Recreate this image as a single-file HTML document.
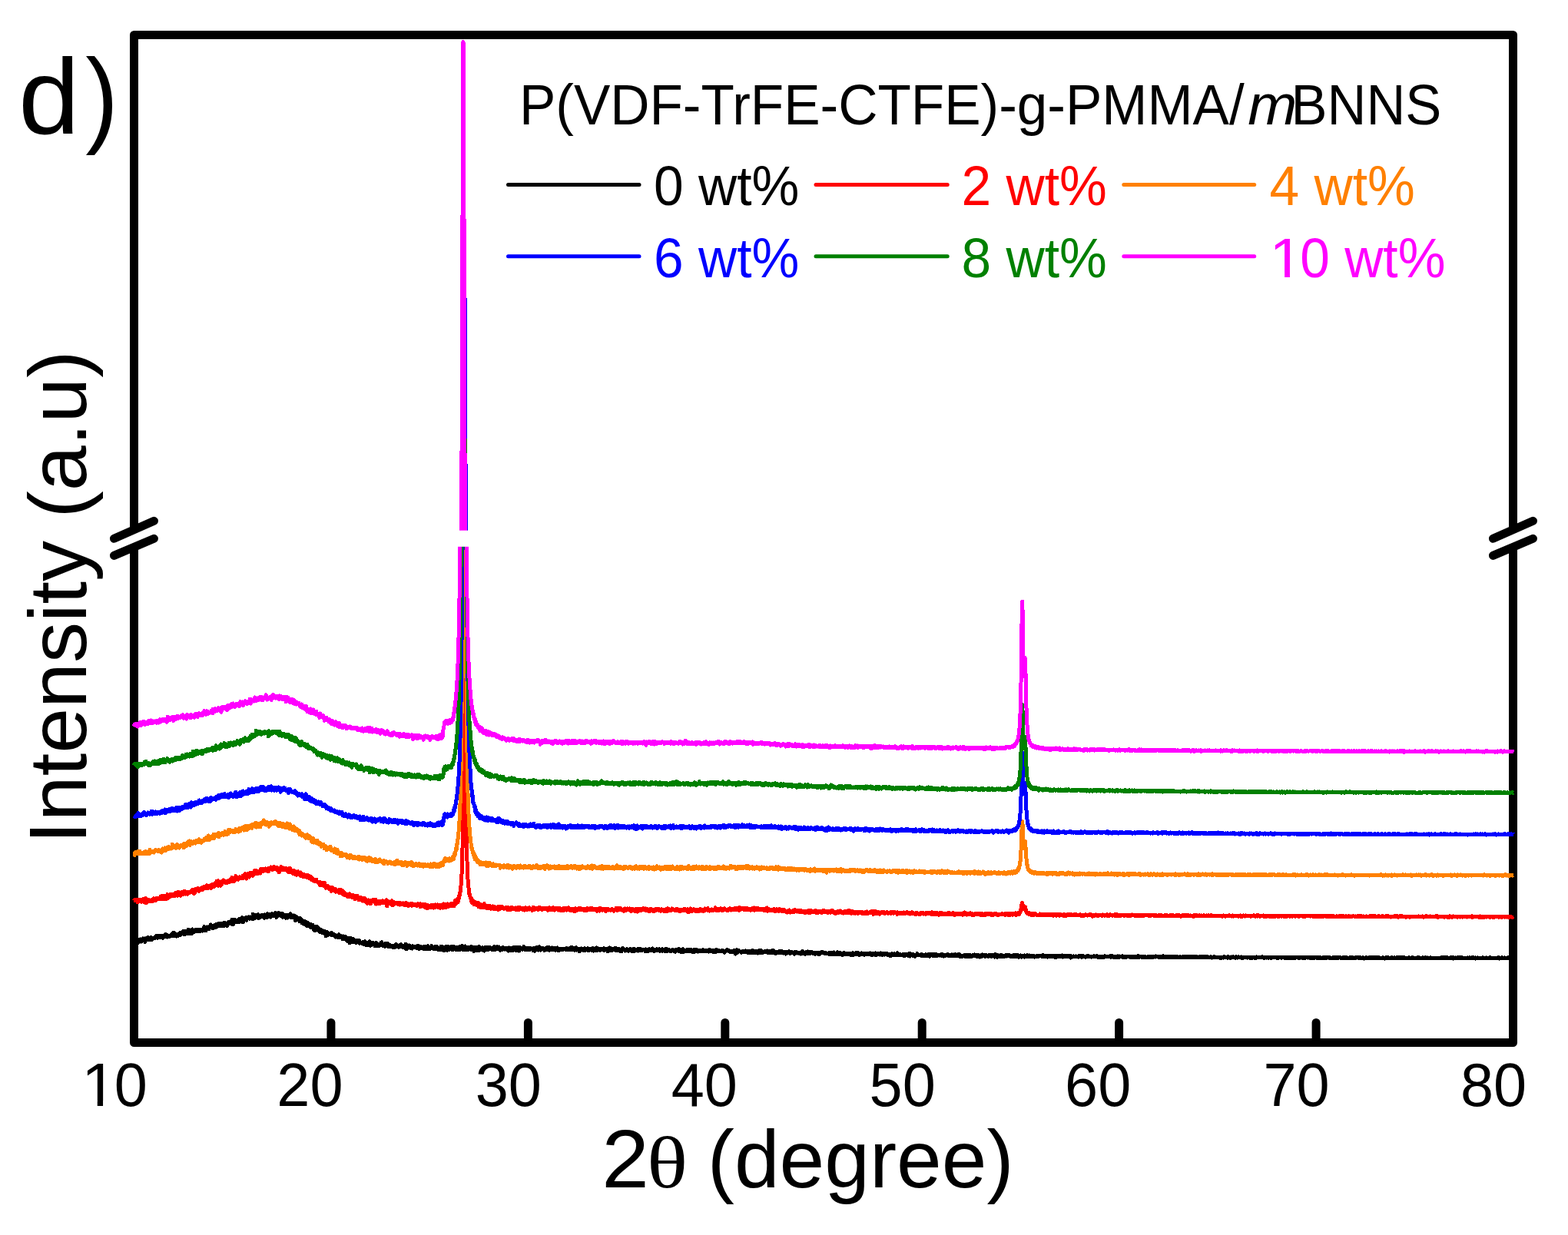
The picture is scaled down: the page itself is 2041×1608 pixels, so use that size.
<!DOCTYPE html>
<html><head><meta charset="utf-8"><title>XRD</title>
<style>html,body{margin:0;padding:0;background:#fff;width:2041px;height:1608px;overflow:hidden}svg{display:block}</style>
</head><body>
<svg width="2041" height="1608" viewBox="0 0 2041 1608">
<rect width="2041" height="1608" fill="#fff"/>
<g fill="none" stroke="#000" stroke-width="11" stroke-linejoin="round">
<path d="M174.5,690 L174.5,45.5 L1969.5,45.5 L1969.5,690"/>
<path d="M174.5,712 L174.5,1357.5 L1969.5,1357.5 L1969.5,712"/>
</g>
<g stroke="#000" stroke-width="11" stroke-linecap="round"><line x1="430.9" y1="1357.5" x2="430.9" y2="1331.5"/><line x1="687.4" y1="1357.5" x2="687.4" y2="1331.5"/><line x1="943.8" y1="1357.5" x2="943.8" y2="1331.5"/><line x1="1200.2" y1="1357.5" x2="1200.2" y2="1331.5"/><line x1="1456.6" y1="1357.5" x2="1456.6" y2="1331.5"/><line x1="1713.1" y1="1357.5" x2="1713.1" y2="1331.5"/></g>
<path fill="none" stroke="#000000" stroke-width="5" stroke-linejoin="round" shape-rendering="crispEdges" d="M174.3 1224.7l.5 3.1.5-2.6.5.6.5.1.5-.9.5-.9.5 2.3.5-.5.5-2.9.5 5.1.5-1.8.5-2.2.5 1.9.5-1.7.5.3.5.9.5-2.5.5 2.1.5.9.5-.2.5-2.1.5 1.3.5-3.1.5 1.6.5.7.5-2.3.5 1.4.5 2.1.5 1 .5-2.3.5 0 .5-2.3.5-.4.5-.4.5 2.3.5.2.5-1.8.5-.8.5 1.7.5 0 .5-.6.5 1.6.5-1.8.5 0 .5-1.4.5 1.5.5 1.4.5-1.7.5-.1.5.4.5-.3.5.2.5 0 .5 0 .5-1.9.5 1.3.5-2.4.5 2.2.5-2 .5 1.4.5.7.5-1.3.5.6.5-2.3.5 1 .5 1.8.5-2.4.5 2.2.5-2.6.5.5.5-.3.5 1.3.5.6.5-2.1.5 1 .5 2.3.5-2.6.5-.7.5 1.5.5-.9.5-.7.5-1.5.5 3.3.5-1.9.5.7.5-1.5.5 3 .5-.8.5.3.5-1.5.5.6.5.5.5.1.5-1 .5-.6.5-.4.5-.6.5-.4.5 1.7.5-.9.5-2.4.5 2.4.5 1.5.5-1.8.5-2.2.5 2.2.5 1.1.5-.8.5-1 .5 3 .5-.1.5-2.7.5 1.1.5-.6.5.4.5.8.5-.9.5-1 .5-1.1.5-.3.5 1 .5 1.5.5-1.3.5-.4.5.2.5-.4.5.6.5-2.3.5-1.2.5 2 .5-1.1.5 3.7.5-2.5.5-.2.5-1.9.5 2.4.5-1.3.5 2.3.5-.5.5-2.3.5 1.5.5-4.3.5 2.7.5 2.5.5-.7.5-.9.5-.4.5-2 .5 0 .5 2 .5 2.1.5-5.5.5 3.7.5-.1.5.3.5-2.6.5.4.5.7.5-1.6.5-.4.5.4.5 1 .5.5.5-.7.5 0 .5-1.1.5-.2.5 2.5.5-1.8.5-.2.5 1.3.5.3.5 0 .5-1.4.5-.7.5.3.5-.2.5 1.6.5-1.7.5.3.5-1 .5 1.8.5-4.9.5 3.3.5.4.5-2.9.5 4.6.5-3.4.5-.1.5-1.5.5 2.7.5-1.1.5-1.3.5 1.1.5.5.5.6.5-1.5.5-1.8.5.4.5-2.6.5 2.1.5 2 .5-.5.5-1 .5-.4.5 2.6.5-2 .5.8.5-.9.5-1.7.5 3.1.5-4.1.5-.1.5 1 .5-.6.5.1.5-.1.5 2.1.5-1.4.5.3.5-3 .5 1 .5 2.7.5-3.5.5 3.4.5-3.4.5 1.8.5-1.7.5 1.4.5-1.7.5.8.5 2.7.5-3.1.5 3.4.5-3.8.5-1.1.5 1.7.5-.8.5 3 .5-1.4.5.3.5-.9.5 2.6.5-2.6.5-.5.5-2.1.5-.2.5 1.5.5 1.1.5 0 .5-3.1.5 2.1.5-.6.5-2.1.5 2.3.5-4.2.5 3.6.5 3.2.5-5.3.5 1.4.5-2.9.5 1.6.5 2.1.5-2.7.5 1.3.5-.6.5-.1.5.7.5.4.5 1 .5-.7.5-2.2.5 2.8.5-.3.5-4.3.5 3.2.5.1.5.1.5-.7.5-2.8.5 1.4.5-2.8.5 2.7.5 3.2.5-2.1.5.1.5-2.1.5-.9.5-.1.5 1.6.5-1.5.5.2.5 2.5.5-4.2.5.3.5 1.1.5.5.5-.1.5-2 .5 2.2.5-.6.5.7.5-2.3.5 1.9.5-.2.5-1.4.5.6.5-.7.5 2.8.5-6.8.5 2.4.5-.5.5 1.9.5-.6.5.3.5 1.6.5-3.6.5 1.1.5.8.5-1.5.5 2.2.5-.1.5-1.7.5-1.7.5 5 .5-1.7.5-.2.5-.6.5-.2.5 1.2.5-1.3.5-1 .5 1.9.5-1 .5-1.4.5-.2.5 3 .5-.9.5 2 .5-3.9.5-.4.5 1.7.5 1.4.5-1.2.5-.4.5 2.2.5-4.1.5-.8.5.7.5.6.5 1 .5.9.5-1 .5 1.7.5-3.6.5 4.1.5-4.2.5 3 .5-3.3.5 1.9.5-.4.5.7.5.3.5-1.5.5.2.5.5.5-2.4.5.9.5-1.4.5 2.5.5 3.4.5-2.2.5-2.5.5.3.5 2.6.5-2.2.5-1.7.5.9.5 0 .5.1.5 2.6.5-.9.5-2.3.5 1.5.5-.9.5 0 .5-.4.5 5 .5-3.1.5 1.4.5.5.5-1.8.5 1.4.5.1.5-.4.5 3 .5-2.8.5-.7.5 1.4.5 1.8.5-1.1.5-2.1.5-.5.5-.1.5.5.5 1.7.5.7.5-4.5.5 3.4.5-1.5.5 2.8.5.5.5-2.4.5.6.5-.5.5 2.1.5-2.8.5 1 .5.8.5 3.1.5 1.9.5-3.3.5-1.6.5 2.2.5-1.2.5 2.2.5-2 .5 1.3.5.8.5 1.1.5-.7.5 2.3.5-1.4.5-2.6.5 4.3.5-1.5.5-.3.5 3.5.5-3.4.5 1.8.5-.9.5 3.3.5-2.2.5 1.1.5-2.1.5 4.4.5-3.5.5 3.2.5.5.5.4.5 1.1.5-4.1.5 2.6.5-.1.5.6.5 1.3.5-1.2.5-1.1.5 1.4.5 2.6.5-3.7.5 2.1.5-1.2.5 3.3.5-3.8.5 2.2.5.6.5.6.5 3.5.5-.9.5-3.4.5 4.8.5-4.5.5-.8.5.8.5 2.7.5.7.5-3.6.5 4 .5-.8.5 1.6.5-1.3.5 2.1.5-.3.5-2.3.5 4 .5-1.6.5 1 .5.9.5-3 .5 1.5.5-.8.5 0 .5 1.9.5.3.5 1.6.5.2.5-1.8.5-1 .5 5.9.5-1.3.5-3 .5-1 .5.9.5 1.2.5 1.3.5 0 .5-.6.5-.8.5.7.5-.5.5.7.5 0 .5 1 .5-3.2.5 2.3.5.2.5-1 .5 1.5.5-1.1.5.7.5.7.5.2.5-.3.5 2.5.5-1.1.5.3.5 0 .5-1.1.5-.2.5 2.6.5-1.5.5-1.9.5-.4.5 3.5.5-1.2.5 1 .5-.5.5.3.5.5.5-1.4.5 1.9.5 1.5.5-.3.5-3.2.5.7.5.1.5 1.6.5 1.6.5-.6.5-2.7.5 2.6.5 1.1.5-1.5.5 3.3.5-3.4.5 2.6.5 1.7.5-4.8.5 1.5.5 1.3.5 3.7.5-6.7.5 3.3.5-.2.5-.9.5-.4.5.6.5.4.5-1.2.5 3.9.5-3.4.5 1 .5-.2.5.5.5.8.5-1 .5.8.5 2.7.5-.7.5-1.7.5 1.7.5-2.1.5 1.5.5-2.1.5.5.5.5.5 2.9.5-1.2.5.5.5-.4.5.4.5.2.5.6.5-.7.5-1.3.5.3.5 2.7.5.3.5-1 .5-2.8.5 4.3.5-1.5.5-.4.5.2.5-.5.5 2.9.5 0 .5-3.5.5 1.2.5.7.5 1.3.5-4.7.5 4.4.5 1 .5-2.6.5.5.5 1.7.5-1.1.5-2.1.5.2.5.3.5-.5.5 1.9.5-.6.5.7.5.9.5 1.4.5-1.9.5-2.6.5 4.2.5-1.9.5 1.7.5-2 .5 1 .5-.5.5.1.5 1.7.5-2.4.5 1.1.5.1.5-.7.5-2.3.5 3.3.5-4 .5 1.7.5 1.4.5 1.1.5.6.5 0 .5-.2.5-1.2.5 2 .5-1.8.5 1.7.5-4.1.5 1.6.5.5.5.8.5-2.9.5 4 .5.2.5-.2.5-1.6.5 2.5.5-2.5.5 1.9.5-1.2.5.1.5-.2.5.2.5 1.5.5.4.5 0 .5-.6.5-.3.5-.2.5 1.6.5-2.6.5-.2.5.8.5-2 .5 1.7.5.3.5-1.1.5.5.5 1.6.5-1.1.5.4.5 1.2.5-2 .5-.6.5 1.4.5.6.5-2.7.5 3 .5-1.1.5-.1.5-.5.5.8.5 1.4.5-.5.5.4.5-1.4.5 2.4.5-.4.5-1.5.5-3 .5 3.2.5 3.2.5-3.3.5-1.1.5 3.3.5-2.7.5 1.3.5.3.5-2.5.5 1.9.5 1.2.5-1.7.5 1.2.5-.8.5 1.3.5.9.5-3.3.5.9.5.8.5-1.1.5-.2.5.6.5.1.5-.4.5 1.1.5.6.5 0 .5-.1.5.7.5-2.9.5 1.4.5.4.5.4.5-2.4.5 4 .5-3.1.5 1.3.5.6.5.4.5-2 .5.2.5 1.1.5.2.5.4.5-1 .5-.7.5-.7.5 3.5.5-3.5.5 2.3.5-.4.5.5.5.3.5.4.5-1.5.5.5.5-2.6.5 2.3.5-1.1.5.9.5 1.6.5-1.3.5 1.1.5-1.4.5.7.5-.9.5-2.3.5 2 .5.5.5.5.5-.1.5-.2.5 1.2.5-.3.5-1.1.5 1.4.5-3.1.5 1.9.5.1.5 1.6.5-2 .5-1 .5 1.8.2 1.7.2-2.1.1.1.1-.1.2.3.2 1.4.2.7.2-1.6.1-.6.1 2.1.2-1.9.2 0 .2-.5.2 0 .1.7.1-.6.2.8.2-.4.2.5.2-1 .1.2.1.5.2-.2.2 0 .2 1.2.2-2.5.1-.9.1 2.9.2-1 .2 1.7.2-1.6.2-1.1.1 3.6.1-1.9.2-1 .2-.3.2 1.5.2-1.4.1 1.2.1.8.2-2.8.2 1.2.2.9.2 1.3.1-.8.1-1.5.2 2 .2-1.9.2.2.2.6.1-1.6.1 4.5.2-2 .2-1.1.2-.8.2-.7.1 1.7.1.3.2-1.2.2.3.2.8.2-.7.1-1.9.1 2.7.2-.4.2.5.2-1.6.2-1.5.1.9.1 1.7.2 2 .2.3.2-2.3.2-1.9.1 1.2.1.9.2 0 .2-.4.2 1.4.2-2.5.1-1.3.1 1.4.2-.3.2 3.6.2-2.6.2-1.3.1 2.2.1.4.2-1 .2.1.2.9.2-.5.1-1.3.1 1.4.2.3.2-.6.2.6.2-.3.1-.9.1.1.2.8.2-1.3.2 1.9.2.1.1-3.5.1 2.1.2-.8.2.2.2.8.2-.3.1.8.1-.3.2.1.2-1.3.2.5.2 1.9.1-4.2.1 4.5.2-2.4.2 1.8.2-4 .2 2.3.1 1.4.1-.8.2 1 .2-2.1.2.4.2-.1.1 1.2.1 0 .2-.6.2-.2.2 0 .2.4.1-1.1.1.9.2-.1.2-.4.2 0 .2 2.2.1-2.3.1 1.1.2 1.1.2-.7.2-.8.2 1.1.1-2.6.1.2.2.9.2.2.2.1.2 2.1.1-.2.1-1.8.2.3.2-1.2.2 1.3.2-1.8.1 2.9.1-2 .2 1.1.2-2 .2 2.9.2-.8.1 1.4.1-2 .2-1.8.2.9.2-.5.2 3 .1-2.3.1-.2.2 1.5.2-.4.2.3.2-1.1.1-1.6.1.7.2-.9.2 3.7.2-.4.2-1.3.1 1 .1.1.2-.1.2-.1.2.4.2-.8.1-2.5.1-.6.2 4.3.2-.7.2-3.3.2 2.9.1-1.2.1.4.2-2.2.2 3.6.2-.9.2 1 .1.2.1.3.2.3.2-1.4.2-.1.2-.9.1 1.3.1-.9.2-1 .2 2.6.2-.5.2-3.7.1.9.1 1.8.2-1.2.2 2.7.2-1.1.2.4.1.4.1.4.2-1.7.2 1 .2-.4.2.6.1-.3.1.9.2-.9.2-1.1.2.7.2-1.4.1 1.6.1 1.2.2-2.2.2-1.1.2 1.7.2-.5.1.5.1-.6.2.7.2-1.1.2 2.7.2-1.9.1.8.1.3.2-1 .2.6.2-.7.2-.2.1.2.1.8.2-1.9.2.4.2.1.2.3.1 1.8.1-1.3.2-.3.2.5.2 1 .2-1.9.1 1.9.1-3.6.2 1.5.2 2.5.2.1.2-1.4.1-.7.1 1.4.2-1.3.2 2 .2-.4.2-.4.1-1.7.1 1.9.2-1.3.2.1.2-.2.2.3.1.6.1.4.2 0 .2 2.7.2-3.9.2 1.6.1-2 .1.5.2-1 .2 2.5.2-1 .2-.1.1-.3.1 1.1.2-1.5.2 1 .2 2.2.2-2.8.1-.5.1-.4.2 1.9.2-.8.2-.8.2-.1.1.9.1-1.1.2 3.3.2-2.4.2 0 .2.1.1-1.8.1.3.2 1.2.2.4.2-1.3.2 3.1.1-1.3.1.8.2-.1.2-1.5.2 2.9.2-2.5.1-2.1.1-.5.2 2.5.2.9.2-.8.2 1.7.1-2.1.1.9.2.2.2-1.9.2 1.4.2.1.1.7.1.2.2-.3.2-1.8.2 1.6.2.3.1-1.1.1.8.2 0 .2.4.2-1.1.2.4.1-.3.1-.1.2-.7.2.3.2-.9.2 1 .1.9.1-.1.2.2.2-.9.2 1.6.2-2 .1 1.3.1-.4.2-1.2.2.1.2 1.5.2-.8.1.3.1 2.9.2-2.6.2-.5.2.7.2-1.4.1.4.1.7.2-1.3.2.8.2-.2.2.3.1-1.9.1 3.7.2-2 .2.7.2-1.6.2-.3.1 1.4.1-.4.2 1 .2-1.6.2-.1.2 1.4.1.4.1.2.2-1 .2.3.2-1.1.2 2.2.1-.2.1 0 .2-2.8.2 2.5.2-1.6.2 1.2.1 0 .1.8.2-1.5.2-.1.2-.7.2-.2.1 1.8.1-1.5.2 1.6.2-1.1.2-.1.2 1.5.1-.1.1-1.9.2.9.2.1.2.7.2-1.4.1.3.1.3.2.8.2.3.5-1.5.5 2.3.5-1.3.5-1.3.5-.8.5 1.1.5-1.9.5 2.6.5.4.5.8.5-.8.5-2.3.5 1.5.5 1 .5-3 .5 1.4.5 1.5.5-.6.5-2.1.5 1.6.5.5.5 2.1.5-2.6.5-.4.5 1.1.5.1.5.3.5.9.5-1.6.5-1.3.5 1.4.5 0 .5 1 .5-.1.5-1.6.5 1.5.5.2.5-1.2.5 1.2.5-.8.5 0 .5-.3.5.9.5 2.1.5-2.6.5-1.4.5.9.5-.4.5 1 .5-.5.5 2.7.5-1.8.5 1.1.5-2.6.5.5.5 2.3.5-3.7.5 1.8.5-1.7.5 3.1.5-3 .5 1.2.5.1.5-1.5.5 4.1.5-2.6.5 1.8.5-2.3.5-.8.5 1.7.5 0 .5 2.7.5-4 .5-.5.5.9.5 1 .5.3.5-1.3.5.4.5.8.5.6.5-1.7.5.7.5-2.8.5 1.8.5 1.3.5-.4.5-.2.5 1.8.5-1.9.5-.8.5 1.3.5 0 .5-1.3.5 2.1.5.7.5-2.2.5-.3.5.8.5 1.3.5-1.8.5-.2.5.2.5.8.5 0 .5-.4.5 1.4.5 1 .5-2.8.5 1.6.5-.7.5 2.7.5-3.9.5.6.5.4.5-1.5.5 1.2.5.9.5-2.1.5 1.6.5 1.6.5-2.3.5-.3.5-1.6.5 2.4.5-1.5.5 2.1.5 1.1.5-1.1.5-1.3.5 1.4.5-1.1.5-.6.5.6.5.7.5-.5.5.8.5 1.6.5-1.5.5.2.5-1.4.5 1.9.5-.9.5.6.5-1.7.5 1 .5-2.5.5 1.9.5-.5.5-.1.5 2.7.5-3.2.5 1.3.5 0 .5.7.5.5.5-2.6.5 1.1.5-.2.5 1.4.5.2.5-1.3.5-.1.5-.4.5 1.3.5 1.3.5-1.3.5-1 .5-.1.5.1.5-.9.5 3.2.5-1.6.5-.3.5 2.4.5-1.9.5 1.2.5-1.1.5.8.5-1 .5-.4.5.7.5.3.5.4.5-.9.5-.4.5-.1.5.7.5-.8.5.2.5.8.5 0 .5 0 .5-1.2.5-.7.5 1.7.5-.2.5-.4.5.5.5.6.5-1 .5.6.5-1.3.5.7.5-.5.5-.6.5 1.8.5-3.1.5 2.6.5.8.5-.3.5-1.9.5 1.7.5-1.9.5.9.5 2.2.5-1.2.5 1 .5-2.2.5-.9.5 1.2.5 2 .5-.3.5.1.5-1.2.5.1.5-.1.5 3 .5-2.7.5 1.6.5-1.8.5 1.4.5-2.3.5.6.5.8.5-.9.5.2.5.2.5-.3.5 2 .5-.4.5-2.4.5 2.9.5-1.6.5 0 .5-.1.5 1 .5-.2.5-1.1.5.5.5-1.3.5 3 .5-2.5.5-.1.5.2.5.8.5.6.5-1 .5.4.5-.4.5 1.6.5-1 .5-1.9.5 3.1.5-1.1.5 1.5.5-2.4.5.1.5.3.5-1.1.5 1 .5 1.5.5-.5.5-2.9.5 3.5.5-.9.5.4.5-.7.5.1.5-.1.5 0 .5-1 .5 2 .5-.8.5.2.5-.1.5-.6.5.3.5-1.2.5 1.5.5 0 .5-.5.5-1.4.5 2.9.5-1.4.5.2.5-.3.5-.3.5.2.5-.6.5.5.5 2.5.5-.9.5.8.5-2.4.5-1.2.5.5.5-1.2.5 3.5.5.1.5-1 .5.2.5 0 .5-.4.5.8.5-1.6.5.5.5.3.5-1.5.5.7.5 1.3.5 0 .5-2.7.5 3.2.5-.5.5.4.5-.8.5.6.5-1.7.5 1 .5-.8.5.5.5 1.6.5.4.5-1.4.5-.5.5 1.2.5-.3.5 1.3.5-1.2.5-2.7.5 2.2.5-.3.5-.5.5.9.5-.1.5-.3.5 1.7.5-1 .5 0 .5-.2.5 1 .5-2.2.5 2.2.5-1.4.5 1.6.5 0 .5-.9.5-.8.5.6.5.1.5-1.7.5 1.1.5-.3.5 1.9.5.3.5-2.3.5.2.5-.7.5 1.5.5.5.5.9.5-2.8.5 2 .5-1 .5-.5.5.4.5-.4.5 1.1.5-.4.5 1.1.5-1.6.5-1.2.5.8.5 1.2.5-1.6.5.6.5 1.2.5-1.7.5 2 .5-.4.5-.9.5.5.5-.4.5.1.5.1.5.3.5-.1.5-.6.5-.2.5 2.8.5-2.9.5.9.5 1.2.5-.2.5-1.5.5 2.5.5-.2.5-1.9.5-.9.5 1.8.5-.8.5-.1.5-.4.5.2.5.7.5.6.5-2.7.5-.2.5 3 .5-1.6.5 1.4.5-.5.5 1 .5-.3.5-1.1.5.1.5.5.5.4.5-1.3.5-.8.5 1.5.5-.1.5-.1.5-.8.5 1.5.5-2.1.5 1.1.5 1.6.5-2.1.5 1.3.5.1.5 0 .5-1.9.5 2.4.5-.8.5.4.5-.2.5-.2.5 1 .5.2.5-2.9.5.9.5.6.5-1.8.5 3.3.5-2 .5 1.2.5-.3.5-.4.5-.7.5.6.5.4.5.6.5-.8.5-.2.5.1.5 1.4.5-.9.5-.8.5-.6.5.8.5-.4.5.4.5 1.6.5-.6.5-.4.5.2.5 1.2.5-2.6.5 1.4.5-.5.5.3.5-.1.5-.3.5.8.5-2.5.5 2.3.5.3.5-1.4.5-.1.5 2.6.5-2.5.5.5.5-.3.5.1.5 0 .5-1.3.5 4 .5-2.8.5 1 .5-.4.5 1.3.5-.6.5.4.5.1.5-.3.5-.7.5.8.5-2.3.5 2.2.5-.1.5-.4.5-1.4.5 2.4.5-1.8.5 1.2.5-2.2.5 1.5.5-.5.5-.1.5.1.5 2.2.5-1.6.5.4.5 1.6.5-3.2.5 2.6.5-1.6.5-.3.5.2.5-1.2.5.3.5.3.5.5.5 1.2.5.3.5-1.3.5.7.5.1.5-.6.5.4.5-.7.5 1 .5-.7.5.3.5.2.5-.1.5-.8.5-.5.5 1.1.5-.4.5 0 .5.4.5-.5.5 1 .5 0 .5-1.2.5 1.2.5-1.2.5 1.5.5-.1.5-.5.5.8.5.1.5-.5.5-2 .5 1.7.5.1.5.5.5-1.5.5 1.5.5-.3.5 0 .5-1.4.5.3.5 1.8.5-.3.5-.8.5 1.1.5-.8.5-.5.5-1 .5 2.2.5-1 .5.4.5-1.8.5 1.1.5.7.5-.4.5-.4.5-.4.5 1.2.5-.5.5 0 .5.1.5-.3.5.3.5-.3.5.6.5-1.2.5.2.5 1 .5-.1.5.3.5 1.6.5-1.1.5.3.5-.6.5-.4.5-.6.5-.9.5.4.5-.8.5 1.1.5-.4.5.5.5.8.5-.3.5 1.1.5.1.5.1.5-.2.5-.5.5-.6.5.8.5-.6.5.1.5.5.5-1.3.5-.4.5 1.7.5 1.2.5-.5.5 2.3.5-4.5.5.7.5-1.4.5 1.2.5 2.4.5-.2.5-2.3.5.6.5-.4.5-.4.5.9.5 0 .5.3.5.2.5.4.5.6.5-1.3.5-.1.5.2.5.4.5-.5.5-.7.5.4.5 1.1.5-1.5.5 1.6.5-1.9.5 1.7.5 0 .5-.7.5.2.5-.1.5 1.6.5-1.8.5-.2.5.9.5.6.5-.6.5-.4.5 1 .5-1.5.5 0 .5-.4.5 2.1.5-2.9.5.8.5 1.3.5.2.5 1.1.5-1.1.5-.8.5 1.6.5-.2.5.1.5-.1.5-.5.5-1.6.5.3.5 2.6.5-1.6.5-1.6.5 1.6.5.8.5-.5.5-.3.5-2 .5 2.1.5-.2.5 1.5.5-1.4.5 0 .5-.3.5.3.5.3.5-.6.5-.3.5-.3.5 1.1.5-.4.5.1.5-1 .5.6.5-.9.5 2.4.5.2.5-.7.5-.4.5.5.5-1.6.5.1.5 2.1.5-1.8.5.8.5-.5.5-1.4.5 1.4.5 1.3.5.4.5-3.2.5.8.5.9.5 1.3.5.2.5.3.5.1.5-1.7.5-.5.5 1.6.5-1 .5.3.5-.3.5 0 .5 1.1.5-1.6.5-.6.5.8.5.7.5-.3.5.1.5-1.5.5.9.5 1.7.5-1.1.5-.4.5 1.5.5-1.4.5 1.2.5-.5.5.2.5.5.5 1 .5-.8.5-1.7.5-.2.5.6.5.2.5.7.5-.5.5.1.5-1.6.5 1.4.5.5.5 1 .5-.8.5-.5.5-1.1.5 1 .5 0 .5-.1.5.3.5.3.5-.1.5 1.5.5-2.6.5-.5.5 1.6.5-1.3.5.9.5.1.5-.6.5 1.3.5-.1.5-.4.5.4.5.2.5-.9.5.7.5-.4.5-.1.5-.3.5 1.8.5-1.2.5-1.4.5 1.6.5-2.5.5 2.3.5.5.5.5.5-1 .5-.7.5 2.2.5-.8.5.2.5-1.2.5.7.5-1.9.5 1.8.5-2.1.5.9.5-.4.5 2.2.5-.2.5-1.2.5 1.5.5-.9.5-1.7.5 1.3.5-1.1.5 1.5.5.2.5-.8.5 1.2.5.2.5-1.5.5 1.2.5-.6.5-.1.5 1.6.5-1.9.5.3.5.2.5.5.5.2.5-1.4.5 1.9.5.4.5.2.5-1.5.5-.6.5-.4.5 1.1.5-.3.5 0 .5-.4.5-1.3.5 1.6.5.1.5-.2.5-.8.5.9.5.1.5-.8.5 1.5.5-.5.5.1.5.2.5-.5.5.2.5.5.5.2.5.1.5-.9.5.8.5.3.5-2 .5.8.5.3.5 0 .5 1.5.5-.5.5-1 .5 0 .5-1.1.5.4.5 1.9.5-2.5.5 1.9.5-1 .5.3.5.2.5 1.5.5-1.2.5.2.5.4.5-2.6.5 3.3.5-2.8.5.7.5 1.2.5-1.6.5-.4.5 2.4.5-1.2.5 1 .5-.3.5-.6.5 1.6.5-1.6.5 1.9.5-2.4.5-.1.5.3.5.8.5-1.1.5.3.5 1.8.5-1 .5.8.5-.7.5-.7.5-.2.5.8.5-.1.5-.4.5-.1.5 1.7.5-.4.5-.5.5-.6.5 0 .5 1.9.5-2 .5 2.3.5-2.4.5-.6.5 2.8.5-1.7.5 1.3.5-.8.5-.6.5 1 .5-1 .5.6.5-.5.5-1.2.5 1.7.5-.8.5.4.5.4.5-1.4.5 1.5.5.1.5 1 .5-.8.5-.4.5-.8.5.5.5-1 .5 1.4.5-.5.5-.1.5.3.5.4.5-.2.5-1.1.5 2 .5-1 .5.2.5-.3.5-.7.5 1 .5-.5.5-.4.5.8.5.5.5-.1.5-.3.5-.7.5.3.5.1.5-1 .5 1.8.5-.6.5-1 .5 2.1.5.4.5-2.5.5.9.5-.5.5 1.2.5-1.6.5 1.4.5-.1.5.6.5-2.3.5.9.5.4.5.9.5-.6.5.5.5-.2.5-1.1.5.6.5-.2.5.1.5-.4.5 1.2.5-.3.5-1.7.5 2 .5-.9.5-.7.5 2 .5-.9.5.3.5-.4.5.1.5-1.3.5 1.9.5-1.1.5.6.5-.1.5-.6.5-.2.5.8.5 1.1.5-1.5.5.1.5.5.5-.5.5 1.4.5-.6.5 1.6.5-1.8.5 1.6.5-2.1.5.6.5-1 .5.5.5.1.5.7.5.6.5-1.2.5-.9.5 1.1.5-.1.5-.2.5 1 .5.2.5-1.4.5 0 .5-1.4.5 1.5.5 1.1.5-1.3.5 1.4.5-.2.5 0 .5 0 .5-.5.5.8.5.1.5-.6.5-.2.5 1 .5.1.5-1.6.5 1.1.5-.5.5 1.7.5-2 .5-.2.5-.2.5 1.4.5-1.5.5 1.3.5-.9.5 1.4.5.2.5-.3.5-2.3.5.4.5-.9.5 3.9.5-2.4.5.2.5.3.5.4.5-.6.5.3.5-.1.5-.9.5 2.3.5-.1.5-1.2.5-.1.5 1.4.5.5.5-1.8.5.4.5-.7.5.6.5-2.1.5.2.5 2 .5-.5.5.4.5-.2.5.4.5-.2.5-.3.5.4.5-.8.5 1.5.5-1.7.5.4.5 1 .5-.9.5.9.5.4.5-.5.5-.8.5 1.7.5-1.1.5-1 .5 2.2.5-1.3.5.3.5.2.5-1 .5 1 .5-1.5.5.2.5.4.5 1.9.5-1.2.5.4.5-1.1.5.7.5-1.9.5 1.4.5.5.5-.7.5-1 .5.2.5 1.6.5.5.5-1.2.5 1.4.5-2 .5 1.4.5-.3.5.6.5-1.8.5 1.7.5-.6.5-.7.5.3.5.2.5.4.5-.8.5 0 .5.6.5 0 .5.3.5.3.5-1.9.5 1.2.5.3.5-.2.5-.7.5 1.2.5.7.5-1.3.5-.4.5 1.1.5-.5.5 0 .5.1.5-.5.5.4.5-.5.5-.9.5 2.1.5-.5.5-.3.5 1 .5-1 .5.9.5-.2.5-.8.5-.6.5 1.2.5-.2.5.6.5-1.8.5 1 .5.2.5.1.5-.1.5.1.5-1.8.5 1.4.5-.3.5-.5.5 1.1.5-.3.5-.6.5-.1.5 1.2.5-2 .5 1.7.5-.7.5.9.5 1.2.5-.6.5-.8.5 1.1.5.3.5-.6.5.6.5-1.1.5.3.5-.5.5-.2.5.3.5-.6.5.5.5 1.6.5-1 .5-.6.5 1.3.5-.2.5-1.7.5.2.5 1.7.5-1.1.5 0 .5-.4.5-.4.5 1.5.5-1.3.5.9.5.9.5-.9.5-.5.5.6.5 0 .5-.7.5.5.5-1 .5-.4.5.8.5-.8.5.8.5.3.5.2.5 1.2.5-1.9.5.3.5 0 .5-.3.5 2 .5-1.9.5.4.5 0 .5 1.8.5-1.8.5-.3.5 1.3.5-1.3.5-.9.5 2.1.5-.1.5-1.5.5.1.5.8.5-.6.5-.4.5.2.5 2 .5-.5.5-1.4.5.6.5.2.5-.3.5.2.5 1.2.5-1.6.5-.1.5.5.5-.4.5.2.5 0 .5-.4.5 1.4.5-1.2.5 1.3.5-1.4.5 0 .5.7.5-.3.5.7.5-.1.5 1.1.5-3.4.5 1.2.5.7.5-.1.5.1.5 1.7.5-3.1.5 1.9.5-.6.5.1.5.7.5-.7.5.6.5.3.5-.1.5-1.9.5.8.5-.5.5.4.5.4.5 1.4.5-1.7.5.2.5.1.5 1.1.5-1.3.5.6.5.2.5-.1.5-1.7.5.5.5 1.2.5-1.5.5 1 .5-.8.5 1.2.5-.3.5-.9.5.8.5-.5.5.3.5 1.1.5-.6.5.1.5.7.5-.9.2.8.25-.6.05-.1.2-.4.25-.2.05-.2.2.1.25.9.05-.1.2-.7.25 1.2.05-1.1.2.1.25-.6.05.4.2 1 .25-.2.05-.7.2 1.1.25-.7.05 0 .2.6.25-.3.05-.5.2-.4.25 1.4.05-2.2.2 1 .25-.7.05.7.2.9.25-.7.05-.1.2.3.25 1.2.05-.4.2-.6.25-.6.05.2.2.4.25-.3.05.1.2-.6.25-.2.05.2.2.8.25-.7.05 2.1.2-1.2.25 0 .05.3.2-1.3.25 0 .05.5.2.5.25 0 .05.7.2-.2.25-.2.05.1.2-.5.25.3.05-.7.2 0 .25.8.05-1.6.2 1.9.25.3.05-1.4.2.7.25-.3.05-.7.2.8.25.1.05.3.2-.8.25.3.05-.5.2 1 .25-.7.05.6.2-.9.25.5.05-.6.2.1.25 1.1.05-.8.2 0 .25.5.05-.9.2 1.6.25-1.6.05.3.2 1.5.25-2.3.05 2 .2-.8.25.1.05-.9.2.7.25-.8.05 1.3.2-.7.25-.3.05.1.2.2.25.7.05-.4.2-.6.25-.1.05-.1.2 1.1.25-.2.05-.9.2-.3.25.9.05-.3.2.6.25-.4.05.3.2.3.25.1.05-.7.2.5.25-.7.05-.4.2.8.25.6.05.1.2-.8.25-1 .05 1.2.2-.3.25.5.05.2.2-.8.25-.2.05.2.2-.2.25-.2.05.7.2-.5.25.3.05-.1.2-.1.25.7.05-.6.2.2.25.5.05-.6.2-.7.25.5.05 0 .2.7.25.6.05-.9.2-.2.25 1 .05-1.3.2.6.25.1.05-.3.2-.1.25.2.05.8.2-.5.25-.7.05.5.5.4.5.5.5-.6.5-.3.5.6.5-.2.5-.5.5-.4.5.4.5.5.5-1.1.5-.3.5 1.2.5-1.2.5.2.5.6.5 0 .5.1.5.1.5.2.5-.4.5-.4.5-1.1.5 2.3.5-.3.5 0 .5-.4.5-.5.5.8.5-.3.5-.7.5 1.3.5-1.3.5.5.5 1.2.5-1.4.5.5.5.5.5-.5.5-.8.5.5.5.2.5-.8.5 1.6.5-.6.5.3.5-.3.5.1.5-.4.5-.6.5 1.1.5-.3.5.8.5-1.4.5.7.5 1.1.5-1.9.5.1.5.7.5.8.5-1.5.5.6.5-.1.5-.2.5.2.5.8.5-.6.5-.8.5.4.5.4.5-.8.5.4.5.1.5-.9.5 2.1.5-1.8.5.9.5-.1.5-.3.5 1 .5-.6.5-.5.5 1.1.5-.3.5-.9.5-.2.5 1.2.5-.5.5-.7.5 1.1.5-1.1.5.4.5 0 .5-.6.5 1.4.5 1.4.5-1.5.5-.1.5-.3.5.1.5.2.5.2.5-.6.5.3.5-.2.5.4.5.2.5.1.5-.8.5 0 .5.6.5-.4.5 0 .5.3.5 0 .5.5.5-1.3.5 1.2.5-.8.5.6.5-1 .5.6.5-.3.5 1.2.5-1.3.5 1 .5-1 .5-.1.5.7.5.4.5-.6.5.4.5-.2.5-.1.5.7.5-.7.5.4.5-1 .5.5.5.6.5-.7.5-.9.5 1.5.5-.1.5-.4.5.2.5-.2.5.3.5.4.5-.4.5-.2.5-.2.5.2.5-.2.5.7.5-1 .5.3.5.4.5 0 .5 0 .5-.3.5.3.5-.8.5-.1.5.2.5.8.5.5.5-.9.5-.1.5.2.5 1 .5-.8.5 0 .5-.3.5.5.5.4.5-.6.5-.4.5 1 .5-.7.5.9.5-1.3.5.4.5.2.5-1 .5.9.5.3.5-.4.5.3.5-.1.5-.5.5.7.5-.7.5.2.5-.2.5.7.5-.5.5 0 .5-.8.5.9.5.6.5-1.5.5 1.2.5-.2.5-.8.5.6.5.7.5-.5.5.2.5.3.5-.6.5.5.5-.9.5.1.5 1.1.5 0 .5-.2.5-1.1.5.6.5-.3.5 1.2.5-1.5.5.1.5.3.5.4.5-.4.5.1.5.3.5-.1.5-.9.5.3.5 1.3.5-.7.5.8.5-.1.5-.2.5-.5.5.7.5-.9.5 1.2.5-.7.5 0 .5-.4.5-.1.5.1.5-.1.5-.1.5-.1.5.6.5.4.5.4.5-.6.5-.4.5.4.5.5.5-.7.5.4.5-.3.5-.1.5-.3.5.5.5-.6.5-.1.5.6.5.3.5-.1.5 0 .5-.5.5.1.5.5.5.5.5-2.1.5 1.7.5-.4.5-.2.5-.3.5.1.5-.3.5.7.5-.6.5.4.5-.6.5 1.2.5-.2.5-.8.5.7.5-.4.5-.2.5.4.5.4.5.2.5-.5.5.4.5-.2.5 0 .5.1.5-1 .5.4.5.9.5-1.3.5.3.5 1.1.5-1.2.5.5.5 0 .5-.2.5.5.5 0 .5-.7.5 1.1.5-1.1.5.2.5.1.5.1.5-.5.5.5.5-1 .5.7.5-.1.5 0 .5.3.5.1.5-.4.5.4.5-.7.5.5.5.5.5-.6.5.1.5.1.5.4.5-.2.5-.2.5-.3.5.5.5-1.3.5 1.3.5-.4.5.5.5-.3.5.6.5-.8.5-.5.5.8.5-.2.5.2.5.5.5-.9.5.7.5.1.5 0 .5-1.2.5.9.5-.4.5.2.5-.2.5.2.5.5.5.3.5-.4.5-.8.5 1 .5-.9.5.3.5.6.5-.7.5.5.5-.3.5-.4.5.5.5-.2.5.9.5 0 .5-.1.5-1 .5 1.1.5-.6.5.1.5-.1.5-.3.5.2.5.3.5.3.5-.4.5-.2.5-.2.5.1.5.7.5-.3.5-.2.5-.7.5 0 .5.9.5 0 .5.2.5-.4.5-.3.5-.4.5.3.5-.5.5 1 .5 0 .5.4.5-1.2.5.1.5.8.5-.1.5-.9.5.5.5.3.5-.2.5.3.5-.1.5-.2.5.3.5-.1.5.4.5-.9.5.4.5-.1.5.1.5.3.5.1.5-1.1.5 1.3.5-.3.5 0 .5-.1.5.3.5-.2.5-.8.5.4.5.1.5 0 .5 0 .5.4.5-.7.5.2.5-.1.5.4.5.1.5-.5.5.5.5-.3.5.7.5-1.3.5.8.5.4.5-.5.5-.3.5.1.5.5.5-.4.5.6.5-.4.5-.2.5.1.5.3.5.2.5-.7.5-.1.5 0 .5.6.5.5.5-.8.5.4.5-.4.5.5.5-.9.5.8.5-.7.5.2.5.4.5-.2.5 0 .5.3.5-.1.5.4.5-.2.5-.6.5.3.5-.2.5.1.5.7.5-.9.5.8.5.1.5.4.5-1 .5.1.5 0 .5-.2.5.8.5 0 .5-1.5.5.7.5.6.5-.8.5.1.5.3.5-.1.5 0 .5 0 .5.7.5-1.5.5.7.5-.2.5.5.5-.3.5.3.5-.1.5.8.5-1.3.5.3.5.5.5-.4.5.1.5-.6.5.8.5-.2.5.2.5-.5.5.1.5-.1.5.9.5-1.2.5.8.5-.1.5.4.5-.4.5-.4.5.5.5-.8.5 1 .5-.4.5-.2.5.1.5.3.5-.7.5 1.1.5-.8.5.8.5-.5.5.6.5-1.1.5.8.5-.4.5-.2.5.6.5-.4.5-.2.5.2.5-.2.5.2.5.1.5.4.5-.4.5-.3.5.5.5-.3.5-.2.5-.1.5 1 .5-.6.5.6.5-.9.5-.1.5 1 .5-.7.5 0 .5 0 .5-.2.5.7.5-.8.5.7.5-.6.5 1.2.5-.6.5.1.5-.9.5.7.5-.4.5-.1.5.1.5.5.5-.2.5-.2.5-.1.5 0 .5.1.5.1.5-.3.5.1.5-.5.5.8.5.2.5-.4.5.6.5-.7.5.3.5.4.5-.3.5-.4.5.4.5-.2.5.5.5-.1.5-.4.5.3.5.4.5-.2.5-.1.5-.3.5-.2.5 0 .5.6.5-.7.5.5.5.3.5-1 .5.6.5-.4.5.3.5.2.5-.5.5-.1.5.3.5.2.5-.2.5-.2.5.6.5-.6.5-.1.5.5.5.7.5-.9.5.1.5-.3.5.2.5-.2.5.5.5-.3.5-.1.5.6.5-.8.5.8.5-.4.5-.2.5.3.5-.1.5.2.5-.2.5.7.5-.3.5.1.5-.8.5.3.5.5.5-.2.5-.2.5 0 .5.3.5-.9.5.3.5-.1.5.8.5-.8.5.3.5.6.5-.6.5.2.5-.1.5.2.5.5.5-1 .5.3.5.6.5.2.5-.8.5.5.5-.2.5-.1.5-.6.5 0 .5.5.5-.1.5 0 .5-.3.5.8.5-.5.5.9.5-.9.5.2.5.1.5-.3.5-.2.5.1.5.2.5-.2.5.8.5-.8.5.4.5 0 .5-.2.5-.3.5.4.5.2.5-.3.5 0 .5-.7.5.4.5.2.5.2.5.1.5-.3.5.2.5-.4.5.5.5 0 .5-.2.5.3.5-.4.5 0 .5 0 .5.7.5-1.1.5.6.5-.2.5.2.5-.5.5.7.5-.1.5-.2.5-.1.5.2.5.2.5-.7.5.9.5-.6.5.4.5-.5.5.8.5-.5.5.5.5-.7.5 0 .5.5.5-.1.5-.1.5.2.5-.2.5-.2.5-.5.5-.1.5.9.5-.1.5-.4.5.4.5-.2.5.1.5.3.5-.8.5.6.5 0 .5-.2.5.1.5-.3.5.3.5.2.5 0 .5-.4.5.4.5-.1.5.1.5-.2.5.2.5-.1.5.6.5-.8.5.5.5-.4.5-.4.5.6.5.2.5-.2.5.1.5-.5.5.3.5-.5.5 1 .5-.1.5-.8.5.2.5-.2.5.1.5.1.5-.2.5.2.5.3.5-.2.5.3.5-.3.5.1.5-.4.5.6.5-.6.5.2.5-.2.5.5.5-.5.5.5.5.4.5-.4.5-.8.5 1 .5-.3.5.1.5 0 .5.2.5 0 .5-.4.5-.3.5.3.5.3.5-.8.5.6.5-.6.5.9.5.2.5-.3.5-.3.5.3.5.2.5.1.5-.1.5-.1.5-.6.5.3.5.1.5-.1.5-.6.5.5.5-.1.5.3.5 0 .5-.5.5.2.5.3.5-.4.5.3.5-.2.5 0 .5.5.5-.3.5-.2.5.7.5-.6.5.1.5 0 .5.9.5-.7.5.1.5-.4.5.4.5.1.5-.7.5.5.5.3.5.1.5-.5.5.6.5-.9.5.6.5-.2.5-.5.5.6.5-.6.5.1.5.2.5-.3.5.7.5-.5.5-.2.5.4.5 0 .5-.4.5.2.5.4.5 0 .5-.7.5.8.5 0 .5 0 .5-.5.5-.1.5.2.5-.1.5.1.5-.1.5.1.5-.1.5.2.5 0 .5-.1.5-.1.5.7.5-.2.5-.2.5-.4.5.5.5-.3.5.3.5-.1.5.7.5-.8.5-.3.5.6.5 0 .5.1.5-1.2.5.5.5.1.5-.3.5.5.5.2.5.1.5 0 .5-.3.5.5.5-.4.5-.9.5.7.5-.1.5.3.5-.2.5 0 .5.5.5-.6.5-.2.5.5.5.1.5-.2.5 0 .5-.2.5-.2.5.2.5-.1.5.7.5-.5.5.5.5-.4.5-.3.5.4.5 0 .5.3.5-1 .5.5.5.2.5-.3.5.2.5-.1.5.5.5 0 .5-1 .5.2.5.2.5.2.5 0 .5-.1.5.3.5.1.5-.2.5-.2.5.1.5-.2.5.5.5 0 .5-.5.5.7.5-.5.5.3.5-.3.5 0 .5.3.5-.6.5.3.5-.3.5.5.5-.2.5 0 .5-.1.5.3.5-.1.5-.1.5-.1.5.7.5-.1.5-.8.5.7.5-.2.5 0 .5 0 .5-.5.5 1.1.5-.1.5-.6.5 0 .5 0 .5-.2.5.3.5-.1.5-.4.5.2.5 0 .5 0 .5.1.5.3.5-.4.5-.3.5.9.5-.6.5.6.5-.4.5.1.5-.4.5.3.5-.1.5.1.5.1.5-.2.5.3.5-.6.5.1.5.4.5 0 .5.2.5.2.5-.4.5.1.5-.1.5-.1.5 0 .5 0 .5-.2.5.2.5.2.5 0 .5.1.5-.4.5 0 .5.2.5-.3.5-.1.5.5.5-.3.5.4.5-.3.5-.1.5-.2.5.7.5-.4.5-.3.5-.1.5 0 .5.3.5.5.5-.7.5.4.5 0 .5-1.1.5.6.5.6.5-.8.5.9.5-.3.5-.5.5 1.1.5-.6.5.5.5-.4.5-.3.5.5.5.2.5-.1.5-.8.5.6.5-.5.5.1.5.6.5-.8.5 1.2.5-1.3.5.1.5.6.5-.3.5.1.5-.3.5.5.5-.1.5-.1.5-.2.5-.2.5.4.5-.6.5.4.5.4.5 0 .5-.3.5-.7.5 1 .5.1.5-.3.5.4.5-.1.5-.8.5.5.5-.1.5.6.5-.1.5-.3.5.1.5.1.5-.5.5.2.5 0 .5-.1.5 0 .5.2.5-.5.5.1.5.6.5.2.5.1.5-1.1.5.6.5-.3.5.1.5.1.5.2.5 0 .5-.9.5.6.5.5.5-.3.5-.6.5.2.5.1.5.5.5.3.5-.9.5.5.5-.2.5.2.5-.2.5-.3.5.1.5 0 .5.7.5-.7.5.4.5-.4.5 0 .5.3.5-.2.5.7.5-.2.5-.7.5.5.5.3.5-.8.5.2.5.6.5-.7.5.4.5-.2.5.1.5-.4.5.3.5-.1.5.7.5-.4.5-.1.5-.1.5.3.5-.7.5.1.5.1.5 0 .5-.3.5.7.5-.3.5.5.5-.4.5-.1.5.3.5 0 .5-.2.5.2.5.2.5-.5.5.5.5-.4.5.3.5-.3.5-.1.5.2.5-.4.5-.1.5.4.5 0 .5-.3.5 1 .5-.5.5-.4.5.4.5 0 .5-.3.5.1.5-.5.5.6.5.5.5-.2.5 0 .5-.5.5-.2.5.6.5-.2.5-.1.5 0 .5.3.5-.1.5-.3.5.1.5-.4.5.1.5.5.5-.3.5-.1.5.3.5.3.5-.6.5.2.5 0 .5.8.5-.4.5-.3.5-.5.5.7.5-.1"/>
<path fill="none" stroke="#ff0000" stroke-width="5" stroke-linejoin="round" shape-rendering="crispEdges" d="M174.3 1173l.5-.7.5.4.5-1.5.5 1.5.5-.1.5-.5.5.7.5-1.5.5 3.2.5-1.5.5-1.3.5 2.4.5-.3.5-1.3.5-1 .5 1.5.5.6.5.2.5.4.5-.1.5-2.9.5 1.9.5-2.4.5 3.4.5-.7.5.7.5-1.2.5 0 .5-.7.5-2.8.5 3.2.5 3.4.5-1.6.5-1.9.5.6.5.1.5-1.3.5.7.5.3.5-1.1.5 1.2.5.9.5-.6.5-.7.5-.7.5 1.1.5-1.7.5-.2.5 2.3.5-2.1.5-1.4.5 2.7.5-.3.5.5.5-1.7.5 1.5.5-1.7.5-1.3.5 1 .5.4.5-1.8.5 1 .5.4.5-.9.5.5.5-.3.5-1.1.5 1.3.5.2.5-3.4.5 1.5.5 1.8.5-.6.5-3.1.5 2.6.5 1.3.5-.8.5-.2.5-1.3.5.1.5-1.7.5 1.4.5 2.8.5-3.2.5-1.3.5 1.8.5-3.5.5 5.5.5-2.3.5-1.3.5-.3.5-.8.5 1.2.5-.2.5-2.2.5 3.2.5-1.9.5-1.1.5 2.5.5-.3.5-1.9.5-.2.5 2.2.5-2.1.5.7.5 1.4.5-3.5.5-.5.5.8.5.2.5.7.5 1.2.5-2 .5 2.8.5-2.1.5-3 .5 2.5.5.9.5.5.5-2.6.5.8.5 3 .5-2.8.5-1.6.5-.8.5 1.3.5 1 .5-2 .5 3.2.5-2.9.5-1.6.5 3.3.5-.9.5-.4.5 1.9.5-2.6.5 1.7.5-1.8.5 2.9.5-2.3.5-.1.5.7.5-1 .5.7.5-1.1.5 1.1.5-.9.5-.9.5 1.4.5-.2.5-2.2.5.9.5-2 .5 2.4.5.9.5 2 .5-3 .5.9.5.5.5-1.2.5-3.7.5 1.8.5 1 .5-.2.5-.4.5-1.5.5-1.5.5 3 .5.9.5-2.4.5 1.3.5-1.7.5.4.5-.7.5 1.8.5-2.6.5 1.3.5.9.5-1.4.5-1.9.5 2.2.5-1 .5-1.7.5 1.4.5-.3.5 1.1.5-1.7.5.6.5.6.5-3.7.5 3.9.5-1.5.5-1.6.5 1.4.5 1.1.5-2.6.5 0 .5 2.6.5.1.5.4.5-2.9.5-1.6.5-.1.5.7.5-1.1.5 1.9.5 1 .5-3.5.5 3.5.5-3.6.5.1.5-1.1.5 2.8.5-1.3.5 0 .5-4.3.5 3.1.5 1.1.5-4.5.5 6.6.5-2.5.5 1 .5-2.2.5 1.6.5.4.5 1.7.5-5.3.5 4.3.5-4.7.5 1.7.5-.9.5.1.5-2.6.5 2.2.5-1.4.5 1.3.5.5.5-.4.5-.4.5 2.1.5-1.7.5.3.5.9.5-2.1.5.1.5.7.5-1.5.5 2.1.5-2.9.5.5.5 0 .5-.4.5.3.5-.8.5-2.9.5 5.1.5-2.5.5 1.6.5-2.8.5 2.4.5-2.9.5 3.9.5-2.5.5-.6.5-3.6.5.7.5 2.5.5-.4.5-.1.5 0 .5 2.1.5-2.2.5-.1.5-.7.5-.6.5 2 .5-1.3.5-.1.5.9.5-.5.5.9.5-.2.5-3.1.5.6.5 2.4.5-2.1.5 1.3.5-2.4.5-2.4.5.2.5 2 .5.2.5 4 .5-2.6.5-.2.5.1.5-4 .5 2.3.5-.4.5 2.8.5-4.2.5-1.3.5 2 .5-.6.5.2.5 0 .5-.3.5-1.4.5 0 .5 3.9.5-4.6.5 1.5.5-2.5.5-1.3.5 3.7.5-1.2.5 1.5.5-.6.5-1.4.5-1.7.5 3.8.5-2.9.5 2.9.5-2.3.5.2.5-.6.5-.3.5-1.1.5 3.7.5-5 .5-1 .5 2.6.5-1.5.5 2.3.5-1.8.5 1.9.5-1.8.5-1.4.5.6.5 1.4.5-2.1.5-.4.5.9.5.6.5 1.3.5-1.3.5.6.5-1.7.5 3 .5.4.5-4.4.5 1.3.5-.6.5.6.5-1 .5-.7.5-.9.5 1.1.5.7.5 1.5.5-.7.5-1.5.5-.4.5-1.3.5 3.2.5-.9.5.8.5.2.5-.3.5-.9.5-.3.5-1.1.5.6.5 1.7.5 2.8.5-4 .5 1.1.5 4.5.5-4.6.5-.6.5.6.5-.3.5-2.4.5 4.2.5-3.8.5 1.9.5.3.5 1.4.5-.9.5-.3.5-.4.5 1.7.5-.7.5-.5.5-.8.5.9.5 1.6.5-2.4.5 2.6.5.1.5 1.7.5-2.6.5-.3.5 1.4.5-.3.5-3.2.5 5.8.5-1.3.5 0 .5-1.3.5 1.9.5-.9.5 2.9.5-1.1.5 1.2.5-3.8.5.7.5.8.5-.1.5 3.4.5-1.6.5-2 .5 1.4.5 3.2.5-2.9.5 1.5.5-3.3.5 1.9.5.8.5 0 .5.6.5.7.5 1.3.5-4 .5 2.8.5 1.1.5-.5.5 1.6.5-1.7.5-.2.5-.4.5 2.7.5-3 .5 1.4.5.8.5 1.2.5-1.2.5-.7.5 2.4.5-2.3.5.8.5-1.6.5 3.3.5.2.5-2.5.5 2.4.5 1.3.5-1.5.5-1.2.5 2.5.5 1.2.5-3.3.5 4.1.5-1 .5 1.6.5-2.5.5 3 .5-.6.5.9.5-.8.5 1.6.5-1.4.5-.2.5-.6.5-.5.5 2.6.5-.4.5.6.5 0 .5 1.1.5-.2.5-.6.5 2.1.5 2.1.5-4 .5.9.5 1.6.5-1.5.5 2.6.5-2.1.5-.5.5.6.5 3 .5-4.1.5 3.2.5-2.9.5 4.3.5-.3.5.6.5 2.3.5-2.8.5 1.9.5-.5.5.8.5-2.2.5 2.8.5-1.7.5 2.7.5-.5.5-1 .5 1 .5.1.5-.2.5 3.6.5-4.6.5-.5.5.3.5 1.7.5.5.5 1.2.5.6.5-.8.5.1.5-1.3.5 2.9.5.8.5-1.9.5 1.4.5-1.7.5 1.1.5.4.5 1.3.5-3 .5 2.3.5 1.4.5-.6.5.7.5-4.1.5 2.4.5.8.5-.2.5-1.9.5 4.8.5-.9.5-2.8.5 2.2.5.9.5 1.5.5-.2.5-2.1.5.7.5 1.4.5 1.2.5-1.7.5-.1.5 1.8.5-.4.5 1.9.5-1.1.5.9.5-3.8.5.9.5 0 .5 1.2.5 1.6.5-.7.5 1.2.5-1.6.5 2.5.5 0 .5-3.3.5 1 .5.7.5 2.1.5.1.5 1.5.5-4.3.5 2.4.5-.1.5-.3.5.4.5-2.5.5 3.3.5-.8.5-1 .5 3.6.5-2.6.5 1.3.5-1.1.5-1 .5 1.6.5 1.1.5-1.6.5 2.1.5 1.7.5-.6.5-1.9.5-.5.5 2.4.5-3 .5.6.5 3.8.5-1.7.5.2.5-.9.5 4.2.5.5.5-4.2.5 1.4.5-1.4.5 1.1.5 1.2.5 0 .5-1.9.5.9.5 3.3.5-2.4.5.7.5-1.1.5-.8.5-1.2.5.2.5-.8.5.8.5.3.5 2.2.5-3.1.5 2.8.5-3 .5 5.9.5-4 .5 1 .5 2.1.5-2.5.5.5.5.1.5.6.5-1.3.5 2.9.5-.7.5-1.2.5 1.4.5-1.7.5-.5.5.6.5.8.5-2.5.5 1.6.5 1 .5-1.9.5 1.9.5-1.8.5 1.7.5-.3.5.6.5-1.3.5-1.6.5-.7.5 8 .5-6.5.5.8.5-1 .5 3.9.5-.8.5.2.5-2.4.5 2.7.5-2.2.5 2.6.5-1.6.5-2.8.5 2.8.5-.9.5 4.2.5-4.7.5 1.3.5.1.5-.7.5.2.5.9.5.5.5-.9.5.2.5.4.5-1.1.5.9.5.4.5 1.3.5-.4.5-.2.5.5.5-2 .5 2.4.5-1.8.5.3.5-.3.5 1.4.5-1.6.5 1.6.5-1.1.5-.2.5 1.2.5-1.5.5 2.5.5-2.2.5.3.5 2.1.5-3.2.5 2.9.5-.9.5 0 .5.2.5-1.3.5 3.1.5-1.2.5.1.5.3.5.2.5-.7.5-1.5.5-.3.5 0 .5 1.1.5 1.7.5-2.6.5 1.1.5 1.2.5-1 .5.1.5-.9.5 1.5.5-.8.5-.1.5.4.5.9.5.8.5-2.5.5 2 .5-1.8.5-.8.5 1.4.5.9.5-.1.5.5.5-2.7.5 4 .5-.6.5-.1.5-2.6.5 2.4.5-1.1.5.1.5.6.5-1.8.5 3.1.5 0 .5-.2.5.7.5-3.5.5 1.6.5 0 .5-1 .5 2.4.5 2 .5-4 .5 1.8.5-.5.5.1.5 0 .5.7.5-1.5.5.3.5 2.3.5-1.8.5 0 .5-1.9.5 2.5.5.2.5-.4.5 1.5.5-4 .5 3.2.5-2.8.5.7.5-1.1.5 3.2.5-1.1.5-.3.5.5.5-2.4.5 1.6.2.9.2-.8.1.5.1-1.6.2 1.9.2-.5.2.5.2 1.5.1-1.6.1-.8.2 1.1.2-1.7.2 3.1.2-1.9.1 0 .1.6.2-2 .2 1.4.2-.3.2 2.6.1-.7.1.4.2-2 .2.1.2 1 .2-1.9.1-.3.1 2.7.2-1.2.2 0 .2-2.4.2 1.4.1 0 .1-.3.2 1.1.2-1.4.2-.3.2 3.5.1-1.7.1-1.6.2 3.4.2-1.7.2-.2.2-3.4.1 4.6.1-1.4.2 1.1.2.6.2-3.3.2 3.4.1-1.1.1-.8.2-2.7.2 4.7.2-1.8.2.3.1-2 .1 2 .2-.1.2 1 .2-2.7.2-1.4.1 1.7.1-.4.2 1.4.2-.5.2.3.2 1.2.1.4.1-1.8.2-1.8.2 1.7.2-.2.2.1.1-.1.1.1.2-2.4.2 2.9.2 0 .2-.3.1-.5.1 1.1.2-2.8.2 1.6.2.8.2-1.2.1.4.1 1.1.2-1.3.2-.8.2.4.2.9.1-1.6.1 1.2.2-.5.2.4.2.7.2 0 .1-.8.1.2.2.5.2-1.7.2.9.2-1.4.1 2.5.1-1.2.2-1.6.2.8.2 1.3.2-.6.1-2.1.1 3.7.2-1.7.2.1.2-.8.2-.7.1-.7.1 1.7.2-.3.2-.3.2 1 .2-.5.1-1.5.1.6.2 1.5.2-2.7.2 3.6.2-3 .1 3.3.1-2.3.2-2.3.2 2.1.2-.5.2-.7.1.4.1 0 .2-3.7.2 4.1.2-1.3.2.2.1.7.1-.9.2-1.5.2 2 .2-1.4.2.4.1-1.2.1.5.2-1.1.2 2.5.2-3.1.2 1.9.1-3.2.1 2.1.2-.9.2 1 .2-1.1.2 1.7.1.5.1-3.9.2.9.2-2.2.2-.6.2.4.1.8.1-.6.2-1.5.2.7.2-3.3.2-.5.1.4.1-2.3.2 2.4.2-2.7.2-1.4.2-.5.1-2.6.1.5.2-3.3.2-.2.2-1.8.2-.8.1-3 .1.1.2-4.5.2-5.1.2-1.5.2-5.3.1-3.3.1-1.2.2-8.5.2-6.9.2-7.9.2-10.9.1-8 .1-6.1.2-17 .2-20.6.2-27.9.2-37.1.1-19.6.1-22.7.2-64 .2-81.9.2-79.9.2-9.9.1-5.6.1-21.7.2-81.2.2-34.1.2 34.1.2 80.3.1 22.5.1 5.6.2 9.9.2 80.1.2 81.9.2 63.3.1 24.2.1 20.9.2 36.2.2 27.4.2 20.3.2 15.4.1 8.6.1 6.8.2 10.2.2 8.5.2 8 .2 6.4.1.5.1 6.2.2 3 .2 6 .2 1.4.2 2.1.1 3.1.1.5.2 3.2.2.6.2 1.8.2 1.4.1.8.1 1.9.2-.5.2 2.7.2 2.1.2-1.2.1 1.2.1-.1.2 1.2.2 1.3.2 1.3.2.8.1-1.3.1 1.7.2-.8.2-.1.2.7.2-.6.1 2.3.1-1.8.2 2.5.2 2.9.2-3.4.2-.9.1 2.7.1-1.3.2 1.3.2.3.2.5.2 2.4.1-2 .1.1.2-.2.2-.4.2.3.2-.3.1 2.1.1-1 .2 1 .2-.2.2 2.2.2-2.3.1.8.1-1.2.2 1.9.2-1.3.2.4.2-1.4.1 2.1.1 1.2.2-.2.2-2.5.2 2.2.2-1.6.1-.9.1.4.2 2.7.2-1.5.2-.9.2 1.7.1 0 .1-.6.2.9.2-.8.2 1.7.2-.4.1-.8.1.4.2.7.2-1 .2.7.2-.6.1-.2.1-1.7.2.8.2.3.2 1.2.2 2.7.1-3.7.1.5.2-.8.2 1 .2.2.2 1.1.1-2.2.1 2 .2-.2.2-.5.2-1 .2.3.1.9.1.9.2-.7.2-.6.2 1.1.2-1.3.1 1.9.1 2.3.2-3.6.2 1.8.2-2.1.2 1.2.1.5.1.7.2-1.2.2 1.5.2-2.7.2 1.1.1.3.1.1.2-.2.2 2.2.2-2.3.2 1.5.1-.6.1 1.8.2-2.4.2 1.1.2-.1.2-3.9.1 3.8.1.7.2.6.2-2.7.2 1 .2 1.5.1-2.4.1.3.2 1.5.2.2.2.7.2-.1.1-1 .1-1.3.2.5.2.7.2.5.2-.3.1.8.1-1.6.2.4.2-.9.2 3.5.2-2.2.1 1.2.1.3.2-.9.2-.5.2-.3.2.3.1-1.5.1 1.3.2 1.4.2-.5.2.6.2 0 .1 0 .1-.7.2.2.2.8.2-1.3.2-1.1.1 2.3.1-.8.2 1.1.2-1.7.2-1.1.2 1.6.1-.5.1-.3.2 2.7.2-1.3.2-1.5.2-.4.1 1.5.1.7.2-.3.2 1 .5-.8.5.2.5-2.5.5 3.4.5-1.9.5 1.6.5-2.6.5.7.5 2.2.5-2.4.5 1.5.5-.6.5 2.2.5-1.3.5.9.5-1.3.5-1.7.5 3.9.5-2.7.5.7.5-.1.5-1.5.5 2.3.5-1.1.5-1.4.5.3.5-.8.5 1.6.5.6.5-.8.5 1 .5-.3.5.9.5-.5.5-.2.5-.6.5-.4.5.3.5 1.3.5-.9.5 2 .5-.6.5-2.2.5 1.8.5.9.5-2 .5 2 .5-2 .5 2.4.5-1.1.5-.8.5-1.4.5 1.6.5-.7.5 1.2.5-1.3.5 1.4.5-1 .5 1.1.5.3.5-.7.5.4.5.6.5-2.1.5 1.6.5-.4.5 1.4.5-1.8.5 1.2.5-2.7.5 3 .5-.8.5-.1.5.6.5-2.2.5 1 .5.4.5-.4.5-.2.5 1.5.5-1 .5-.2.5.3.5 1.2.5.6.5-.8.5-.6.5-1.8.5.8.5-.4.5 0 .5 2.2.5-1.8.5 2 .5-1.3.5-.2.5-.1.5-1.2.5 1 .5 1.3.5-.2.5-.5.5.5.5-.5.5.2.5 2 .5-2.2.5-1.9.5-.3.5 1.3.5 1 .5.8.5-1 .5.1.5.5.5-1.6.5 1 .5.4.5-.8.5-.4.5 1.4.5.5.5-1 .5-2.3.5 1.5.5.4.5.8.5-.9.5.1.5 1.3.5.3.5-1.1.5-1.2.5-.1.5 1.8.5-1.4.5.8.5-.2.5.4.5.2.5-1.4.5.4.5.8.5-.1.5-1.4.5 3.2.5-3.2.5 2.4.5-2.6.5 2.5.5-2.6.5 2.6.5-.7.5.6.5-1.5.5 1 .5 0 .5-.1.5-.7.5 1.9.5-3.1.5.3.5 0 .5 2.9.5-2.3.5.2.5 0 .5.4.5 0 .5-.2.5-1 .5 1.9.5-.4.5 1.5.5-1.1.5-.4.5-1.3.5 1.4.5.6.5 1 .5-1.2.5.4.5-.2.5 1 .5-.5.5-1 .5-1.5.5 3 .5-1.5.5-.8.5-.6.5-.3.5 1.9.5-.4.5.5.5.9.5-1.8.5.9.5-.8.5-.3.5-1.3.5 1.4.5 1.8.5-1.5.5.8.5-.2.5 1.8.5-.5.5-2 .5.2.5 1.5.5-.8.5-.2.5 1.1.5-.6.5-.4.5 2.8.5-2.5.5-1.7.5 1.6.5 0 .5 1.4.5-1.4.5-.9.5 1 .5-1.5.5.8.5.7.5-1.2.5-1.1.5 1 .5.2.5 1.3.5-1 .5.4.5-.8.5.9.5-.6.5 1.1.5-.3.5 1.2.5-.9.5-.8.5-.5.5 1 .5.5.5.8.5-2 .5-.8.5-.4.5.8.5.7.5 0 .5-.1.5.3.5.3.5-1.9.5 1.7.5-.2.5 0 .5-.3.5-1.3.5 2.2.5-.9.5.3.5.5.5-.3.5.4.5 0 .5-1.3.5-.2.5 1.9.5-1.5.5 2.8.5-3.1.5 1.2.5-.3.5.4.5-1.2.5 1.2.5 1.6.5-2.4.5-1.6.5 2.7.5-.2.5.3.5-1.4.5 1.1.5.5.5-1.3.5.5.5.5.5.2.5-.9.5.4.5 1.7.5 0 .5-2.9.5 3.1.5-2.4.5 1.3.5-2.1.5.9.5-.4.5 1.4.5-.6.5.2.5 0 .5-.2.5.7.5-.7.5-.2.5-.5.5-.3.5.4.5.8.5.6.5-1.1.5 2 .5-.7.5-1.1.5.3.5-.3.5-1.7.5 2.4.5-.5.5-1.8.5 2.4.5-1.3.5.3.5-1.4.5 1.6.5.4.5-.8.5.4.5-1.8.5 2.3.5-.5.5 0 .5.6.5.4.5-1.1.5 1 .5.8.5-2.7.5 1.1.5-1.6.5 1.8.5 1 .5-1.4.5-.9.5.5.5.9.5-1.8.5.1.5 1.8.5-1.7.5 1.3.5-1.1.5-.4.5 2.2.5.3.5-1.8.5 2.9.5-2 .5.4.5-.4.5-1.1.5 1.9.5-.8.5.4.5-.4.5-.5.5 2.6.5-1.8.5-.6.5.8.5-1.7.5 1.5.5 2.1.5-3.1.5 1.1.5-1.6.5 1.2.5 1 .5-2 .5.1.5 1.9.5-.8.5.4.5-.1.5-1.7.5-.4.5-.2.5 2.2.5-1.8.5-.3.5 1.1.5.4.5.4.5-1.9.5 2.9.5-2.1.5 1 .5-.2.5-.8.5 1.2.5 0 .5.7.5.8.5.2.5-1.1.5-.3.5-.9.5-1.1.5 1.8.5-.9.5.3.5-.2.5.8.5-.8.5 2.6.5-1.4.5-1.2.5.8.5.9.5-2.4.5 1.3.5-.6.5.5.5-.5.5.6.5.3.5.1.5-1.9.5 2 .5-.6.5-.6.5.5.5 1.6.5-1.7.5-.6.5 1.4.5-.8.5.8.5-.4.5 1.1.5-1.9.5.3.5 1.3.5.6.5-1.4.5.9.5-.6.5-.5.5-1.5.5 3.5.5-.9.5-3.2.5 2.9.5-1.3.5-.4.5.4.5 1.2.5-.7.5-.2.5.1.5-.2.5.8.5-2.3.5.6.5 1.1.5-.9.5 1.2.5-.5.5.7.5-.5.5.7.5-.6.5.7.5-1 .5-1.2.5 1.6.5 0 .5-.5.5 1.4.5-.4.5.9.5-1.7.5 0 .5.8.5.9.5-2 .5 1.1.5-.5.5-.2.5 1.1.5-.1.5-.1.5-1.2.5.5.5-1.5.5 2 .5-1.6.5.9.5 1 .5-1 .5.4.5-.7.5 2.9.5-3.4.5.5.5.4.5 2.5.5-2.8.5.5.5.7.5-2.6.5 2.7.5-.5.5 1.1.5 0 .5-.9.5.5.5-1.6.5-.4.5.8.5.4.5-.5.5.7.5.2.5 1 .5-1.7.5-.3.5.9.5-.3.5.4.5 1 .5-2.3.5 1.4.5.5.5 0 .5-2.5.5 1 .5 1.5.5-1.2.5.4.5-.5.5 1.2.5-.9.5-.5.5.4.5 1.1.5-.9.5-1.8.5-.4.5 2.4.5-2.1.5 1.6.5-.8.5.8.5-.8.5-1.5.5 3.3.5-1.3.5-.1.5 1.5.5-.8.5.4.5-1.2.5.3.5.3.5-1 .5 1.3.5-.4.5-.7.5-.1.5 1.2.5-1 .5.5.5-.1.5-.4.5-2.7.5 3.1.5.4.5-1.3.5 0 .5 1.4.5-1.9.5 2.1.5-.6.5.7.5-1.2.5.1.5.1.5-1.6.5.6.5 1.7.5-1.5.5-.3.5 1.1.5.9.5-1.3.5-.2.5.2.5.4.5-1.7.5 1.6.5.1.5.5.5 0 .5-.3.5 1.1.5-1.7.5-.1.5 1.5.5-1.4.5-.6.5 0 .5.5.5-1.2.5 2 .5-.6.5.9.5-2 .5.5.5-.2.5 1 .5-.2.5.3.5 0 .5-1.6.5 1.2.5-.2.5-.1.5.5.5-2.1.5 1 .5.4.5-.5.5-.3.5 1.8.5-.1.5.7.5-2.3.5-1.2.5 2.6.5-.9.5-.6.5 1.3.5-.5.5-1.4.5 1.5.5-1.5.5 1.9.5-1.5.5-.3.5 2 .5.1.5-1 .5-.7.5 1.5.5-.4.5 0 .5-.5.5-.9.5.8.5 1.7.5-1.8.5.5.5 0 .5.9.5-.6.5-.6.5 2 .5-1.4.5.1.5-.8.5-.7.5 1.7.5-.7.5.6.5-2.2.5 3.4.5-1.4.5.6.5-1.5.5 1 .5 0 .5.9.5-.3.5-2.4.5 2 .5-.1.5-.4.5.5.5.3.5.4.5-1.8.5.3.5.8.5.5.5-1.3.5.8.5-1 .5 1.1.5-.2.5.6.5.8.5-1.8.5 1 .5-1.6.5 1.6.5 1.2.5-2.7.5.9.5-2.2.5 3 .5 1.5.5-2.6.5 1.1.5.9.5-1.8.5.9.5-.8.5.3.5.4.5.8.5-.6.5-.2.5 0 .5 1 .5-.4.5-.1.5-1.8.5 1.4.5-.7.5 2.4.5-.9.5.7.5-1.9.5-.6.5.7.5 1.2.5-1.1.5 1.2.5.6.5-1.4.5 1.1.5-2.6.5.8.5.6.5.2.5-.9.5 1 .5 1.2.5-.2.5-.3.5-1.1.5 2 .5-.6.5-1.4.5 1.7.5-1.1.5.8.5-.1.5.2.5.8.5.8.5-1.7.5-.2.5-.1.5.4.5.2.5-1.6.5 1.2.5 1.9.5-1.3.5.3.5-.9.5 1.8.5-1.3.5-.7.5-.3.5 1 .5 1.1.5-2 .5-.3.5-1 .5 2.5.5-1.5.5.3.5-.2.5.1.5 1.4.5-1.3.5.8.5-.7.5.3.5.9.5 0 .5-1.5.5 1 .5-.8.5 1.4.5-1.1.5-.2.5 1.4.5-1.1.5.6.5.5.5-1 .5.2.5.7.5 1.4.5-1.4.5.2.5-.6.5 0 .5 1.2.5-1.8.5.1.5 1.8.5-1.9.5-.4.5 1.5.5.4.5.7.5.4.5-3.7.5 1.7.5-.1.5.6.5-1 .5.7.5.2.5 0 .5-.9.5.9.5-.9.5.1.5.5.5.8.5-2.3.5 1.6.5 1.3.5-1.1.5-.5.5.6.5 1.2.5-1.5.5-.4.5 1.2.5-.8.5-.4.5 1.3.5-1.4.5.5.5 1.3.5-.9.5.9.5-2.5.5.2.5.6.5.6.5-1.5.5 1.8.5-.7.5.1.5.4.5-.2.5-.8.5.8.5-.8.5 2.1.5-1.4.5.1.5-.3.5.6.5.2.5-.3.5-.8.5 1.8.5-.9.5-1.5.5-.3.5.9.5 0 .5-.4.5.6.5 1 .5.8.5-.8.5.1.5.6.5.9.5-.9.5-.4.5-.6.5-.7.5 1.2.5.6.5-.7.5-.7.5.9.5-.5.5-.4.5-1.1.5 2 .5-.9.5 1.5.5-1.5.5.6.5-.5.5 1.9.5-.3.5-1.1.5 1.1.5-2.1.5 1.5.5-1 .5.4.5-.3.5.9.5-1.9.5 1.1.5 1.5.5-3 .5 1.7.5-.9.5-1.1.5 2.5.5-.7.5 1.4.5-2.5.5 1.8.5 1 .5-2.8.5 2.1.5 0 .5-.4.5 1 .5-.6.5-1.1.5 0 .5.5.5 1.4.5-1.4.5.9.5-.9.5.7.5-.1.5.6.5.4.5-1.8.5-.5.5.8.5.1.5.2.5.6.5-1.1.5.4.5 0 .5.9.5-1.3.5 1.4.5.6.5-1.8.5 1.4.5-.7.5-.5.5 1.7.5-.6.5-1.3.5.7.5-.9.5-.6.5 2 .5-.9.5 1.4.5-1.2.5.1.5-.3.5.2.5-.7.5.4.5-1.2.5 0 .5.3.5.6.5.5.5-.1.5 1.1.5 1 .5-3.9.5 3.1.5-.4.5-1.2.5.6.5-1.6.5 1.3.5 1.4.5-2.1.5.4.5.6.5.5.5-.5.5-.5.5 1 .5-1 .5 2.3.5-.9.5-.8.5-.7.5.1.5-.1.5.3.5.6.5-1.3.5 1.2.5-.2.5-.7.5 1.7.5-.6.5-.1.5-.7.5-.1.5.6.5-1.1.5 1.4.5-1.2.5.9.5.5.5-.7.5-.3.5 0 .5.7.5-1 .5.8.5.8.5-2.2.5.9.5.8.5-1.1.5.1.5-.1.5 1.6.5-2.3.5 1.5.5 0 .5.1.5-.6.5.7.5-.4.5-.3.5 2.6.5-1.2.5-1.5.5.2.5.9.5.8.5-1.2.5.6.5-.3.5.7.5-1.3.5-.1.5.8.5 0 .5-.2.5.9.5-.4.5-.4.5-1 .5 1.4.5.2.5-1.1.5.4.5-.8.5 1 .5-.3.5-1.1.5 1.3.5-.2.5 0 .5 1 .5-.4.5.3.5-.9.5 1.3.5-1.6.5 1.1.5-1.6.5 1.3.5-.9.5-.4.5 1.6.5-.3.5.2.5-.3.5.2.5-.3.5 0 .5.2.5 1.6.5-2.4.5-.4.5.5.5.1.5.9.5.5.5 0 .5-1 .5.7.5.9.5-.9.5.5.5-1.7.5 1.4.5-.1.5-1.4.5.9.5.4.5-1.1.5 1.4.5 0 .5-.5.5-.3.5 0 .5.4.5.6.5-1.8.5 1.1.5 0 .5-.8.5-.3.5.8.5-1 .5 1.4.5-.4.5-.6.5.8.5-.6.5.1.5 1.4.5-1.4.5-1.3.5 2.1.5-1 .5.1.5 1.8.5-1.2.5.7.5-1.6.5.2.5.2.5 1.1.5-1 .5-.9.5 2 .5-.9.5.4.5.5.5 1 .5-1.6.5 1.2.5-2.1.5 1.1.5.1.5-1.8.5.9.5.2.5.9.5-.7.5 0 .5-.1.5.8.5-.4.5 0 .5-.1.5.7.5-1 .5.5.5 0 .5.3.5.4.5-.4.5-1.2.5 1.7.5.1.5.1.5-.3.5-1.7.5 1 .5.7.5 0 .5-.6.5.1.5-.8.5 1 .5-1.7.5 1.3.5.9.5-1.5.5 1.7.5.5.5-1 .5-.7.5 0 .5-.5.5 1.4.5-1.3.5.9.5-.9.5 1.2.5-1.3.5.8.5-.4.5 1.2.5-1 .5.2.5.9.5-1.5.5-.1.5.8.5-.6.5 1.8.5-1 .5 0 .5-.4.5-1.9.5 3 .5-.9.5-1.3.5.7.5.7.5.8.5-.6.5.1.5-.1.5-.8.5.2.5.4.5-.9.5 1 .5.4.5-2 .5 1.4.5 0 .5.2.5 1.1.5-2 .5 2.2.5-.9.5 1.2.5-1.8.5.4.5-.3.5.5.5-1 .5.1.5.4.5.6.5-1.3.5.6.5-.2.5.6.5.4.5-1.5.5.3.5.4.5-.4.5 1.6.5.2.5-.6.5-.2.5-1 .5.1.5.9.5.7.5-1.2.5.4.5.9.5 0 .5-1.7.5.8.5.3.5-1.5.5.7.5.5.5-.5.5.7.5-.6.5-.8.5.2.5-.5.5.5.5 1.2.5-.2.5.2.5.5.5-1.6.5.5.5.4.5.9.5-.8.5-.3.5.3.5-.8.5-.6.5 1.5.5-.6.5.6.5-1 .5.1.5 1.1.5-.4.5.5.5-1 .5.5.5.4.5.1.5-.6.5.2.5-.2.5 0 .5 0 .5.3.5-1.1.5.8.5-.6.5.7.5-.2.5.3.5-.3.5.1.5-.8.5 1.7.5-1.7.5-.3.5 1.4.5.1.5-.4.5-.2.5-.5.5 1.9.5-2.2.5 2.4.5-2.3.5.3.5.5.5-.2.5.6.5-.8.5.3.5-.8.2 1.7.25-.9.05-.3.2.5.25.5.05-.3.2-.7.25.5.05.2.2 0 .25-.4.05.5.2-1 .25.7.05-.6.2.5.25-.4.05.8.2-.7.25 1 .05-1.3.2 1.2.25-1.2.05-1 .2.9.25 1.1.05-.4.2.2.25-.6.05.4.2-.8.25 1.6.05-.1.2-.7.25-.6.05-.1.2.7.25-.2.05-.7.2.9.25 0 .05-.2.2-.1.25-.2.05-.1.2-.3.25-.3.05 1.1.2-1.8.25.9.05.4.2.7.25-1.7.05 1 .2-.3.25-.4.05.4.2-2.3.25 1.2.05-.7.2 0 .25-.9.05-.6.2-1.1.25.5.05-.6.2-1.5.25-.5.05-.8.2-1.1.25-1 .05 0 .2-2.9.25-.4.05.2.2-1.7.25.5.05.5.2 1 .25.1.05 0 .2 1.7.25 1.4.05.6.2.9.25-.4.05 1.7.2-1 .25 1.5.05.1.2-.1.25-.3.05 0 .2-1 .25-.6.05 1.6.2-.6.25-.4.05-.3.2-1.3.25 2.6.05-1.1.2.9.25 1.4.05-.6.2 1.9.25-1.4.05 2.3.2.2.25-.2.05 1.1.2.5.25.2.05.2.2-.4.25 1 .05 0 .2.4.25-.2.05-1.4.2 1.5.25-1 .05.4.2.4.25.3.05-.2.2.4.25.2.05-.2.2 0 .25.2.05.2.2-.9.25-.3.05 1.5.2-.5.25-1.4.05 2 .2.1.25-1.7.05.4.2.4.25-.4.05.4.2.3.25.6.05-2 .2 1.5.25.7.05-2.1.2 1.6.25-.2.05-.3.2.8.25.4.05-.1.2.5.25-1.6.05-.8.2.9.25.5.05.6.2-.4.25-.6.05 1.1.2-.5.25-.1.05-.3.5.4.5.1.5-.3.5-1.4.5.9.5.8.5.7.5-.3.5 0 .5.4.5-.6.5.4.5-.2.5-.4.5-.7.5-.4.5 1.2.5-.9.5.6.5.5.5-.8.5.9.5-.4.5-.6.5.9.5.1.5-.7.5.5.5-.9.5.7.5.1.5-.7.5.7.5.7.5-1.2.5-.2.5-.2.5.4.5-.2.5-.3.5 1 .5.1.5-.7.5.6.5.5.5-.3.5-.1.5.3.5-.8.5.9.5.5.5-1.4.5-.6.5.6.5-.1.5.6.5.6.5-.4.5.7.5-.7.5-.2.5-1.1.5 1.3.5-.6.5.1.5.1.5 1.1.5-.4.5-.5.5-.8.5.6.5.1.5.6.5-.2.5 0 .5-.8.5 1 .5 1 .5-2.2.5.2.5.6.5.5.5-.4.5-.1.5.7.5-1.3.5-.5.5.2.5 1.3.5.1.5-.8.5-.5.5.3.5.6.5.4.5-.9.5-.1.5 0 .5.1.5.7.5-.2.5 0 .5-.1.5.1.5-.8.5.1.5.8.5 0 .5.3.5-.6.5-.4.5.4.5 0 .5.4.5-.4.5.4.5 0 .5 0 .5 0 .5-.8.5 1.1.5.3.5-.4.5.4.5-.6.5-.5.5.6.5-.3.5 0 .5.8.5-1.2.5 1 .5-.8.5-.6.5 1.2.5-.3.5.1.5 0 .5.4.5-.3.5-.3.5.1.5.2.5-.5.5.5.5-1.2.5 1 .5 0 .5.4.5-.9.5.4.5.4.5 1.2.5-1.4.5.3.5-.6.5 1.3.5-1.1.5 0 .5.1.5-.7.5.2.5.3.5-.2.5.9.5-.8.5 1.4.5-1 .5-.5.5.5.5.2.5-.3.5.2.5-.3.5-.3.5.3.5.9.5-1 .5.2.5-.7.5.4.5.4.5-.3.5.7.5 0 .5-.7.5.1.5.4.5-.1.5-.3.5-.8.5 1.6.5-.7.5.1.5-.4.5 1 .5-.7.5.1.5-1 .5.7.5.2.5.2.5.2.5-.5.5.6.5-.5.5 0 .5 0 .5-.7.5-.3.5 1.9.5-1.7.5.6.5.5.5-.6.5.9.5-1.4.5.9.5.2.5.8.5-.4.5-1 .5.8.5-.3.5-.7.5.3.5.8.5-.7.5-.3.5.2.5-.3.5-.1.5.8.5.1.5.3.5-1.2.5.2.5.7.5-.1.5-.2.5-.4.5.4.5-.5.5 1.3.5-.4.5-.7.5 1 .5-1 .5.7.5-.2.5-.3.5.8.5-1.3.5.6.5 0 .5-.7.5.2.5.7.5 0 .5-.5.5.7.5-.1.5.2.5-.5.5.1.5.3.5-.5.5-.1.5-.2.5.8.5.3.5-1.3.5.7.5.4.5.3.5-.5.5-.4.5.6.5.7.5-.8.5.1.5.5.5-1.4.5 1 .5.3.5-.2.5-.3.5-.3.5 0 .5-.3.5.3.5-.3.5.5.5-.1.5-.1.5 0 .5.2.5-.5.5.8.5-.2.5.2.5-.4.5 0 .5.2.5 0 .5-.2.5 0 .5-.1.5.1.5-.2.5 0 .5 0 .5.9.5-.8.5.2.5-.3.5.4.5.5.5-.8.5.3.5 0 .5.3.5-.3.5 0 .5-.1.5-.7.5 1.2.5.3.5-1 .5.7.5-.4.5.6.5-.8.5.4.5.4.5-.3.5-.2.5-.1.5-.2.5.3.5-.4.5 1 .5-.4.5-.3.5-.5.5 1 .5.1.5-.3.5.1.5 0 .5-.3.5-.1.5.2.5.4.5-.7.5-.4.5.7.5 0 .5-.1.5.1.5-.5.5.1.5.2.5.1.5.2.5.1.5-.2.5-.1.5-.3.5.2.5-.4.5.3.5.4.5.1.5-.6.5.8.5-1.3.5 1.1.5-.2.5-.1.5.2.5-.3.5 1 .5-1 .5 0 .5.3.5-.9.5.7.5-.4.5 1 .5-.7.5.1.5-.6.5 1.3.5-1.3.5.1.5.3.5-.5.5.3.5.3.5.6.5 0 .5-.8.5.2.5.4.5.2.5-.7.5.2.5.1.5 0 .5-.1.5.7.5-.7.5.5.5-.2.5 1.1.5-.7.5-1.3.5 1 .5-1 .5 1.2.5-.6.5-.6.5.4.5.2.5.7.5-.5.5.1.5-.4.5.1.5-.4.5.4.5 0 .5.1.5-.3.5.3.5-.1.5.2.5-.3.5 0 .5-.1.5.1.5.1.5-.2.5.8.5-.1.5-.2.5.1.5-.7.5.2.5.1.5.2.5.2.5.1.5-.9.5.5.5.5.5-.5.5.2.5-.7.5.6.5-.1.5-.6.5 1 .5.2.5-.2.5-.4.5 0 .5-.1.5.4.5 0 .5.3.5-.5.5.3.5-.4.5-.1.5.2.5-.3.5 0 .5.6.5 0 .5-.6.5 0 .5.3.5-.2.5.5.5-.4.5-.3.5.1.5.5.5.5.5-.5.5-.6.5.1.5.4.5-.1.5.1.5.6.5-1 .5 0 .5.3.5.1.5 0 .5.2.5-.2.5.3.5-.3.5.1.5-.7.5.3.5.1.5.4.5-.4.5-.1.5 0 .5.9.5-1.1.5.6.5-.1.5.5.5-.3.5-.3.5.4.5.1.5-.5.5-.4.5.1.5.4.5-.3.5.4.5.3.5-.3.5.7.5-.8.5-.4.5.5.5.3.5-.8.5.6.5.4.5-.5.5.6.5-1.1.5.6.5-.7.5 0 .5.1.5.8.5-.2.5.3.5-.7.5-.3.5.9.5-.6.5-.2.5.7.5.1.5-.6.5.3.5.2.5-.5.5 0 .5.4.5.4.5-.8.5.6.5-.1.5-.1.5-.1.5-.3.5.5.5-.2.5-.8.5.9.5-.3.5.2.5.7.5-.6.5-.7.5.5.5-.2.5.7.5-1.4.5 1.2.5-.1.5-.2.5.3.5.4.5-1.1.5.4.5.2.5 0 .5-.1.5.2.5-.1.5-.2.5-.4.5.8.5.3.5-.1.5-.3.5.3.5-.9.5.8.5-.2.5-.1.5.4.5-.4.5-.1.5-.2.5-.3.5.5.5.7.5 0 .5-.8.5.3.5.4.5-.8.5.2.5-.3.5 1 .5-.7.5 0 .5.1.5-.2.5 1.1.5-.5.5.3.5-1.3.5.9.5-.3.5-.3.5.4.5.5.5-.1.5-.6.5 1.3.5-.7.5-.7.5 0 .5.1.5.2.5-.1.5-.1.5.5.5-.5.5.3.5-.3.5.2.5.4.5-.3.5.2.5-.3.5.4.5-.4.5.4.5-.7.5.7.5-.2.5-.4.5.1.5-.5.5.6.5.1.5-.2.5.5.5-1 .5.6.5-.3.5.2.5.4.5-.2.5.4.5-.5.5-.1.5.1.5-.4.5.2.5.3.5.3.5-.6.5 0 .5-.2.5 0 .5.4.5.1.5.1.5-.2.5.4.5-.9.5.6.5.2.5-.3.5.2.5-.2.5 0 .5.1.5-.2.5.2.5.2.5-.5.5.5.5.2.5.1.5-.6.5.4.5-.8.5.1.5.4.5-.3.5 0 .5 0 .5.2.5-.1.5-.1.5.3.5-.1.5.1.5.1.5.1.5-.2.5-.1.5 0 .5-.2.5.5.5-.2.5.3.5-.2.5-.2.5.4.5-.3.5 0 .5.2.5-.1.5-.3.5.5.5-.1.5-.1.5-.1.5.1.5-.5.5.8.5-1.1.5.5.5 0 .5.4.5-.1.5.1.5-.5.5.7.5-.1.5-.8.5.6.5-.6.5.4.5.3.5-.1.5-.4.5.2.5.5.5-.3.5.2.5-.7.5.6.5 0 .5-.4.5.7.5-.4.5.3.5-.4.5.2.5.1.5-.2.5.1.5 0 .5-.1.5-.3.5.4.5-.1.5.1.5-.3.5.7.5-.2.5.1.5.2.5-.3.5-.3.5-.3.5.7.5-.3.5.2.5.1.5-.4.5-.2.5.4.5-.3.5-.1.5.4.5-.2.5.2.5-.4.5.3.5-.1.5.1.5-.2.5.4.5-.6.5.5.5.2.5-.3.5 0 .5-.2.5.3.5 0 .5 0 .5 0 .5.1.5-.1.5-.6.5.2.5.3.5.6.5-.3.5-.3.5 0 .5-.1.5.3.5-.2.5.1.5-.3.5.1.5-.1.5 0 .5.1.5.5.5-.2.5.2.5-.5.5.2.5-.2.5.1.5 0 .5-.4.5.5.5-.4.5.5.5-.3.5-.3.5.1.5.1.5.7.5-.8.5.3.5.1.5-.1.5.1.5.2.5-.4.5.7.5-.1.5-.3.5.3.5-.4.5-.1.5-.2.5.1.5.4.5-.1.5.4.5 0 .5-.2.5-.2.5.4.5-.5.5-.7.5.7.5.2.5 0 .5 0 .5.1.5-1 .5 1.4.5-.5.5-.1.5-.6.5.8.5-.5.5-.3.5.7.5 0 .5-.2.5-.2.5.4.5-.1.5.1.5 0 .5-.6.5.6.5-.5.5.5.5-.2.5-.1.5.6.5-.4.5 0 .5.2.5.4.5-1.4.5.9.5-.1.5.3.5-.3.5 0 .5.2.5-.2.5-.3.5.3.5.5.5-.3.5-.8.5.6.5-.3.5.6.5-.6.5.3.5.2.5.1.5-.5.5.3.5.6.5-.9.5.2.5-.2.5.2.5.2.5-.1.5.1.5-.5.5.4.5-.1.5-.8.5 1.2.5-.3.5-.2.5.5.5-.2.5-.8.5.8.5.6.5-.6.5.1.5-.7.5 0 .5.1.5.7.5 0 .5-1 .5 1 .5-.9.5.2.5.4.5-.2.5.2.5.1.5.2.5-.4.5-.1.5 0 .5.9.5-.3.5 0 .5-.2.5-.1.5.3.5-.4.5-.4.5 0 .5 1.2.5-1.1.5.1.5.2.5.4.5-.7.5.3.5.2.5-.5.5.4.5.3.5-.3.5 0 .5.1.5-.2.5-.1.5 0 .5.4.5-.7.5.1.5.6.5.1.5-.3.5-.3.5-.2.5.6.5-.1.5.1.5 0 .5-.4.5 0 .5.2.5 0 .5-.4.5.1.5.3.5.5.5.3.5-.7.5-.1.5.2.5-.1.5-.3.5-.7.5 1 .5-.2.5.2.5-.3.5.2.5.1.5-.4.5.2.5.4.5 0 .5-.7.5.7.5.2.5-.3.5.1.5-.1.5 0 .5-.2.5.5.5-.4.5-.4.5.6.5.1.5-.1.5-.5.5.5.5-1 .5 1.3.5-.3.5-.7.5-.1.5 1.4.5-.7.5-.3.5.4.5-.2.5 0 .5.2.5-.1.5-.4.5.5.5-.1.5-.3.5.6.5-.2.5-.4.5.8.5-.4.5.3.5-.6.5 0 .5.2.5-.2.5.1.5-.3.5 1 .5-.4.5.2.5.1.5-.5.5.6.5-1.3.5.6.5-.1.5.2.5-.3.5.6.5.3.5-.5.5.1.5-.8.5.4.5.3.5-.3.5.3.5-.2.5.2.5-.5.5.6.5.3.5-.3.5.5.5-.7.5.3.5-.6.5.6.5-.1.5-.2.5.4.5-.7.5.3.5.2.5-.4.5 0 .5.6.5-.4.5-.2.5.1.5 0 .5 0 .5.3.5-.4.5-.2.5.5.5 0 .5.3.5-.7.5.2.5.5.5-.2.5-.3.5-.1.5.5.5-.2.5-.3.5.2.5 0 .5.4.5-1.1.5.6.5.6.5-.9.5.4.5.3.5-.6.5.2.5-.1.5.4.5-.3.5-.1.5.3.5.1.5.2.5-.4.5.1.5-.2.5.6.5 0 .5-.6.5-.4.5 1.2.5-1.1.5 0 .5.4.5.7.5-.2.5-.4.5.2.5-.2.5.4.5-.5.5.6.5-.3.5-.3.5-.4.5.9.5-.2.5-.4.5 0 .5.1.5.1.5 0 .5.1.5 0 .5-.2.5.8.5-.7.5-.1.5.3.5-.4.5.4.5-.1.5.3.5-.6.5-.3.5.9.5-.4.5.6.5-.3.5-.3.5.2.5-.5.5.1.5.3.5 0 .5-.5.5.7.5 0 .5.1.5-.7.5.6.5-.4.5.1.5.4.5-.3.5.2.5.1.5.1.5-.6.5 0 .5.3.5.1.5-.4.5.4.5-.4.5.2.5 0 .5.1.5.2.5-.3.5.1.5-.3.5.5.5 0 .5-.4.5.8.5-.6.5-.1.5 0 .5.2.5 0 .5-.3.5.4.5.1.5.2.5-.3.5-.2.5-.2"/>
<path fill="none" stroke="#ff8000" stroke-width="5" stroke-linejoin="round" shape-rendering="crispEdges" d="M174.3 1111.4l.5.8.5 1.2.5-3 .5-.9.5.1.5 1.6.5.3.5-1.6.5-.6.5-.9.5 3.1.5-2.7.5 2.4.5-.9.5-2.1.5.9.5 2.5.5-1.2.5-.3.5 1.7.5-1.5.5.1.5 0 .5-.1.5 1.2.5-2 .5 1.9.5.5.5-2.4.5 1.1.5-2 .5 1.5.5 1.3.5-.3.5-1.7.5 1.1.5-.1.5-.5.5 0 .5 2.1.5-5.6.5 2.4.5 1.7.5-1.2.5.5.5-.2.5-.7.5.3.5-1.1.5.9.5.8.5.2.5-.6.5-1.1.5-.2.5-1.7.5 1.7.5-1 .5.2.5.4.5.4.5 0 .5-.3.5-1.5.5.7.5 1.3.5-1.1.5.6.5-.6.5 1.7.5.1.5 1 .5-3.7.5 1.3.5-2.7.5 2.4.5-.4.5-1.2.5 2.2.5-1.7.5-2.3.5 3.7.5-1.9.5.8.5-1.9.5-.3.5-.7.5.1.5 2.1.5-.3.5-2.9.5 1.9.5-.1.5-1.1.5 1.2.5-1.5.5 2.1.5-1.7.5.5.5-4.8.5 3.7.5.5.5-1 .5.4.5-1.1.5 2.2.5-2.5.5.8.5 2.1.5-.5.5-1.6.5-1.7.5-.9.5 2.9.5-.4.5-.8.5-.1.5 3 .5-1.7.5-1.2.5-.4.5-.3.5.8.5-.9.5.4.5-.8.5 1.4.5-.7.5-1.9.5 5.1.5-3.5.5-1.1.5-1.1.5 1.6.5-1 .5 2.9.5-1.6.5-1.6.5-1.7.5 3.3.5-3.4.5 2.7.5-.5.5-4 .5 3.2.5 2.4.5-3.5.5-1.9.5.6.5 2 .5.4.5.6.5-.9.5-1.8.5.6.5.1.5 0 .5-1.6.5 2.4.5.5.5-1.8.5.2.5-2 .5 1.8.5-1.5.5-.3.5 2.2.5-1.1.5-.9.5-1.8.5 2.1.5 2.1.5-1.9.5-.3.5 1.2.5 1.1.5-2.2.5.4.5-1.2.5.2.5-.2.5.8.5-2.4.5 1 .5-.2.5-.7.5-.9.5 1.8.5-1.8.5-1.8.5 3 .5-3.1.5 2.9.5-4.8.5 3.4.5 2.4.5-3 .5 1.8.5-2.4.5-.6.5.5.5 1.6.5.3.5 0 .5-.9.5-1.4.5-3 .5 1.6.5 3.1.5-4.6.5 2.8.5-.3.5-3.1.5 2.7.5-1.2.5.7.5-.6.5-.3.5-1.2.5-1.7.5 5.3.5-4 .5.8.5-.4.5 0 .5-.8.5 1.8.5-1 .5-.8.5-.3.5 1.4.5-2.2.5 2 .5 1 .5-.5.5-.8.5-3.4.5 3.4.5-.8.5 1.5.5-2.9.5 0 .5 2.6.5-3.4.5 2.8.5-1.3.5-4.3.5 2.8.5-.1.5-1.4.5-1 .5 2.8.5-1.7.5.3.5-.5.5.9.5 1 .5.3.5-.5.5-1.4.5.1.5 1 .5.9.5-2.1.5-1.9.5 2.2.5.4.5-1.8.5 2.4.5-2.6.5.6.5.4.5 1.7.5-4.3.5 2.5.5.2.5-1.5.5 1.6.5-2.6.5-.9.5-.2.5.6.5-.7.5 2.3.5-.9.5-2.3.5 4.4.5-2.2.5-2.9.5-.5.5 2.8.5 1.7.5-2.6.5 1.7.5.9.5-1.6.5-1.7.5-1.7.5.8.5 2.8.5-2.1.5-1.7.5.6.5.2.5 1.8.5-2.8.5 3.5.5-2.6.5 0 .5-2.4.5 2.1.5-.4.5.5.5-2.3.5 1.2.5-2.8.5.7.5 4.9.5-4.4.5-.6.5 2.4.5-1.7.5 4.1.5-3.9.5.9.5-1.6.5 2.1.5-1.7.5 4 .5-5.2.5 1.7.5.4.5-2.9.5.9.5-.4.5-1.4.5 3 .5-4.9.5 2.4.5.2.5 2.2.5-.7.5 1.8.5.3.5-1.6.5-1.8.5 2.6.5-2.3.5.6.5.6.5 2.2.5 1.8.5-2.2.5-2.6.5 2.2.5.5.5-3.3.5 1.5.5-1.2.5 0 .5 1.1.5.1.5-1.4.5 1.2.5-1.9.5 1.6.5.5.5-.9.5-1.7.5 1.2.5 1.8.5 1 .5 0 .5.2.5 1.2.5-3.3.5 2.5.5-2.9.5 4 .5-1.1.5-2.9.5 2.7.5.7.5-2.7.5 1.9.5 1 .5 1.6.5-3.5.5 3.4.5-3.7.5.4.5 3.5.5-.7.5-2.2.5 3.7.5-1.4.5-.3.5-.5.5-3.3.5 4.1.5 1.6.5-1.3.5 1.4.5-1.1.5 2.4.5-6.3.5 5.3.5-1.9.5 1.9.5.8.5 1 .5-.3.5.8.5-3.1.5 2 .5-3.3.5 4 .5-2.7.5 4.3.5-1 .5-.5.5-.2.5 1.5.5-.9.5-1 .5 3 .5-1.6.5 2.3.5-1.8.5-.1.5 5.4.5-2.1.5 1.2.5-1.9.5.6.5.4.5 3.2.5-1.6.5-.6.5.1.5.5.5 1.7.5-1.2.5.4.5 2.1.5-.2.5 0 .5 2 .5-2.8.5-1.2.5-.4.5 2.5.5.8.5 1.3.5-3.2.5.4.5 1.9.5.2.5-1.3.5 2.1.5 1.5.5-1.1.5 4.1.5-2.1.5-1.9.5 1.1.5-1.5.5 5.5.5-3.2.5.2.5 1.8.5-1.2.5-.2.5 1.1.5 1.9.5.3.5-3.2.5-.1.5 3.2.5-.8.5.1.5 2.4.5-.6.5-1.1.5 1.9.5-1.7.5.6.5 3.7.5-2.8.5 1.4.5-.9.5.2.5-.8.5.2.5 3.7.5 1.6.5-1.9.5.1.5-1.3.5.9.5 2.5.5 1.8.5-2.4.5-.2.5 1.3.5-1.2.5-1 .5.1.5 1.1.5.1.5-2.6.5 1.1.5 3.9.5.4.5.1.5-1.3.5-.4.5 1.1.5.8.5-.9.5 2.4.5-2.3.5-2.1.5 4.5.5.5.5-1.3.5 1.9.5.4.5-5 .5 4.4.5-2.1.5 2.9.5-.4.5 1 .5-1.3.5-.3.5 1.4.5 3.2.5-2.5.5-1.9.5 1.6.5-.1.5 2.3.5-1.4.5-.4.5.9.5-1.1.5 1.8.5-1.9.5 1 .5 1.1.5-2 .5.2.5.9.5 3.3.5-.7.5-1 .5 1.5.5-.1.5-1.9.5-.5.5 3.3.5-2.5.5 1.9.5-2.9.5 2.1.5-1.5.5 2.7.5.3.5-.4.5.6.5-1.7.5 1.3.5.4.5-1.9.5 2.1.5-.4.5.3.5-.9.5.4.5.8.5-.5.5.7.5-2.5.5 3.2.5-2.3.5 2.5.5-3.3.5 1.2.5 1.2.5.3.5-1.1.5-.5.5 2.1.5.6.5-2.5.5-.4.5.9.5.7.5-2.1.5 1 .5 2.3.5-1.8.5 0 .5 3.1.5-.5.5.9.5-2.2.5-.1.5-.3.5-1.3.5-.8.5 2.8.5-.9.5 1.9.5.6.5-3.2.5.2.5 2.2.5 1.6.5.3.5-2.9.5 1.1.5 1.8.5-2.7.5-.3.5 3.1.5-2.6.5-.5.5 3.7.5-2.6.5.1.5 1.4.5 1.2.5-.8.5-.6.5.3.5.1.5-.1.5-2.6.5 2.7.5-2 .5.8.5 1.2.5-.3.5.7.5-.4.5.7.5 1.8.5-3.7.5 2.9.5 1 .5-2.8.5.2.5.3.5.8.5-1.4.5.5.5.5.5.2.5 1.7.5-2.3.5 1.7.5 0 .5-.6.5 0 .5-1.2.5.2.5 1.4.5-.1.5-.5.5 1.8.5-1.2.5-.1.5-.2.5 1.6.5-.6.5-.2.5-1.9.5 3.7.5-3.7.5 2.2.5-1.9.5-.4.5-2 .5 4.1.5.2.5-.7.5-.1.5-1.1.5 1.6.5-.2.5-1.4.5 1.2.5.3.5-1 .5 2.8.5-2.9.5 3.9.5-.9.5-1.9.5 2.6.5-.6.5.2.5-1.2.5-1.3.5-1.3.5 2.9.5-.5.5-.5.5 3.2.5-1.8.5-2.3.5 1.6.5.8.5-2 .5 1.8.5-.6.5-1.3.5 2.2.5.4.5-3.8.5 3.6.5-1.2.5.3.5-1.5.5.9.5 3.2.5-1.2.5-1 .5.4.5-1 .5.8.5-.8.5 1.3.5-1.5.5 1.5.5.7.5-1.2.5.6.5.1.5-.9.5-.9.5 2.8.5-1.1.5-.4.5 1.8.5-2.3.5.4.5-.2.5-.4.5 1.1.5-.6.5 2.4.5-2.4.5 2.2.5-2.4.5.7.5.4.5-1 .5 1.8.5-1.4.5-.1.5 1.5.5-1.6.5 1.5.5.5.5-.3.5.7.5-2 .5 1.9.5-2 .5-1.2.5 1.6.5 2.3.5-3.3.5 3.1.5-3.5.5 2.5.5-.5.5-1 .5-2 .5 3.2.5-.1.5-.2.5.5.5-2 .5 3.1.5-1.3.5-1.8.5 3.2.2-2.4.2.4.1.4.1-1.8.2-.1.2.8.2-1.1.2 1 .1 1.7.1-2.8.2 1.4.2-.8.2 1.5.2-2.2.1.1.1 1 .2 2.3.2-3.3.2-.8.2.7.1 1.9.1.2.2-1.1.2.3.2-1.9.2 2 .1-.7.1-.5.2 1.7.2.1.2-1.7.2.7.1-2.4.1.9.2 2.6.2-2.7.2.1.2 2.2.1-3.7.1 1.7.2 1.5.2-1.8.2-1.2.2-.9.1 1 .1-1.6.2.7.2-1 .2-.3.2.9.1-1.9.1-.6.2.8.2.1.2-.6.2-1.7.1 2.5.1-2.6.2-.3.2 3.1.2.6.2-1.9.1-.6.1 2.4.2-3 .2 1.4.2-.6.2 1.3.1-.3.1-1.2.2 2.1.2-.4.2-.8.2-.3.1.2.1-1.3.2 1.1.2 0 .2.9.2-.8.1-.2.1.7.2.8.2-.5.2-.7.2-.4.1 2 .1-1.5.2-1.3.2 1.6.2-2.2.2 1.4.1 1.2.1-.8.2-.2.2 1.1.2.5.2-2.3.1-.2.1.5.2-.5.2 1.8.2.2.2-.9.1-1 .1-.5.2 1.5.2-.8.2 1.1.2-2.1.1.6.1.1.2 1.3.2-.5.2-.6.2-.6.1.4.1-2.9.2 2.6.2-1.5.2 1.5.2-.9.1.1.1-2.2.2 3.5.2-2.9.2-.7.2-1.3.1.7.1-2.8.2 3.2.2-1.4.2-1.1.2 1 .1-1.2.1-.3.2-1.7.2.3.2-2.3.2-.6.1 1 .1-1.2.2-1.6.2.5.2-2.7.2 2.7.1-3.1.1-.5.2 1.6.2-4.3.2-2 .2 1.1.1-.9.1.7.2-2.6.2-3.2.2.3.2-2.2.1.7.1-1.9.2-3.4.2-1.9.2-1.6.2-3 .1-.6.1-1.4.2-4.5.2-1.8.2-2.9.2-6 .1-2.3.1.1.2-4.9.2-4.7.2-4.8.2-8.3.1-4.5.1-2.2.2-8.8.2-7.7.2-9.5.2-11.9.1-5.6.1-7.2.2-14.1.2-18 .2-15.9.2-24.4.1-11.9.1-13.4.2-28.9.2-34.5.2-41.8.2-43.1.1-23 .1-2.1.2-4.5.2-5 .2-5.9.2-28.7.1-26.7.1-29.5.2-50.6.2-45.9.2-31.2.2-11.2.1 3.5.1 7.1.2 32.2.2 44.5.2 53.6.2 53 .1 26.7.1 3.1.2 5.8.2 5.3.2 4.5.2 22.3.1 25 .1 24.4.2 38.7.2 33.5.2 29.1.2 25.4.1 12.8.1 10.9.2 17.5.2 15.8.2 14.7.2 11.6.1 8.2.1 4.9.2 11 .2 10.1.2 6.9.2 5.1.1 3.4.1 2 .2 4.9.2 9.3.2 3 .2 2.3.1 4.4.1-1.1.2 5.6.2 3.6.2 2.1.2 2.9.1 2.7.1-.2.2 4.1.2-.9.2 3.5.2 4.1.1-2 .1.9.2 2.7.2 1 .2 2.1.2 2.2.1.1.1.3.2.5.2 1.8.2 1.7.2-.9.1 1 .1-.3.2 2 .2 1 .2.1.2.1.1.7.1 1.9.2-.7.2 2.2.2-1 .2.4.1 2 .1-1.5.2 2.6.2-3 .2 2.8.2-.1.1.3.1.9.2-1.9.2 4.7.2-2.3.2 3.4.1-1.5.1-.5.2-1.6.2 3.8.2-.8.2.9.1-2.8.1-.1.2 1.8.2 1.2.2.5.2.7.1-2.1.1-.4.2 2.5.2-1.7.2 1.2.2 2.5.1-2.6.1 1 .2.1.2-.1.2.5.2.3.1-.4.1 1.7.2-.5.2-1.9.2 2.8.2-1.3.1-.2.1-.6.2 1.7.2-.7.2-.7.2.1.1 2.1.1-1.5.2.1.2 3.2.2-2.2.2.4.1-.5.1-.1.2-.9.2 1.8.2-.3.2-1.1.1.8.1 2 .2-1.5.2-.1.2-.7.2.1.1 1.2.1.4.2-.6.2.8.2-1.8.2.5.1.8.1.9.2-1.6.2 1.5.2-2.1.2 2.4.1.2.1-1.7.2.8.2.4.2-1.4.2.3.1 0 .1 1.1.2.4.2-1.9.2.3.2 1.4.1-1.3.1.5.2 1.1.2-.8.2 1.1.2-1 .1-.2.1-.6.2-1.5.2 1.9.2-1.4.2 2.7.1 0 .1-.3.2.7.2 1.1.2-4 .2 1.7.1 1 .1-1.1.2.2.2 1.2.2-.5.2-2 .1 3 .1-2.4.2 1.1.2.4.2-2.3.2 3.5.1-1 .1-.3.2.4.2-1 .2 1 .2 0 .1-3 .1 1.1.2 2.2.2-2 .2 1.6.2-.7.1.9.1-2.5.2 2 .2-.1.2.3.2-.1.1-.1.1.3.2.1.2-1 .5 2.1.5-1.4.5-.6.5 1.4.5-2.2.5 2.7.5-1.4.5.5.5 0 .5.6.5-1.1.5.2.5.9.5-.9.5.7.5 0 .5-.2.5-.3.5 0 .5.5.5-.8.5.2.5 4 .5-2.7.5 1 .5-.6.5.6.5-.6.5 1 .5-.8.5.2.5-1.5.5 2.3.5-1.2.5.2.5.5.5-.1.5-.2.5 1.3.5-2.1.5-1.2.5 1.7.5-1.9.5 2.1.5 1.5.5.2.5-2.6.5 1.5.5-1.6.5 1.6.5 1 .5-1.9.5 2.1.5-1.2.5 2.3.5-3.1.5-.3.5 2.2.5-.4.5-.3.5-1.4.5 1 .5-.7.5 2.1.5-.9.5-1.3.5-.1.5-.6.5.8.5.6.5.4.5.7.5-1.5.5 1.7.5-3.2.5 1.9.5.7.5-1.1.5.7.5.6.5-1.4.5.8.5.9.5-2.3.5 2.3.5-1.2.5-1.3.5 1.8.5.3.5-.9.5.6.5.1.5-.4.5.1.5.7.5-.1.5-.8.5-1.7.5.5.5.9.5 1.5.5-.6.5 1.2.5-1.3.5 0 .5-.7.5 1.5.5-2.5.5 1.6.5-.4.5-.4.5 1.4.5-.2.5-.3.5-.7.5-1.1.5.1.5-1.1.5 1.1.5 1.6.5 1.1.5-2.5.5 2.3.5.7.5-.8.5.6.5-1.7.5-.4.5.7.5.7.5-.5.5-.2.5.6.5-1.7.5 1.6.5-2.6.5 3.3.5 0 .5.9.5-3.2.5.4.5-.5.5-.4.5-.8.5 3 .5-1 .5.1.5-1.6.5 1.9.5 1.8.5-1.8.5.6.5-1.9.5 2.2.5-1.1.5.2.5.2.5-.6.5.9.5-.7.5-.4.5-.6.5-.1.5 2 .5.2.5-1.1.5-.1.5-.4.5.8.5 1.1.5-1 .5-.8.5 1.5.5-.3.5-2.4.5 1.3.5 1.6.5-.8.5-.4.5.4.5-1.5.5 0 .5 1 .5.3.5 1.4.5-1.6.5.4.5 1.2.5-2.1.5.3.5.3.5.2.5-.1.5.6.5-1.9.5-.1.5 1.2.5-1.5.5 3.1.5-2.3.5.2.5 1.2.5-.3.5.2.5-.6.5-1.2.5 1.1.5-.5.5-.9.5 1.3.5 1.2.5-1.8.5.2.5-.1.5 1.5.5-2.7.5 2.4.5-.3.5-.2.5-.8.5.6.5 2.1.5-1.6.5-.6.5 1.2.5-2 .5 2.3.5-1.2.5 2.5.5-.3.5-1.5.5-.2.5-.8.5 1 .5.1.5-2 .5-.1.5 1.9.5-1 .5.7.5-.1.5.1.5-.4.5.8.5.8.5.2.5-1.9.5.4.5 0 .5-1.5.5-.1.5 1.4.5.6.5.3.5-1.4.5 1.2.5-.7.5-.3.5 1.4.5-2.6.5-.6.5 4.1.5-1.9.5.8.5-.8.5-.6.5-.4.5-.7.5 1.9.5-1.1.5.9.5.3.5-.3.5.2.5 1.3.5-1.1.5-.1.5-.4.5 1.6.5-.2.5-1.8.5 1 .5-.5.5-.3.5-.4.5 2.5.5-1.2.5-2.5.5 3 .5.7.5-1.5.5-.2.5.2.5.7.5-1.4.5.9.5-1.7.5 2.5.5-2.2.5.7.5.8.5.5.5-1.6.5 0 .5 2.1.5-2 .5-.2.5.3.5 1.1.5.1.5.3.5-.6.5-.8.5.8.5.3.5-1.7.5.5.5.5.5 1.6.5-1.8.5.3.5 0 .5.3.5.3.5-1.6.5-1.7.5 3.4.5-2.7.5 2.3.5.1.5.3.5-1.7.5 1.3.5.3.5.1.5.5.5-2.1.5.4.5.3.5.2.5 1 .5-.2.5-.6.5 1.5.5-1.1.5-1.6.5 2.3.5-2.4.5 0 .5.8.5-.1.5.4.5.1.5-.7.5 0 .5 1.3.5-.3.5-.5.5-.6.5.8.5-.9.5-.3.5 2.2.5-.3.5-1 .5 1.8.5-1.5.5.7.5-.2.5-.3.5 0 .5 1.3.5-.6.5-2.5.5 2.3.5-2.6.5 1.1.5 1.3.5-1.4.5 2.2.5-1.5.5.9.5-.3.5.5.5.5.5-2.6.5 1.3.5.3.5.7.5-.4.5-.8.5-1 .5-.2.5.7.5 1 .5 0 .5 1.1.5-1 .5.4.5-1.9.5 1.5.5-.7.5-.1.5 1.7.5-1.2.5 0 .5.1.5-1.3.5-.2.5 3.2.5-1.7.5 0 .5.2.5-.6.5.1.5-.5.5 1.1.5-.4.5 1.1.5.4.5-2.4.5 1.6.5-1 .5 2.4.5-1.8.5.7.5-1.3.5 1.6.5-1.8.5-.5.5-1.1.5 2.2.5-.3.5.5.5-1 .5.8.5 0 .5-.9.5 2.7.5.3.5-1.7.5.2.5.1.5.1.5-1.4.5 1 .5 1.4.5-1.8.5-.1.5-.6.5.5.5-1.6.5 1.9.5 1.1.5-.7.5-.1.5-.1.5 0 .5-1 .5-.8.5 3.4.5-1.2.5-2.5.5 3.5.5-1.8.5 1.2.5-.9.5-.5.5 1.3.5-1 .5-2 .5 2.8.5-.6.5 0 .5-.2.5.7.5 1 .5-.5.5-.6.5-.2.5-.8.5 2.3.5-3.3.5.8.5.8.5.3.5.1.5-.6.5 2.1.5-.6.5-2.9.5.9.5-.4.5 2.5.5-1.6.5-1.1.5 1.2.5-.9.5 1.2.5.6.5-1.7.5 1.3.5.1.5-1 .5 1.1.5-1 .5 1.2.5-.7.5-.3.5 1.7.5-.4.5-1.2.5-2.6.5 3.1.5-.7.5.9.5-.4.5-.3.5 0 .5 1.6.5 0 .5-.1.5-2.3.5.7.5.5.5-1.9.5 2.7.5-1.9.5 1.8.5-1.4.5.9.5-1.9.5-.8.5 1.6.5-.6.5.1.5.7.5.7.5.5.5-1.6.5-.5.5 1.2.5-.9.5-.1.5.7.5 1.4.5-.8.5-2.1.5 3.6.5-3 .5 1.4.5-.9.5 1.6.5-.5.5.7.5-.9.5-.3.5 1.2.5-2.8.5.5.5-.1.5 1.1.5-.3.5-.3.5 1.4.5-.2.5-.9.5-.8.5 3.2.5-1.7.5-.8.5.7.5.2.5-.9.5 1.2.5-.6.5-.5.5 1.4.5-1.4.5 1.6.5-1.1.5-.3.5 1.2.5-1.3.5.8.5.7.5-1.6.5-.2.5 1.2.5.2.5-2.8.5 2.4.5.5.5-1.5.5 1.4.5-1.2.5-.3.5.3.5.9.5-1 .5-.2.5.5.5.7.5-2.5.5 2.7.5.3.5-2.2.5.9.5.4.5-.3.5 1.5.5-1.5.5-.6.5.1.5.6.5-.9.5.1.5 0 .5 2 .5-1 .5-1.6.5 1.5.5-2.8.5 2.3.5.6.5-.3.5.2.5-.3.5-.8.5.4.5 0 .5-1.1.5 1.3.5-.9.5 1.4.5 1.5.5-.1.5.4.5-2.7.5 0 .5.9.5-1.3.5 1.3.5-1 .5.7.5-.6.5 1.7.5-.3.5-.3.5-1.8.5 2.1.5-1.4.5-.8.5 1.4.5.7.5-2.3.5 2 .5-.8.5 0 .5.6.5-.7.5-.3.5 1.5.5-3.1.5 3.1.5-2 .5 2.2.5-2.1.5 2.2.5-2.7.5 3.1.5-1.4.5-.3.5-.1.5 1.2.5-1.1.5.7.5-.3.5-1.1.5 2.4.5-1.6.5.4.5 0 .5-.2.5 1.5.5-1.1.5-.6.5.3.5-.3.5-.7.5 2 .5-1.8.5 1.9.5-.9.5.6.5-.7.5-.2.5 2.3.5-2.4.5-.4.5 1.2.5.8.5-2.3.5.7.5 1.2.5.1.5-.3.5-.8.5.6.5-.8.5 1 .5-.3.5.2.5-.4.5.9.5-.6.5-.6.5 1.8.5-1 .5-.4.5.2.5 1.4.5-1.2.5.2.5-.9.5.4.5-.2.5-.2.5-.1.5.6.5-.8.5 1.7.5.1.5-1.4.5 1.2.5-1 .5.9.5.1.5-1.7.5-.7.5 2.5.5.1.5-.4.5-.5.5-.1.5-1.5.5 3.3.5-3 .5 2.1.5-.4.5.5.5-1.3.5.4.5 1.1.5-1.3.5 1 .5-1.1.5 1.2.5.3.5-.3.5.4.5-1.4.5.6.5.1.5 1.5.5-1.6.5.5.5 1 .5-.8.5.6.5-1.6.5 1.7.5-.8.5.5.5.1.5-2.1.5 2.5.5-1.2.5 1.3.5-1.2.5.4.5-1.4.5.3.5 1.9.5-1.6.5 1 .5-.3.5-.8.5.7.5.1.5.7.5-.9.5-.1.5 1.7.5 0 .5-1.1.5-.9.5 1.2.5-.7.5 1.6.5-1.2.5-.5.5.3.5-.5.5.8.5-1 .5 1.2.5.5.5-.2.5-1.2.5 1.1.5-.6.5-.8.5 1.1.5.8.5-.6.5-.4.5-.2.5.5.5.4.5-.2.5.8.5-.3.5.2.5-1.1.5.7.5-.4.5.4.5-.1.5 1.8.5-2.9.5 1.2.5-.7.5.8.5-.1.5 1 .5-1.3.5-.5.5.9.5-.1.5-1.9.5 3.3.5-2.3.5 2 .5-.2.5.1.5-.9.5-.8.5 0 .5 1.7.5-1.4.5.7.5-.6.5-.2.5 1.3.5-1.5.5.6.5-.1.5.4.5-.2.5-.8.5.5.5.1.5 1.9.5-1 .5-.7.5.3.5-.4.5 1.6.5-1.5.5-.6.5 4 .5-3.8.5.1.5-.3.5 1.1.5-.8.5-.1.5 1.4.5.4.5-.9.5-1.1.5 1.3.5-.9.5.7.5 0 .5-1.1.5 1.6.5-.7.5 0 .5-.8.5 1.6.5-1.3.5.6.5-.8.5-.2.5 0 .5-.3.5 1 .5 1.4.5-.2.5-1.6.5.1.5 1.9.5-.6.5-.6.5-.3.5 0 .5-1.6.5 1.4.5 2.2.5-.4.5-1.5.5.8.5-.1.5-.9.5-.3.5.3.5.6.5.9.5-.8.5-.2.5-.2.5 1.2.5.3.5-1.1.5-.4.5.5.5.2.5.5.5-.2.5-1.3.5.5.5-.2.5.8.5-1.4.5-.5.5 1.5.5-.5.5.1.5.2.5-.6.5.8.5-.9.5-.1.5 1.4.5-.7.5 1.1.5-.6.5-.7.5.1.5-.4.5.8.5.4.5-.4.5.2.5-.9.5 1.7.5-.5.5.3.5-1.6.5.7.5-.4.5 1.8.5-1.3.5 1.8.5-1.3.5-.8.5 1.4.5.4.5-1.5.5-.3.5.4.5-.8.5.1.5-.8.5 1.2.5-.6.5 1.2.5.1.5.5.5-.5.5-.4.5 1.1.5-1.4.5-1.1.5.6.5.7.5.7.5.4.5-1.5.5 1.5.5-.5.5.2.5-1.2.5.6.5-1.4.5 1.7.5-.4.5.8.5.4.5-1.5.5 1.3.5.2.5-1 .5 1.6.5-2 .5-.5.5 1.1.5 1.3.5-.9.5-1.6.5.9.5 1.3.5-1.5.5.5.5-.7.5 2.2.5-.1.5-2.2.5-.4.5 1.7.5 0 .5-.3.5.1.5-.3.5.9.5-.1.5.4.5-.3.5-1.1.5.1.5.2.5.2.5-.5.5-.1.5.4.5-.1.5.2.5 1.3.5-.2.5-1.3.5.4.5-.3.5-.4.5 1 .5-1.8.5 1.6.5-.4.5-.6.5 1.2.5.4.5-.6.5.2.5-1 .5 1 .5.8.5-1.9.5 2.4.5-2.9.5 2 .5-1.1.5.6.5-.2.5.1.5.7.5-.9.5.3.5.7.5-.9.5-1.4.5 1.1.5 0 .5-.2.5 1.1.5-.4.5-.6.5.2.5-.6.5.6.5 1.8.5-2.6.5 2.6.5-1.4.5-.1.5-.3.5-.4.5 1.3.5-.7.5-.2.5.4.5 1.2.5-1.4.5.2.5 1.1.5-1.7.5 1.3.5 1.2.5-1.8.5-1.1.5 1.9.5-.9.5 1.1.5-.5.5-.2.5-.8.5 1.5.5-.5.5 0 .5 0 .5 0 .5-.1.5-.2.5-1.1.5.7.5.2.5 1 .5 0 .5-1.4.5.3.5 0 .5.6.5 0 .5.3.5-.9.5.2.5 1.7.5-2.2.5 1.8.5-.4.5.1.5-.6.5 0 .5.5.5-.6.5 0 .5-.1.5.5.5-.4.5-.1.5.6.5-.2.5-1.1.5.9.5 1 .5-.6.5.7.5-2.2.5 1.5.5-1.6.5 1.7.5-.8.5.3.5.4.5-.8.5.1.5.2.5.8.5.4.5-1.5.5-.1.5.7.5-.8.5-.2.5 1.3.5-.7.5 1.5.5-1.7.5 1.6.5-.1.5-1.1.5.4.5-2 .5 2 .5-.1.5-.6.5 1.5.5-2.5.5 2.1.5-.4.5.1.5-1.2.5 1.5.5-.8.5.5.5.5.5-1.2.5-1.3.5 2.1.5-.1.5-.3.5-.2.5-.2.5.7.5.3.5-.6.5 1.1.5-1 .5.6.5-.5.5.1.5.7.5-.2.5.4.5-.1.5-.7.5.5.5-.1.5 0 .5.2.5-.5.5.1.5.2.5-.9.5 1.1.5.2.5-2 .5 1.8.5-1 .5 0 .5 1 .5-1.1.5.8.5-.6.5-.4.5 2 .5-1.7.5-.2.5.5.5 1.4.5-2.2.5 1.8.5-1.2.5.6.5-.2.5.8.5-1.2.5 1.7.5-1.4.5-.7.5 1.1.5.4.5-.1.5.2.5-.8.5 1.1.5-.4.5-1.1.5.3.5-.2.5.3.5.4.5-.5.5.2.5.6.5.1.5.4.5-2.9.5 1.6.5-.1.5.1.5-.2.5 0 .5 1.1.5.3.5-1.5.5 1.2.5-1.9.5 1.8.5.7.5-.5.5-1.1.5 0 .5.4.5 1 .5-.6.5-.1.5.2.5-1 .5-.7.5 1 .5.1.5.5.5-.2.5 2 .5-2.3.5-.1.5 1.3.5-.9.5 1.2.5 0 .5-.6.5-.1.5-1.4.5 1.8.5-.7.5.3.5.2.5-.5.5-.7.5.3.5-.3.5 1.2.5-.6.5 0 .5-.3.5.2.5-.6.5.8.5-.8.5.9.5-.4.5.5.5.4.5-.4.5-.2.5.4.5-.8.5.3.5.3.5-1.2.5.5.5 1.7.5-1.2.5 0 .5.3.5-.5.5-.2.5.1.5.8.5.4.5-1.3.5.2.5.4.5-1 .5.7.5.6.5 0 .5.8.5-1.7.5.2.5.5.5-.3.5.5.5-.7.5-1.1.5.5.5-.5.5 1.1.5.6.5-.5.5-.6.5-1 .5 1.1.5-.4.5-.1.2.4.25 1.3.05-1.6.2-.2.25-.5.05 1.4.2-1.2.25-.6.05.9.2.4.25-1 .05.7.2-1 .25 1.6.05-1.4.2.6.25-.6.05.2.2.5.25-.6.05.2.2.7.25.7.05-1 .2-.5.25 0 .05-.9.2 0 .25-.2.05.9.2-.4.25-.3.05 1.5.2-1.5.25.3.05-.3.2-.4.25 0 .05-1.2.2.8.25.2.05.3.2-1.4.25.6.05-.4.2-1 .25-1.2.05 1 .2-1 .25.4.05-.6.2-1.7.25-.2.05.3.2-.3.25-3.4.05 1.5.2-2.2.25-1.1.05-.7.2-.6.25-2.8.05.2.2-2.7.25-4.9.05-1.7.2-2.6.25-5.8.05-.8.2-5.9.25-7.3.05-.7.2-6.4.25-7 .05-.4.2-3.5.25.5.05.9.2 2.3.25 5.3.05 2.1.2 4.9.25 7.3.05 0 .2 3.6.25 3.3.05 0 .2 2.7.25 1.7.05-.5.2.8.25-.8.05-.5.2-2.3.25-2.4.05.4.2-2.5.25-1.1.05 0 .2 1.8.25.7.05 2.5.2 3 .25 4.9.05.2.2 4.4.25 3 .05-.3.2 2.3.25 3.5.05.7.2 1.6.25 2.2.05.4.2-.9.25 2.7.05.2.2 1.1.25.1.05 1.3.2 0 .25 1.3.05-1 .2.7.25-.2.05.3.2.7.25.2.05.6.2.3.25 0 .05.1.2-.4.25.6.05.1.2-.1.25 1.1.05-.1.2-.7.25.4.05.2.2.2.25 1 .05-1 .2-.1.25.6.05.2.2.4.25-1.1.05.4.2.3.25.1.05-1 .2 1.2.25.6.05-.4.2-.4.25-.4.05 0 .2.6.25-.4.05 0 .2-.4.25 1.2.05.2.2-.4.25.4.05-.3.5.9.5-.9.5.1.5-.6.5.7.5-.1.5 0 .5 1.1.5-.3.5.2.5-.4.5-.7.5.6.5.6.5-1 .5.4.5.1.5.6.5-.5.5.4.5-.1.5-.5.5.3.5-.8.5.5.5.6.5-.1.5 0 .5-.2.5.5.5-.1.5-.3.5-.9.5 2.6.5-.4.5-1.7.5 1.3.5-1 .5.8.5-1.1.5.5.5-.2.5.6.5.1.5-.4.5-1.3.5 1.3.5-.6.5 1.4.5-1.1.5-.9.5 1.1.5-.6.5 1 .5-1 .5.9.5-1 .5 1.5.5-.7.5.4.5-.5.5 1.2.5-1.2.5.5.5-.4.5.7.5-1.4.5-.1.5 1.2.5-.7.5-.1.5.7.5-.2.5-1.3.5 1.4.5-.4.5-.2.5.9.5-.1.5.5.5-1 .5-.2.5 1.8.5-.9.5-.1.5-.8.5.2.5.7.5-2 .5.9.5.8.5-1.1.5 1.4.5-.5.5-.8.5.9.5 0 .5 0 .5.3.5-1.1.5.5.5.6.5-.1.5-.1.5 1.4.5-1.7.5-.1.5.7.5-.4.5.5.5-.5.5 1 .5-1.3.5.3.5.6.5-.5.5.5.5-.1.5.1.5-1.1.5 1.1.5-.4.5.1.5-.5.5.6.5.2.5-.2.5.1.5-.2.5-.2.5.4.5-.3.5 0 .5.3.5.3.5.3.5-.3.5-.5.5-.4.5.6.5-.7.5 0 .5-.4.5 1.5.5 0 .5-1.1.5.6.5.1.5.6.5 0 .5-1.2.5.6.5-.9.5.7.5.1.5-.2.5-.4.5.4.5 1.2.5-1.3.5.3.5.5.5-.1.5-.6.5.9.5 0 .5-.6.5.1.5-.2.5.3.5-.1.5.4.5-1.4.5 1.3.5-.5.5.8.5-.2.5-.6.5.1.5-.2.5-.3.5.4.5.5.5-.5.5-.5.5.6.5-.5.5.5.5.3.5.2.5.1.5-1 .5-.8.5 1.2.5-.1.5.5.5-.1.5-.4.5.2.5.3.5-.7.5-.7.5 1.2.5-.1.5-.3.5.9.5-.7.5-.3.5.5.5.7.5-1.3.5.9.5-1 .5.9.5-.5.5 0 .5.5.5.9.5-2 .5.7.5-.3.5 1 .5-.6.5-.4.5.8.5-.1.5-.3.5.4.5-.2.5.3.5-1 .5.8.5.2.5-.8.5 2 .5-.9.5-.6.5-.4.5.2.5.1.5.2.5-.8.5.1.5 1.1.5-1.2.5 1.5.5-1 .5-.5.5.2.5 1.2.5-.7.5-.5.5 1 .5-.3.5-.6.5-.2.5-.2.5.8.5.2.5.4.5 0 .5-.2.5-1.1.5.4.5.5.5-.3.5.1.5-.2.5.2.5.4.5-.2.5-.8.5.4.5-.3.5-.2.5 1.1.5-.4.5 1.1.5-.8.5 0 .5-.5.5-.1.5.7.5-.6.5.9.5-.2.5 0 .5-.4.5-.4.5.9.5-.8.5.3.5.3.5-.5.5 0 .5-.4.5 1.1.5.3.5-1.2.5.9.5.4.5-.1.5-.3.5-.7.5-.4.5.4.5.5.5.4.5-.1.5-.6.5.3.5-.4.5-.6.5.5.5.8.5-.2.5-.2.5-.1.5 1 .5-.8.5-.3.5-.5.5.4.5.4.5-.4.5.4.5-.4.5 1.4.5-1.3.5.5.5-.7.5.5.5.2.5-.3.5-.8.5 1.4.5-.4.5-.6.5.1.5.5.5-.6.5.6.5-.8.5.6.5.3.5-.5.5.2.5.1.5.4.5-.1.5-.4.5.1.5-.3.5 0 .5 0 .5-.1.5.6.5-.5.5-.2.5 0 .5.3.5.2.5-.4.5-.2.5.5.5.3.5-.8.5.3.5-.6.5 1.7.5-1.4.5 0 .5.6.5-.3.5.5.5-.7.5.4.5.1.5.1.5.5.5-.7.5-.4.5.6.5-.5.5.7.5-.3.5-.1.5-.6.5 0 .5.4.5.2.5-.8.5.6.5.3.5-.3.5.6.5-.3.5.5.5-.8.5.4.5-1.2.5.7.5.7.5-.5.5-.1.5-.2.5 1.1.5-.2.5-.5.5.2.5-.2.5-.5.5.7.5-.4.5 0 .5.7.5-.4.5-.4.5.6.5-.2.5.1.5-.2.5.2.5 0 .5-.5.5 1.2.5-.7.5-1 .5 1.3.5-1 .5.7.5.5.5-.7.5.1.5.5.5-.3.5 0 .5-.2.5 0 .5-.7.5.6.5.1.5.3.5-.1.5-.7.5.2.5-.5.5.8.5.6.5-.5.5-.4.5.4.5-.1.5-.4.5.1.5.3.5.3.5-.5.5 0 .5-.3.5.5.5-.4.5 1.1.5-.6.5-1.2.5 1.7.5-.5.5-.1.5.1.5-.3.5-.1.5.1.5.2.5.2.5.6.5-.6.5.2.5 0 .5-.6.5-.1.5.1.5.8.5-1 .5.7.5-.5.5 1.2.5-1.4.5.1.5.2.5-.2.5.7.5.1.5 0 .5.4.5-1.1.5.4.5-.2.5-.1.5.4.5.6.5-1.1.5 1.1.5-.6.5-.3.5-.3.5.8.5-.3.5-.1.5-.1.5.1.5-.1.5.2.5-.7.5.8.5.2.5 0 .5-.8.5.5.5.1.5.3.5-.1.5.1.5-.4.5.3.5-.3.5-.1.5-.4.5.6.5-.2.5-.4.5 1 .5-.6.5.3.5-.1.5-.1.5.1.5.3.5-.6.5-.2.5.8.5-.2.5-.4.5.6.5-.8.5.5.5.1.5-.1.5.1.5-.3.5-.4.5.4.5.4.5-.2.5 0 .5-.1.5.5.5-.6.5.3.5 0 .5-.4.5.6.5-.2.5.1.5-.7.5.9.5-.5.5.1.5.1.5.2.5-.5.5.3.5-.1.5 0 .5 0 .5-.3.5.3.5.4.5-.7.5-.2.5 1 .5-.9.5.3.5-.1.5.3.5-.2.5.3.5-.3.5-.2.5 1.1.5-.7.5.1.5-.6.5.2.5.1.5.5.5-.6.5.4.5-.3.5-.1.5.5.5-.1.5-.5.5.6.5-.7.5.6.5-.2.5.8.5-.6.5.6.5-.5.5-.3.5.3.5-.7.5.1.5.3.5.6.5-.2.5-.8.5-.2.5.8.5-.6.5.1.5.2.5-.1.5 0 .5.2.5.4.5-.5.5.2.5.1.5.1.5-.2.5-.2.5.2.5-.5.5.5.5.4.5-.2.5-1.1.5 1.1.5 0 .5-.3.5.3.5 0 .5-.2.5-.1.5-.3.5.7.5-1 .5.8.5-.2.5.1.5-.1.5.1.5-.2.5-.1.5.8.5-.6.5.6.5-.2.5-.2.5 0 .5-.1.5.3.5-.3.5-.1.5.3.5-.2.5.2.5-.3.5.1.5.3.5 0 .5-.6.5.3.5-.3.5.6.5-.5.5-.3.5.2.5 0 .5 1.1.5-.9.5.4.5-.5.5.4.5.2.5-.1.5.2.5-.2.5-.3.5.2.5-.1.5-.2.5.8.5-.9.5-.1.5.2.5.5.5-.4.5.2.5-.3.5.5.5-.2.5-.1.5.4.5-.7.5.7.5-.2.5-.6.5.3.5.2.5-.4.5.1.5.6.5.4.5-.3.5-.3.5-.2.5-.3.5.5.5-.3.5.1.5.1.5.2.5-.1.5-.8.5.4.5.5.5.1.5-.2.5.1.5-.6.5.3.5.1.5.2.5-.2.5-.2.5.4.5-.2.5.1.5-.6.5.5.5.1.5.3.5-.4.5-.5.5.1.5.7.5-.1.5-.3.5-.2.5.6.5-.5.5.1.5-.4.5-.3.5.8.5.5.5-.6.5-.3.5.7.5-.6.5-.4.5.5.5.2.5-.3.5.2.5 0 .5.1.5.4.5-.4.5.1.5.2.5-.4.5.3.5-.4.5.2.5-.1.5.4.5-.1.5-.4.5-.1.5-.1.5.1.5.1.5.1.5-.2.5.8.5-.2.5.3.5-.5.5.1.5-.3.5.4.5-.2.5-.1.5.1.5.4.5 0 .5-.5.5-.6.5-.2.5.8.5 0 .5 0 .5.1.5.1.5-.4.5 0 .5.7.5.2.5-.6.5 0 .5.2.5-.2.5-.1.5 0 .5.5.5-.7.5.4.5-.5.5.5.5-.1.5-.1.5.1.5-.6.5.3.5.1.5.2.5-.1.5-.2.5.3.5 0 .5.7.5-.7.5 0 .5 0 .5-.1.5-.1.5.4.5-.3.5-.1.5.1.5.5.5-.8.5.2.5.2.5.1.5.3.5.1.5-.7.5.4.5.3.5-.2.5-.6.5.1.5.2.5.2.5-.5.5.5.5-.4.5.4.5 0 .5-.1.5.2.5-.3.5 0 .5.4.5-.6.5 0 .5-.2.5.9.5-.7.5.5.5-.3.5.1.5-.2.5 0 .5.4.5-.3.5-.3.5.2.5-.3.5.5.5.1.5-.2.5.4.5 0 .5-.5.5.4.5-.4.5.1.5-.1.5.1.5-.4.5.3.5-.3.5.8.5-.6.5.2.5-.5.5.3.5.3.5-.7.5.7.5-.2.5.7.5-.4.5.1.5-.2.5.2.5-.6.5.8.5-.3.5-.6.5.5.5-.1.5.5.5-.6.5.1.5.2.5-.2.5.5.5-.3.5-.4.5.3.5-.1.5.5.5-.8.5-.2.5 1.2.5-.7.5.4.5-.3.5-.2.5.3.5-.1.5-.2.5-.4.5.6.5.4.5-.1.5-.7.5.8.5-.8.5.2.5.2.5 0 .5-.3.5.2.5.1.5 0 .5.2.5 0 .5-.2.5-.2.5.4.5-.2.5-.3.5-.4.5.7.5.2.5.1.5-.6.5.3.5-.5.5.5.5 0 .5-.3.5.4.5.2.5 0 .5-.6.5.3.5.3.5-.4.5 0 .5 0 .5.3.5-.3.5-.5.5.8.5.6.5-.7.5.3.5-.3.5-.2.5-.2.5.4.5-.1.5.3.5-.3.5.2.5-.8.5.7.5.1.5-.1.5.3.5-.4.5.2.5-.8.5.8.5 0 .5-.5.5-.3.5.3.5.3.5.5.5-.9.5.5.5.1.5-.1.5-.3.5.4.5-.6.5-.2.5.6.5-.3.5-.4.5 1.1.5-.2.5 0 .5-.5.5.1.5-.3.5.5.5-.1.5.1.5.4.5-.6.5.1.5-.4.5.9.5-.1.5-1 .5 0 .5 1.2.5.1.5-.4.5.2.5-.8.5.4.5.3.5-.4.5-.2.5.3.5-.3.5.9.5-.7.5-.1.5-.4.5 1 .5-.5.5.3.5-.2.5.1.5-.1.5-.2.5.3.5-.3.5.3.5 0 .5.1.5-.5.5 1 .5-.6.5-.4.5-.2.5.5.5 0 .5.2.5-.7.5.5.5.1.5.2.5-.8.5.3.5 0 .5.2.5-.1.5.1.5-.3.5.4.5-.6.5.5.5.6.5-.9.5.8.5-.1.5-.6.5.3.5.1.5-.5.5-.3.5.5.5-.3.5.6.5-.7.5 1.1.5.1.5-.9.5-.4.5.7.5-.3.5.2.5-.5.5 0 .5.6.5-.5.5-.2.5.7.5.1.5-.3.5-.2.5.8.5-.6.5.3.5-.6.5 0 .5.4.5.5.5-.8.5.1.5.1.5.5.5-.4.5.1.5.2.5-.1.5.3.5-.9.5.5.5 0 .5-.5.5.4.5.1.5-.2.5-.1.5.6.5-.3.5-.1.5.1.5-.2.5.2.5.1.5-.5.5.3.5 0 .5.1.5-.2.5.1.5-.1.5-.2.5.1.5-.3.5.7.5-.1.5-.4.5 0 .5 0 .5-.1.5.1.5.5.5-.3.5.4.5-.1.5-.1.5-.5.5.9.5-.6.5-.6.5.6.5 0 .5.3.5-.5.5.3.5-.1.5.5.5-.5.5.3.5.1.5-.5.5.3.5-.1.5.5.5-.3.5-.4.5.8.5-.8.5.2.5 0 .5.2.5-.4.5.1.5 0 .5.2.5-.3.5.1.5-.3.5.9.5-.3.5.2.5-.6.5-.3.5 0 .5.1.5.6.5-.3.5-.1.5-.2.5.9.5-.9.5.3.5 0 .5.1.5 0 .5.1.5.7.5-.4.5-.3.5-.4.5.8.5 0 .5-.7.5.4.5-.9.5.4.5.7.5-.9.5.7.5.2.5-.8.5.4.5.5.5.3.5-.7.5.4.5-.7.5 0 .5.4.5.1.5-.2.5.3.5-.1.5.2.5-.2.5-.2.5 0"/>
<path fill="none" stroke="#0000ff" stroke-width="5" stroke-linejoin="round" shape-rendering="crispEdges" d="M174.3 1062l.5.2.5 1.2.5-.2.5.4.5-.6.5-.1.5-2.2.5.5.5-.2.5-.4.5-2.2.5 3.8.5-2.2.5.3.5-.1.5 2.8.5-1.4.5 1.2.5-1.9.5.9.5 0 .5-1.3.5.3.5-2.4.5.7.5 1.4.5-3.1.5 3.1.5-.1.5-1.2.5 1.8.5-.4.5.7.5-1.2.5.4.5-.4.5-2.2.5 1.6.5-.2.5.2.5-.2.5 1 .5-1.2.5-1 .5 1.6.5-3.4.5.7.5 3.3.5-3.5.5 2.2.5-1.8.5 2.1.5-.5.5.8.5-.6.5.7.5-2.8.5 3.1.5-2.6.5 1.6.5-1.4.5 1.6.5-1 .5-.3.5.4.5-.9.5 0 .5 1.8.5-1.2.5-.7.5-.7.5 2 .5-2.7.5.9.5-1.5.5.6.5.5.5.6.5-.6.5 1.2.5-3.7.5 5.1.5-2.1.5-.2.5-1.8.5 2.3.5-2.4.5.9.5.2.5.4.5-.1.5-1.9.5-.7.5 3.4.5-.8.5-.4.5-.2.5 0 .5-3.3.5 2.5.5 1.1.5-1.2.5.7.5-.5.5-1.2.5-.6.5.8.5 1.4.5-3.5.5 3.2.5-3.9.5 5.1.5-3 .5.3.5-.9.5 1.8.5-2.4.5 2.7.5.9.5-3 .5-1.2.5 2 .5-2.2.5.4.5.6.5 1 .5-3 .5 2.2.5-.4.5-1 .5 1 .5-1 .5-.8.5-2.3.5-.8.5 3.2.5.7.5-2.4.5.8.5 2.3.5-1.1.5-3.7.5 3.1.5-1.4.5.9.5-.7.5-1.6.5 3.9.5-6.4.5 1.9.5 2.8.5-1.9.5.4.5-1.9.5 2.3.5-2.3.5-.8.5-.2.5 3.1.5-1.8.5.9.5-.6.5-.9.5-1.6.5 1.9.5.4.5-2.7.5.6.5-.5.5-1.8.5 3.2.5.2.5-1.1.5.3.5-.2.5 1.3.5-.7.5 0 .5-2.5.5 1.6.5-.9.5-1.6.5 2 .5-3.1.5.6.5 2.9.5-.7.5-3.7.5 3 .5-.5.5-.7.5-1.4.5 1.1.5 1.3.5 1.4.5-1.5.5-2.6.5 2.1.5 1.9.5-3.5.5-1.6.5 3.2.5-2.6.5.8.5.3.5-.9.5.2.5.8.5 0 .5-.8.5.6.5-.8.5-1.5.5 3.4.5-2.2.5.1.5.7.5-1.8.5-2 .5-.6.5 1.8.5 2 .5-1.1.5.2.5-1.7.5-1.5.5 1.6.5-2.4.5 1.3.5 1.9.5-1.9.5-1.2.5 2.7.5-.2.5-.5.5-3 .5 3.6.5-1.5.5 1 .5.8.5-1 .5 1.1.5-.9.5-1.7.5-.3.5 3.6.5.4.5-3.7.5.8.5.2.5.4.5-3.4.5 3.4.5-1 .5 0 .5-.9.5 2.6.5-2.6.5 3.1.5-.4.5-3.2.5 2.2.5 0 .5-2 .5-2.8.5 2.7.5.9.5 2.8.5-1.5.5-.6.5-1 .5.9.5-2.7.5-.1.5-.8.5.2.5 1.4.5 3.1.5-5.2.5 2.5.5-.5.5-2.9.5 2.4.5-3 .5 4.7.5-.4.5-2.6.5.5.5-.3.5-.3.5 2 .5-3 .5 1.1.5-1.4.5 3.4.5-1.7.5 1.3.5-3 .5-2.8.5 4.6.5-.5.5.6.5-1.5.5.9.5.2.5-2.3.5-2.6.5 4.1.5-.9.5-1.1.5-1.4.5 4.3.5-2.5.5-.1.5-1.7.5.1.5 1.3.5-2.4.5 3.6.5-2.6.5 2.5.5-1.8.5-1.5.5 4.1.5-3.2.5-.7.5 2.1.5-.9.5-.6.5-3.1.5.4.5 3.9.5-2.2.5 1.5.5-2.1.5 1.7.5-3.2.5 2.4.5 2.5.5-1.9.5-1 .5.4.5.1.5 2.9.5-2.7.5.4.5-1.4.5 1.5.5-.1.5-1.8.5-1.5.5 2.1.5 2.1.5-2.7.5.4.5 2.3.5-2 .5-2.8.5 5.5.5-2.4.5-1 .5.4.5 1.2.5-1.6.5 3.5.5-2 .5.3.5-.5.5-1.3.5 1.1.5 2.5.5-3.4.5.5.5.8.5-1.6.5 2.5.5-3.1.5 2.5.5-2 .5 1.1.5.1.5 4.6.5-4.8.5 2.5.5-.8.5-1.7.5 2.6.5-1.3.5-2.2.5-.1.5 3 .5.1.5-2.5.5 2.6.5-.5.5 1.4.5-1.7.5 1.3.5-.2.5 1.2.5.9.5 1.6.5-5.2.5 2.8.5-1.6.5-.3.5-.8.5 1.9.5 1 .5-.3.5.9.5.1.5.5.5-.4.5.5.5 0 .5-.8.5-1.1.5-.1.5 3 .5-1.9.5 2.7.5-1.6.5-.2.5.9.5.8.5 2.5.5-2.9.5.1.5 1.5.5 1.1.5-1.4.5-.4.5 1.8.5-.1.5.4.5-2.4.5 3.2.5-.6.5 1.6.5-1.6.5 1.1.5-.7.5 3.6.5-4.9.5.9.5.5.5-3 .5 3.7.5 3.4.5-1.1.5.7.5-1.5.5-.5.5.9.5-1.4.5-.4.5 4.3.5-1.4.5 2.3.5-3.7.5 2.3.5-2 .5 4.5.5-1.8.5-1.4.5.3.5 3.5.5-3.1.5 1.4.5.6.5-1.2.5 3.8.5.7.5-3.1.5 1.2.5 1 .5.1.5.4.5-2.3.5 1.9.5-1.8.5 2 .5 1.1.5.7.5-3.8.5 3.5.5-2.1.5 2.9.5.2.5-.1.5 1.4.5-.7.5-1.2.5.8.5 1.3.5-2.5.5 2.2.5 1.1.5-1.7.5 3.4.5.1.5-.6.5-.6.5 0 .5 1.5.5.1.5.9.5-2 .5 2.1.5.9.5-2.6.5 1.8.5.1.5-.1.5 1.8.5-1.3.5 1.4.5-.2.5.7.5-1.1.5-.4.5 2 .5-.6.5 1.2.5-1.5.5.1.5 1.8.5-.5.5-.2.5 1.2.5-.9.5.7.5.6.5-2 .5 2.9.5-1.1.5-.2.5.5.5-.6.5-1.4.5 2.7.5-.5.5 2.8.5 0 .5-2.4.5 1.2.5 1.2.5-.8.5-.5.5-.1.5-.8.5 2.6.5-.2.5-.4.5-.1.5 2.3.5-1.5.5 1.3.5-3.2.5.6.5.2.5 2.1.5-1.3.5 2.2.5-1.4.5 1.2.5-1.5.5 1.6.5-1.4.5.4.5-1 .5-.9.5.9.5 1.9.5.1.5-2.3.5.6.5-.2.5 2.6.5-1.7.5-.1.5 1.9.5-1.2.5 1.5.5.3.5-1.5.5-1.3.5 1.8.5 3.1.5-3.9.5 3 .5-2.3.5-.4.5 3.1.5-2.2.5-2.1.5 1.1.5.6.5.4.5 2.4.5-.3.5-1.1.5.6.5-1.1.5-1.4.5 2.1.5-.2.5 1.5.5-.7.5 1.1.5-1.9.5.1.5 0 .5-.5.5 2.4.5-1 .5-1.6.5.7.5 3.1.5.6.5-1.1.5-1.5.5 1.8.5-1.9.5-1.3.5 1.5.5-1.3.5 1.1.5 3 .5-2 .5-.4.5.8.5-1.5.5.9.5-1.5.5-.4.5 1.1.5-.8.5-1.2.5 2.1.5-.6.5.2.5 2.8.5-.9.5.4.5-1.4.5-.9.5.2.5 3.2.5-5.4.5 2.7.5.9.5-2 .5 3.1.5-2.2.5 1 .5 1.9.5-.8.5-1.2.5.1.5 1.9.5.6.5-1.6.5-2.8.5 1.7.5 1.8.5-2 .5.5.5-.7.5.6.5 1.7.5-.3.5-2 .5 2.8.5-3.1.5 2.8.5-.1.5-2.5.5-.6.5 3.4.5-.4.5-.4.5-1.1.5 1.3.5-2.1.5 2.7.5 1.8.5-2.9.5 1.5.5-2.2.5 1.4.5-.5.5.8.5-.8.5-1.6.5 3.2.5-2.5.5 2.7.5-2.6.5 2.3.5-.4.5-1 .5 1.8.5-.8.5 1.6.5-1 .5.7.5-3.6.5 3.9.5-1.8.5.1.5-1.2.5.8.5.5.5.5.5 0 .5-.4.5.7.5.8.5-1.4.5-.1.5 2 .5-.7.5-1.5.5 1.9.5-.2.5 2 .5-1.3.5-.1.5-.9.5-.9.5 1 .5-.1.5 0 .5 1.7.5-2.3.5 3 .5-2.9.5-.4.5 2.7.5-1.3.5-.4.5 1.3.5-1 .5.8.5-.5.5.6.5-1 .5 1.7.5-1.2.5.6.5-2.4.5 2.9.5-1.1.5.5.5-.2.5-.2.5-.4.5 2.1.5-1.5.5.3.5-.1.5-.4.5 2 .5-1.9.5 1.1.5-1.2.5-.7.5 0 .5 2.1.5-2.6.5.3.5 1.1.5 1.3.5-1.4.5 1.9.5-1.3.5-.1.5 1.9.5-1.2.5-1 .5-.1.5 1.4.5.5.5-1.8.5.1.5 1.3.5-2 .5 1.2.5-.3.2-.5.2-.8.1-1.5.1 2.3.2-1.2.2 1.5.2-.8.2 0 .1 2 .1-.8.2-1.8.2 1.9.2-1.4.2-1 .1 1.5.1-.1.2.9.2 0 .2.1.2-2 .1.7.1-1.8.2 2.1.2-.6.2-2.1.2 2.8.1-.2.1-2.1.2-.8.2 1.9.2.6.2-.4.1 1.5.1.9.2-2.4.2-.3.2-.4.2 2.6.1-2.2.1.7.2.1.2-.9.2-1.9.2.3.1-2 .1-.9.2-2.4.2-.2.2-.4.2.6.1-2 .1.6.2-.8.2-2.8.2 2.8.2 1.4.1-3.3.1 2.6.2-2.5.2.7.2.3.2 1.1.1-1 .1.1.2.9.2 0 .2-1.2.2.7.1.9.1-.9.2-1.6.2 1.1.2-1.6.2 3.9.1-2.1.1-2 .2 1.3.2.9.2.3.2-.9.1-.3.1-.6.2 1.9.2.4.2-1 .2-.1.1-.1.1-.7.2.2.2 1 .2-.4.2.2.1-1.2.1 1.6.2-1.9.2 2.4.2-1.6.2.5.1-1 .1.6.2-.7.2 1 .2-2.1.2 3.1.1-1 .1.5.2-.9.2.7.2-1.3.2-.2.1.5.1-1.3.2 2 .2-1.6.2-.2.2-1.1.1 1.2.1.3.2-1.9.2 1 .2-1.3.2-.6.1-2.3.1.6.2 1.6.2-.7.2.6.2-3.6.1 1.2.1-2.8.2 0 .2-.9.2-.5.2.4.1.8.1-1.7.2-2.4.2 1.8.2-2 .2-3 .1 2.6.1-2 .2-.3.2-2.6.2-1.2.2-.3.1-2.8.1 1.1.2-.6.2-2 .2-2.2.2-2.1.1-.9.1 1.1.2-3.3.2-2.1.2-3.4.2-1 .1-.8.1-4.5.2 1.4.2-3.8.2-4.1.2-5.1.1 2.8.1-3.7.2-5.2.2-5.2.2-1.9.2-7.9.1-.7.1-3.1.2-6.8.2-5.8.2-6.9.2-5.9.1-4.6.1-3.5.2-11.6.2-7.7.2-12.3.2-11.6.1-8.5.1-6.3.2-17.2.2-15.3.2-20.8.2-23 .1-11.7.1-12.7.2-30.5.2-30.3.2-17.6.2-2.9.1-1.6.1-1.6.2-3.9.2-4.5.2-4.6.2-41.2.1-23.1.1-23.8.2-48.7.2-49.8.2-48.4.2-42.7.1-16.2.1-13.5.2-18.6.2 1.3.2 18.4.2 28.5.1 19.9.1 21.7.2 49.4.2 50 .2 49.5.2 47.4.1 21.1.1 18.6.2 5 .2 4.1.2 4 .2 3.3.1 1.5.1 1.5.2 17.5.2 30.6.2 28.9.2 26.6.1 10.1.1 12.1.2 18.7.2 18.1.2 14.3.2 14.8.1 4.9.1 7.1.2 12.6.2 8.9.2 8.9.2 10.2.1 3.8.1 1.7.2 8.4.2 6.6.2 4.3.2 5.5.1 3.1.1 4.1.2 2.9.2 4.2.2 1.1.2 6.7.1 2.3.1-.5.2 5 .2 2.5.2 3.1.2 1.6.1 1.3.1 3.7.2 1.5.2-.8.2 1.1.2 4 .1.9.1.5.2 1.3.2 3.2.2-3.3.2 3.5.1 2.4.1.5.2 1.2.2-.2.2 3.7.2.2.1.4.1.1.2-1.1.2 1.8.2.1.2 2.1.1-1.2.1 1.9.2 0 .2 1.4.2-1.7.2 1.8.1 1.6.1.9.2-1.5.2 2.6.2 2.5.2-2.3.1-.4.1-.9.2.7.2 1.6.2.7.2 1.3.1 1.5.1-2.6.2 1.6.2 1.7.2-.6.2 0 .1.1.1-1.4.2.2.2 2.6.2.9.2 0 .1.1.1.7.2.1.2-1.7.2.9.2-2.4.1 3.6.1-.8.2.1.2 1.1.2-2.2.2 1.7.1-1 .1 2.6.2-2.8.2.9.2 1.2.2 1.4.1-1.7.1-1.3.2.8.2 1.2.2.4.2-1.8.1 2.6.1-2.1.2 0 .2.9.2-1 .2.1.1 1.1.1-2.2.2 2.1.2-.7.2 1.6.2-1.2.1 1.9.1-.5.2.2.2-.2.2-1.1.2 1.3.1.3.1-.5.2.3.2.1.2-.6.2-.2.1.6.1.1.2.5.2.7.2-1.6.2-.1.1 2.5.1-2 .2 0 .2-.8.2 1.3.2-2.6.1 1.5.1.5.2-.4.2.9.2 1 .2-.8.1-.7.1-2.1.2 1.7.2 2.1.2.3.2-1 .1.3.1 0 .2-2.4.2 1.1.2-.1.2 1.2.1.5.1-1 .2 1.8.2-2 .2-.4.2 0 .1-1.5.1 2.8.2-1.2.2 1.2.2-.2.2.1.1-2.2.1 1.3.2.1.2.7.2-1.4.2 0 .1 2.3.1-2.7.2 1.8.2-1.4.2 2 .2-1.3.1.1.1-.5.2-1 .2 3.8.5-1.8.5 1.7.5-.7.5-1.6.5.6.5 1.2.5-.4.5-.7.5 1.2.5.6.5.5.5.6.5-1.5.5-.4.5.1.5-2.1.5 4.1.5.4.5-5.4.5 4.1.5-.6.5.4.5-1.5.5 1.8.5-1.9.5 2.9.5.4.5.4.5-2.9.5.6.5.7.5 2.1.5-1.5.5 1.9.5-1.3.5.6.5-2.1.5-.1.5.9.5-.3.5-.2.5 2.1.5 1.1.5-2.3.5.8.5 1.5.5-1.2.5.8.5 0 .5.6.5 0 .5-.8.5-1.2.5 2.2.5-2.1.5 1.3.5.4.5 2.5.5-2.1.5-.2.5-.7.5.3.5-1.3.5-.7.5 2.2.5.4.5-.6.5.3.5 0 .5 2.2.5-2.4.5 2.6.5-2.5.5.5.5.3.5.7.5.9.5-.4.5.2.5-.7.5-.3.5 0 .5-1 .5 3.4.5-2.2.5-.6.5-.4.5.9.5-.7.5 2.2.5.2.5-1.8.5 2 .5-.4.5-.5.5 0 .5-.5.5 1.3.5-2.6.5 2.5.5-.8.5-2.2.5 2 .5.5.5.5.5-.5.5-1 .5 1.3.5-.1.5-3.4.5 2.2.5.7.5-.2.5.8.5 1.9.5-2 .5-.5.5.4.5-.8.5.3.5-.1.5 1.3.5-1.1.5.7.5.2.5-1.3.5 1.6.5 1 .5-1.8.5.5.5.8.5.2.5-1 .5-.4.5.7.5-1.6.5.3.5.3.5.9.5-1.5.5 1.4.5-1.9.5.7.5.1.5 1.4.5 1.2.5-3.3.5 1.8.5-.3.5.5.5-1 .5 1.4.5-2.8.5 3 .5.4.5-2.2.5 1 .5-1.3.5.8.5.1.5-2.4.5 3.5.5-.2.5 1.2.5-1.9.5.2.5 1.1.5-3 .5 2.4.5-.9.5 2.2.5-2 .5 1.2.5-1.5.5-2.7.5 4.6.5-.4.5 0 .5-1.3.5 1.5.5-2.1.5.2.5 1.7.5-.2.5 1.1.5-2.5.5 1.1.5.1.5.6.5-2.1.5 1.1.5-.5.5 1 .5 2.3.5-2.1.5.8.5-.9.5-1 .5.7.5-.3.5-.1.5.9.5-.2.5-1.4.5-1.2.5 1.5.5.9.5 1 .5-1.2.5.4.5.5.5.1.5-1.8.5.5.5.8.5-1.1.5-.4.5.6.5.3.5 1.1.5-1.5.5-.4.5.5.5 1.2.5-2.5.5 2 .5.7.5-1.4.5-.2.5-.5.5.2.5.8.5 1.3.5-.6.5-1 .5-1 .5.3.5 2.2.5-2.4.5 2.3.5-.8.5.8.5-.6.5-.9.5.5.5-.4.5-.8.5 1 .5.1.5-.9.5.8.5.9.5-.7.5-1 .5 2.5.5-2.1.5 1.7.5-.7.5.7.5-.8.5-1.3.5 2.2.5-1.8.5-.7.5 0 .5 1.8.5-.9.5 0 .5-.9.5 3.2.5-1.1.5.3.5-.8.5.9.5-1.5.5 1.7.5-1.3.5-.4.5 1.2.5-.3.5-.1.5-1.8.5.6.5-.3.5.4.5.9.5-1.1.5 1 .5-1 .5.7.5.8.5.6.5.7.5-1.6.5.1.5 1.1.5-2.9.5.5.5 1.9.5.1.5.8.5-.1.5-.1.5-.7.5-.8.5 1.1.5-2.8.5 1.5.5-1.2.5 1.2.5-2.5.5 3.1.5-.5.5 1.1.5-2.6.5 1.2.5 1.2.5-2.5.5 1.4.5-1.8.5 3.8.5-2.7.5.9.5.3.5-2 .5 1.1.5-1 .5 2.1.5.8.5-3.5.5 2.1.5-1.3.5 1.7.5.2.5.3.5-.2.5-2.2.5.3.5 1.2.5.7.5-1.4.5.4.5.8.5-.3.5.9.5-2.1.5 1.6.5-.4.5 0 .5-.3.5-.3.5 1.8.5-1.9.5 1 .5-.3.5-.7.5.9.5 0 .5 1.2.5-2.2.5 1.3.5-.1.5.4.5-1.5.5.9.5-1.4.5 1.4.5.8.5.3.5-3.4.5 1.7.5.7.5-2 .5 4 .5-2 .5-1.9.5 4.5.5-2.5.5-2.2.5.9.5.2.5.6.5 1.6.5-2.1.5.1.5.5.5.5.5-.2.5-1.5.5 2 .5-1.6.5.1.5 3 .5-3.9.5 1.6.5-1 .5 1.7.5-.3.5-1.2.5.4.5-.1.5 1 .5-2.1.5 1.9.5 0 .5-.3.5-.4.5 1.1.5-.1.5-.3.5-.2.5.6.5 0 .5-1.7.5-.1.5.8.5-.3.5.1.5.4.5 1.4.5-1.2.5.2.5.5.5-1.3.5.3.5-1.4.5.9.5 1.3.5-.9.5.1.5 1.7.5.1.5-1.4.5-.9.5-.4.5 1.2.5-1 .5.9.5-.4.5.3.5-.2.5 1.5.5-1.3.5 1.7.5-1.9.5 1.8.5-2.3.5 1.1.5-.5.5-.7.5 2.8.5-1.7.5-1 .5-.5.5 1.9.5.1.5-.5.5-.7.5.1.5-.7.5.6.5.2.5.9.5.2.5-1.8.5-.8.5 3.5.5-1.6.5-.8.5.9.5-.9.5.3.5-1.8.5 1.8.5 1.8.5-.7.5-1 .5.3.5.6.5.3.5-1.7.5.5.5.4.5.7.5-1.1.5.7.5.3.5-.7.5.5.5.6.5-2.2.5 1.3.5.1.5 1.7.5-3.7.5 1.1.5-.7.5.4.5 1.2.5-1.2.5.8.5.1.5-.2.5 1 .5-.4.5-1.1.5.4.5.6.5-.8.5 1 .5-.5.5-.4.5.2.5-.7.5 1.2.5-.8.5-.1.5.4.5 2.2.5-.9.5-1.6.5-.3.5 1.5.5-1.5.5 1.9.5-1.6.5 1.5.5.9.5-2.1.5.9.5.1.5 1.4.5.1.5-2.9.5 1.9.5-.2.5-.7.5.2.5-1.4.5.2.5.6.5-1 .5 1.4.5-.1.5 1.2.5-2.3.5 2.1.5-.8.5-.1.5-.3.5.1.5-.7.5-.2.5 2 .5-3.2.5 2.9.5-.5.5-.2.5.8.5-1 .5.2.5.4.5-.7.5 1 .5-.1.5-.9.5.5.5-1.2.5 1 .5-.1.5-1.4.5 1.2.5.5.5-1.4.5-.3.5 1.1.5-.5.5-.3.5.9.5-.9.5.9.5.8.5-.7.5-.1.5-1.1.5 2.1.5-1.4.5 1.7.5-2 .5.5.5-1.2.5 1.4.5-1.5.5 1.3.5 1.4.5-.9.5-1.8.5 2 .5-1.9.5.7.5-.2.5.1.5.3.5-2.1.5 3 .5-1 .5-.8.5 1.1.5 1 .5-2.2.5 1.5.5-.7.5.2.5-.6.5.5.5.5.5-1.9.5.6.5.2.5 0 .5-1 .5.9.5-.5.5 1.3.5-.3.5.1.5.2.5-.8.5-.4.5 1.4.5-.9.5-.2.5 1.9.5-2.7.5 2 .5.5.5-1.5.5-.3.5.9.5-1 .5-1.1.5 2.7.5.4.5-2.5.5 1.7.5-.4.5-.2.5.7.5-1 .5.1.5.3.5.2.5-2.4.5 3.2.5-.6.5.5.5-1.1.5-.8.5 1.4.5 0 .5.4.5-.3.5-1.3.5-.2.5.8.5.5.5-.4.5-.4.5.6.5-1.7.5 1.5.5-1.8.5 3.3.5-3 .5 3.2.5-.8.5.1.5-.1.5-1.1.5.4.5 1.4.5-2.3.5.7.5 1 .5-1.3.5 2 .5-2.4.5.3.5.8.5-.7.5.4.5.2.5-.1.5.5.5 0 .5 0 .5-.1.5-.1.5.3.5 0 .5.4.5.8.5-2 .5 2.1.5-.7.5.1.5-1.3.5.7.5.1.5-.5.5.9.5-1.6.5.3.5 1.5.5-.4.5-1.7.5 1.8.5-.3.5.7.5-.8.5.1.5-.9.5.8.5-.2.5.8.5-2.2.5 1.7.5 1 .5-3.2.5 2.9.5-.2.5-.2.5.2.5-.9.5 1.4.5-.5.5-1.7.5 2.1.5-1.5.5.1.5 1.2.5-.7.5.6.5.1.5-.3.5.4.5-1.6.5 2.8.5-.7.5-1.2.5.4.5 1.4.5-2 .5-.6.5 3.2.5-.6.5-.8.5 1.1.5-.9.5.2.5-.1.5.2.5-1.4.5.8.5.3.5-1.1.5-.2.5 1 .5 1.5.5-1.5.5 1.1.5.1.5.1.5-.5.5-2 .5-.3.5.9.5.7.5.1.5-.2.5.1.5.8.5-1.5.5 1.5.5 0 .5-1.9.5 1.6.5-.1.5.5.5-.1.5-2.2.5 3.5.5-1.5.5.7.5 0 .5-1.6.5.8.5-.1.5 2 .5-2.9.5 2.4.5-.5.5-.8.5-.8.5.7.5.8.5-1.4.5 1 .5.4.5 0 .5-.8.5.8.5.1.5-2.3.5.8.5-.2.5.5.5 1.3.5-.2.5-.1.5-.7.5 1.3.5-2.2.5.2.5 1.7.5-.8.5 1.2.5-.2.5.1.5-1.5.5.3.5-1 .5 1.4.5 0 .5-.4.5.2.5.4.5.6.5-1.2.5 0 .5.4.5.6.5 1.1.5-.8.5-2.7.5.5.5.8.5-1.4.5 2.7.5-1.4.5-.3.5.9.5.5.5-.6.5.3.5.8.5-1.6.5.8.5-1.5.5.5.5 1.9.5-1.5.5-.2.5 1.6.5-1.1.5 1.2.5.8.5.3.5-2 .5.4.5-.7.5 1.9.5-1 .5 1.9.5-2.7.5.4.5-2.4.5 1.8.5.1.5.9.5.4.5-1.4.5.5.5.6.5-.5.5.6.5.8.5-1.8.5.7.5.8.5-.9.5 1.2.5-1.5.5 1.2.5-.7.5.3.5-1.1.5 1.5.5-1.8.5 1.8.5-.9.5.2.5.9.5-2.2.5 1.8.5-.3.5-.7.5 1.1.5-.7.5 1.5.5-1.9.5 1.7.5-.1.5-.9.5-.8.5.5.5-1 .5.5.5.1.5.8.5-1.4.5 1.5.5-.8.5 1.2.5-.3.5-1 .5.7.5 0 .5-.6.5.3.5.1.5-.7.5-.2.5 1.2.5-1.6.5 1.8.5.3.5-1 .5.7.5-1 .5 1.2.5 1.9.5-2.1.5-.4.5 0 .5-1 .5.5.5.4.5-.3.5.6.5.9.5-2.1.5.6.5.6.5-1 .5.2.5 1.1.5.1.5-.2.5-1 .5 1.2.5.2.5-1 .5.4.5-.2.5 0 .5-.2.5.7.5-.9.5 2 .5-.8.5-.7.5 1.9.5-1.6.5-1.9.5 2.7.5-.3.5-.6.5.1.5-.5.5-.5.5.1.5 2.8.5-2.4.5.6.5 1.3.5-1.9.5.4.5-.2.5-.8.5 1.5.5.1.5-.6.5 0 .5.7.5 0 .5 1 .5-.9.5 0 .5-1.1.5-.5.5 2 .5-1.6.5 1.2.5-.4.5-.7.5.8.5 1.1.5-.2.5-1.4.5.1.5-1.3.5.6.5.6.5.4.5.3.5-.6.5 1.2.5-1.6.5 1.3.5-1.3.5.5.5.4.5.5.5-1.1.5.2.5.1.5.4.5.9.5-.5.5-.8.5 0 .5 1.2.5.1.5-.2.5-.8.5-.7.5.2.5.6.5-.8.5.6.5 1.8.5-1.4.5.4.5-1.3.5 1.8.5-1.3.5.3.5.1.5-.1.5-.4.5.8.5 1.1.5-1.7.5.8.5-1.4.5 1.1.5-.7.5 1.5.5-1.3.5.7.5-.3.5-1 .5.9.5 0 .5.6.5-.7.5-1.2.5.6.5.4.5.9.5-.8.5.9.5-.8.5.5.5.4.5-.6.5-1.3.5 2.1.5-1 .5.7.5-2.5.5 2 .5-.1.5-.3.5.3.5-.6.5 0 .5 1 .5-.4.5.7.5-.3.5-.8.5.6.5-.3.5.6.5.9.5-1.2.5-.4.5 1.9.5-1.7.5-.3.5.3.5-1.3.5 2.6.5-.3.5 0 .5-.3.5-.5.5-.3.5-.1.5 1 .5.2.5-.1.5-1.3.5 2.1.5-1.9.5.6.5-.1.5-.3.5-1.2.5.7.5.5.5 1.1.5-1 .5.6.5-1.1.5.6.5 1.1.5.4.5-1 .5.2.5-.3.5-.2.5.2.5.6.5-1.2.5-.3.5 1.2.5-.8.5.7.5-1 .5.9.5-.4.5-.1.5.9.5-.9.5-1.3.5.8.5.7.5 1.4.5-1.4.5-.6.5.5.5 1.1.5-.5.5.1.5.1.5.7.5-2 .5 1.8.5-.4.5-1.1.5 1.2.5.4.5-1.1.5.9.5-2.2.5.5.5 1.4.5-.3.5.4.5-.1.5.3.5-1.6.5 0 .5 1.8.5-.6.5-.1.5-.2.5 1.3.5-1.6.5.7.5.8.5-1.4.5 0 .5.2.5-1.1.5 2.1.5-.1.5.6.5-1.2.5.3.5.2.5.6.5-.8.5.1.5-.8.5.7.5-.2.5.7.5-.2.5-1.3.5.1.5.9.5-.5.5.5.5.6.5-1.6.5 1.1.5-.9.5.6.5-.1.5-.6.5-.8.5 1.3.5-.6.5.9.5 0 .5.6.5-.3.5-1.6.5.1.5.6.5.5.5.2.5-.6.5.7.5-.8.5 1.3.5-1 .5 0 .5 0 .5.3.5 1 .5-.8.5.5.5-1.1.5.9.5.1.5.2.5-1.3.5 0 .5.6.5.4.5-.9.5.7.5.9.5-2.3.5.4.5.7.5.5.5-.4.5.4.5.6.5-1.2.5-.2.5 1.4.5-2 .5 1.7.5.3.5-.7.5-.5.5.5.5-.5.5 1.6.5-.8.5-.4.5.2.5.1.5.3.5-.4.5-.7.5.3.5-.5.5-.2.5 1.1.5-.5.5.2.5.5.5.2.5-.5.5-.4.5.7.5-.9.5 1.5.5-1.2.5 1 .5-1.4.5 1.2.5-.3.5-.3.5.7.5-.3.5-.3.5-.1.5.4.5-.2.5-.6.5 0 .5.4.5-.7.5-.4.5 1.7.5-.9.5 1.8.5-1.3.5.4.5-.1.5-.4.5-.3.5-.7.5.3.5-.2.5 0 .5-.1.5 1 .5-1.3.5 2.2.5-1.5.5.8.5-.1.5.1.5-.4.5 0 .5.1.5.5.5-.1.5-.3.5-1 .5.3.5.6.5.6.5.2.5-1.3.5.6.5-.6.5-.2.5.5.5.3.5-.2.5-1.6.5 2.1.5-2 .5 1.9.5.1.5 1 .5-2.8.5.5.5.4.5.1.5-.6.5.9.5-1 .5.2.5-.2.2.4.25-.2.05-1.2.2 1.4.25-1.2.05.1.2 0 .25.2.05.5.2 0 .25-1.4.05.9.2.6.25-.2.05-.5.2-.6.25.7.05-.5.2-.8.25-.8.05 1.8.2.3.25.3.05-.4.2-.7.25-.5.05.2.2.1.25-1.3.05.7.2-.5.25.4.05-.1.2-1.8.25 0 .05.9.2 0 .25-1.2.05.5.2-.4.25-.7.05-.2.2.2.25-.1.05-1.2.2.2.25-.9.05-.7.2-.6.25-1.2.05.4.2-.7.25-1.8.05-1.1.2-.2.25-1.9.05-.6.2-.8.25-3.7.05-.3.2-2.3.25-3 .05-2.3.2-3 .25-6.9.05-.6.2-5.5.25-9.1.05-.8.2-8.3.25-11.9.05-1.8.2-9.7.25-9.6.05-1.5.2-3.3.25-1.5.05 1.6.2 5 .25 8.2.05 2.3.2 8.7.25 7.4.05 1.7.2 6.9.25 5.3.05 1.7.2 1.6.25 2.2.05.5.2-1.7.25.5.05-1.3.2-2.9.25-3.4.05-.7.2-1.5.25-3 .05 1.3.2-.1.25 4.6.05.6.2 5 .25 7.3.05.8.2 4.9.25 6.7.05 1.6.2 2.6.25 4.1.05.5.2 2.2.25 3.1.05 1.1.2 1.2.25 2.4.05.3.2 1.5.25 1.8.05-.7.2.2.25 1.8.05.4.2 1.4.25-.3.05-.3.2.4.25 1.4.05-.4.2 1.1.25.6.05-.6.2.6.25 0 .05.4.2-.9.25.6.05 1.5.2-1.6.25.5.05.9.2-.7.25.5.05-.2.2 1.5.25-.7.05 1 .2-.7.25-.9.05 1 .2-1 .25 1.7.05-1.7.2 1.9.25-.2.05.5.2-.5.25 0 .05-.3.2-.1.25 0 .05.3.2.1.25 1.5.05-1.1.2-.6.25 1.3.05-.7.5-.3.5.5.5-.3.5.7.5-.4.5.9.5-1.2.5.8.5-.8.5 1.8.5-1.6.5 1.8.5-1.2.5.8.5-1 .5.3.5 1 .5-1.5.5 1.1.5-1.2.5 2.1.5-.6.5-1.6.5.9.5.8.5.7.5-1.3.5-1 .5 1.7.5-1.1.5.5.5-.3.5-.5.5-.4.5 2.1.5-.8.5 0 .5-.4.5.6.5-.8.5-.1.5-.1.5 0 .5 1 .5-1 .5 1.8.5-1 .5-.2.5.1.5 1 .5-2.1.5 1.3.5.9.5-.3.5-.4.5-.4.5 1.5.5-1.5.5 1.3.5-1.6.5-.3.5.8.5-.2.5-1.1.5 1.3.5 1.4.5-1.4.5.3.5-.2.5 0 .5.1.5 0 .5-.1.5.2.5.1.5-.2.5-.9.5.4.5-.2.5.5.5 1 .5-.7.5-.4.5 1.3.5-.6.5-.8.5.6.5.3.5 0 .5-.8.5.4.5-.4.5-.4.5 1 .5-1.3.5 1 .5.6.5-.2.5-.3.5.2.5-.1.5.6.5-.4.5.1.5-.7.5.3.5-.2.5.8.5-.1.5-.4.5.4.5-.4.5-.1.5.4.5-.2.5 1.1.5-1.8.5 1.1.5-.9.5.8.5-.9.5-.3.5 1.6.5-.8.5.9.5-1.2.5 0 .5 1 .5-.9.5.3.5-.5.5.4.5-1 .5.9.5.1.5.6.5 0 .5-.5.5.1.5-.1.5 1.1.5-1.4.5.7.5-.3.5-.7.5.9.5.3.5-.4.5-.7.5.9.5 0 .5-.5.5.6.5-1.2.5.2.5.4.5.2.5.4.5.1.5-.9.5.9.5.3.5-.4.5-.4.5-.1.5-.3.5-.5.5.6.5-.4.5.8.5 0 .5.1.5 0 .5.1.5-.5.5.1.5.4.5.4.5-1.5.5.3.5.4.5-.3.5.2.5.3.5-.4.5.7.5 0 .5 0 .5-.1.5.1.5-1.7.5 1.8.5-.8.5 1.4.5-1.3.5.5.5-.9.5.2.5.6.5.1.5.6.5-.4.5.2.5.4.5-1.7.5 1.4.5-1 .5.5.5-.2.5.5.5 0 .5-.1.5-.5.5-.7.5.9.5 0 .5 0 .5.3.5.6.5-.4.5-.3.5-.4.5-.3.5 1.2.5-.3.5-.3.5-.8.5.6.5.4.5 0 .5-.4.5.3.5-.2.5-.1.5.8.5-.3.5-.2.5-.3.5.8.5-1.2.5.7.5-.6.5-.4.5.7.5-.7.5.8.5-.5.5.6.5-.2.5-.5.5.5.5-.2.5 1.1.5-.1.5-.2.5 0 .5.7.5-1 .5 0 .5.6.5-.4.5-.6.5 1.1.5-.6.5.5.5.1.5-.9.5.2.5.2.5-.8.5.2.5.5.5-.1.5-.4.5.4.5.2.5-.5.5 0 .5.2.5-.4.5.1.5.2.5-.6.5.6.5.3.5-.5.5.9.5-.3.5.4.5-.6.5.3.5-.3.5-.4.5.7.5-.6.5.6.5-.7.5.5.5-.1.5.6.5-.6.5.6.5-.3.5.4.5-.8.5.6.5 0 .5-.1.5-.2.5.5.5-1.1.5.9.5-.6.5.5.5.1.5-.2.5-.2.5-.3.5-.2.5.3.5.5.5-.8.5 1.7.5-1.1.5-.3.5.7.5.1.5-.3.5-.5.5.3.5.5.5-.2.5-1.1.5 1.2.5.3.5-1 .5-.4.5.4.5.4.5-.1.5 0 .5-1.2.5 1 .5 0 .5.2.5.5.5-.8.5.8.5.1.5-.1.5-.6.5.7.5-.7.5.1.5-.5.5.2.5 0 .5.9.5-.4.5 0 .5-.2.5-.1.5-.2.5.3.5.7.5-.7.5.9.5-.5.5-.4.5.7.5-.6.5.5.5-.6.5.7.5-.4.5 0 .5.3.5-.6.5-.6.5.5.5.7.5.2.5-1.1.5.7.5 0 .5-.7.5-.2.5 1.4.5-.5.5-.3.5.3.5-.8.5.8.5-.2.5-.1.5.6.5-.4.5 0 .5-.2.5-.2.5.3.5.6.5-1.3.5.3.5.2.5.5.5-.5.5.5.5-1 .5.4.5.6.5-1.1.5 1 .5.4.5-.2.5 0 .5-.6.5.1.5.6.5-.3.5.6.5-.5.5-.1.5 0 .5.5.5-.2.5-.5.5.4.5-.5.5.6.5-.4.5.6.5.1.5-.3.5-.9.5.4.5.3.5 0 .5.1.5.2.5-.6.5-.2.5-.1.5 1 .5-.1.5-.5.5.1.5.6.5-.7.5.4.5.1.5-.2.5.2.5.1.5-.5.5-.5.5.6.5-.6.5 0 .5.9.5-.7.5.2.5.3.5-.4.5.6.5.5.5-1.1.5.3.5-.9.5.6.5 1 .5-.7.5-.1.5.3.5-.2.5.6.5-.6.5-.1.5.1.5-.9.5 1.2.5 0 .5-.9.5-.3.5.8.5.3.5.5.5-.9.5 0 .5.3.5.5.5-.8.5.2.5-.1.5.6.5.2.5.2.5-.1.5-.3.5-.5.5.4.5.3.5-.2.5-.6.5.2.5 0 .5.5.5-.3.5-.2.5.4.5-.1.5-.4.5.7.5-.4.5-.1.5-.3.5.4.5.2.5-1 .5.5.5.2.5.3.5-.7.5 1.2.5-.8.5-.2.5.2.5.4.5-.3.5-.2.5.3.5 0 .5 0 .5-.4.5.5.5 1.3.5-1.5.5.1.5-.8.5.8.5.1.5-.3.5.1.5-.3.5.7.5-.3.5-.4.5.3.5.2.5 0 .5.8.5-.9.5 0 .5-.3.5.5.5-.5.5.5.5-.4.5-.1.5 0 .5 1 .5-1.1.5.8.5-.3.5-.5.5.4.5-.2.5.4.5.3.5.3.5-.9.5 0 .5 0 .5.2.5-.3.5.9.5-.6.5-.1.5-.9.5 1.1.5-.4.5 1.2.5-.6.5-.4.5.3.5.5.5-.5.5.1.5-.9.5.4.5-.2.5.6.5-.6.5-.1.5.4.5.1.5.3.5.3.5-.1.5-.4.5.1.5-.7.5 1 .5-.7.5.2.5.1.5-.3.5.2.5.4.5.2.5.2.5-.4.5-.4.5.3.5-.5.5-.5.5 1 .5-.3.5 0 .5-.2.5 1 .5-.6.5.4.5-.4.5.1.5-.1.5.5.5-1.2.5.6.5-.1.5.3.5-.3.5.2.5-.2.5-.1.5.4.5.2.5-.2.5-.6.5.2.5.5.5-.3.5.4.5-.3.5.5.5-.8.5.4.5.2.5-.1.5-.6.5.2.5.1.5-.2.5.2.5 0 .5 0 .5 0 .5-.1.5.5.5.1.5-.4.5.5.5 0 .5-.5.5.6.5 0 .5-.2.5-.4.5.2.5-.3.5.4.5-.3.5-.3.5 0 .5.2.5-.1.5.5.5.1.5-.2.5-.2.5 0 .5 0 .5-.1.5.4.5-.4.5.4.5-.5.5-.1.5.5.5.8.5-.9.5-.2.5.7.5-.4.5-.2.5-.2.5.6.5-.4.5-.1.5.1.5.5.5-.1.5-.6.5-.3.5 1.1.5-.4.5.6.5-.5.5 0 .5-.1.5 0 .5 0 .5 0 .5.5.5-.6.5 0 .5.4.5-.6.5.2.5.1.5-.5.5.6.5-.2.5.3.5-.1.5-.5.5-.1.5.2.5.2.5 0 .5 0 .5.2.5-.5.5.2.5.6.5-.4.5 0 .5.2.5-.6.5.5.5-.1.5-.2.5.3.5.4.5-.4.5-.1.5.5.5-.3.5.4.5-.2.5-.3.5-.2.5.1.5.4.5-.7.5 1.1.5-1.5.5.9.5.2.5-.6.5-.4.5.5.5 0 .5.4.5-.3.5.1.5-.1.5.5.5-.6.5.1.5.1.5.8.5-1.8.5.3.5.5.5-.1.5.2.5.3.5 0 .5-.3.5-.2.5.2.5-.2.5.9.5-.2.5-.5.5.3.5-.4.5.2.5 0 .5-.4.5.4.5-.2.5.4.5-.5.5.1.5.4.5.3.5-.3.5-.1.5-.5.5.2.5.3.5-.1.5.1.5.3.5.1.5-.6.5-.1.5-.3.5.6.5.1.5.2.5-.6.5.1.5-.1.5.9.5-.1.5-.7.5.2.5-.3.5.1.5.8.5-.7.5 0 .5.1.5-.5.5 0 .5-.2.5 1 .5-.6.5.1.5.5.5-.7.5.2.5-.1.5.4.5-.2.5-.5.5.9.5.1.5-.3.5-.2.5.1.5-.4.5.3.5.4.5-.2.5-.5.5 0 .5.3.5.5.5-.3.5-.1.5.3.5-.5.5.3.5-.2.5-.3.5.6.5-.6.5.4.5.3.5-.7.5.8.5 0 .5-.1.5-.4.5 0 .5 0 .5.1.5-.3.5.4.5.4.5-.9.5.9.5-.8.5.1.5.1.5.1.5.1.5.5.5-.4.5.2.5-.5.5.3.5-.7.5.2.5 1.1.5-.8.5.2.5.1.5 0 .5-.7.5.5.5.7.5-.4.5-.5.5.2.5-.2.5.2.5 0 .5 0 .5-.3.5-.3.5.7.5-.1.5.1.5.2.5-.4.5.4.5-.4.5.4.5-.1.5-.5.5.6.5-.2.5-.1.5 0 .5 0 .5-.2.5-.2.5.4.5.3.5-.3.5.2.5-.7.5 1 .5-.4.5-.2.5.1.5.1.5-.1.5.1.5-.5.5.6.5-.2.5-.3.5.6.5-.3.5.5.5-.7.5.6.5-.2.5-.4.5.5.5-.1.5.1.5-.4.5-.6.5.6.5.2.5.2.5.1.5 0 .5-.2.5-.1.5-.2.5.3.5-.3.5.2.5-.2.5.4.5-.4.5 0 .5 0 .5.3.5-.3.5.5.5-.6.5.3.5-.1.5-.3.5.3.5.2.5.1.5-.3.5-.3.5.1.5.1.5.7.5-.9.5.3.5.7.5-1 .5.9.5-.1.5-.2.5-.1.5-.7.5.5.5 0 .5.5.5-.1.5-.7.5-.4.5.5.5.9.5-.6.5 0 .5.2.5-.3.5.2.5-.4.5 0 .5.4.5 0 .5.1.5-.2.5.3.5-.2.5 0 .5.2.5-.3.5-.4.5.1.5.2.5.4.5-.5.5.1.5.5.5.1.5-.9.5.1.5.3.5 0 .5-.2.5-.2.5 1.1.5-.6.5.4.5-.2.5-.1.5-.7.5.6.5 0 .5 0 .5-.3.5-.1.5.3.5.2.5.1.5-.2.5-.6.5.4.5 0 .5-.1.5-.1.5.5.5-.4.5.3.5.1.5-.4.5.1.5-.1.5.6.5-.6.5-.2.5.7.5-1 .5 1.2.5-.3.5 0 .5 0 .5-.1.5.1.5-.9.5.6.5-.2.5-.3.5.2.5.3.5.2.5-.3.5-.1.5.8.5-.3.5-.4.5 0 .5.3.5.2.5-.5.5.2.5.3.5-.8.5.5.5-.1.5-.2.5.4.5.2.5-.4.5-.1.5.6.5-.3.5-.4.5.4.5.1.5-.2.5-.5.5.3.5-.1.5.8.5-.7.5.8.5-.6.5.1.5 0 .5.4.5-.8.5.2.5 0 .5.2.5-.2.5.2.5.2.5-.4.5.5.5-.4.5 0 .5.2.5-.3.5.3.5-.3.5-.2.5.4.5.2.5-.3.5.3.5-.4.5.8.5-.7.5.2.5-.2.5 0 .5-.2.5.7.5-.5.5-.1.5.5.5 0 .5-.5.5.4.5.1.5-.3.5-.4.5.4.5-.2.5-.2.5.4.5.2.5-.9.5.6.5-.2.5.4.5-.3.5-.2.5.8.5-.5.5.5.5-.4.5-.3.5-.2.5 0 .5.4.5.1.5.4.5-.8.5.4.5.2.5.2.5-.1.5-.1.5 0 .5-.6.5.4.5-.4.5 1 .5-.3.5-.4.5 0 .5 0 .5.3.5-.3.5.1.5-.3.5.5.5 0 .5-.5.5.5.5-.2.5.3.5 0 .5-.4.5.3.5.1.5-.7.5.4.5-.3.5.5.5-.7.5.8.5-.4.5.3.5.4.5-.6.5-.3.5 0 .5.5.5-.6.5 0 .5.5.5.3.5-.3.5.5.5-.2.5-.2.5-.1.5 0 .5 0 .5.2.5-.2.5-.5.5-.1.5.2.5.3.5-.5.5.4.5.2.5.2.5-.6.5 0 .5-.1.5 0 .5.3.5.5.5-1.4.5 1 .5.1.5.3.5 0 .5-.3.5-.6.5.2.5.2.5-.2.5.5.5-.4.5-.2.5.4"/>
<path fill="none" stroke="#008000" stroke-width="5" stroke-linejoin="round" shape-rendering="crispEdges" d="M174.3 996.7l.5-1.7.5-.6.5.2.5 1 .5.3.5-1.2.5-.2.5 1.8.5 1.8.5.4.5-.3.5-3.7.5 1 .5-.3.5-.5.5-.2.5.7.5.5.5 1 .5 0 .5-2 .5-.1.5 1.5.5-.4.5-1.4.5.6.5-2.3.5 2.5.5-1.9.5 1.8.5-4 .5 3.5.5-1.6.5.8.5.7.5-1 .5 2.8.5-.8.5-1.8.5 2.6.5-2.3.5.3.5 1.9.5.1.5-2.4.5.9.5-1.2.5 1.3.5-1.6.5 1.7.5-3.6.5 2.5.5.9.5-1.3.5-2.4.5 2.3.5-1.8.5.7.5.7.5 2 .5-2.5.5-1.4.5 3.7.5-2.7.5-.5.5.4.5-.2.5 2 .5-4.5.5 1.5.5 2 .5-.9.5-.4.5-2.5.5 3.6.5-2 .5 2.4.5-4.8.5 3.3.5.2.5 1.3.5-2.1.5-1 .5 1 .5-.8.5.5.5-2.9.5 2.6.5.1.5-.1.5-.3.5 2.3.5.1.5-1.2.5-1.4.5 1.7.5-1.8.5-.7.5-.4.5.5.5 2 .5-.3.5-.2.5-1.2.5-1.4.5 1.1.5-.6.5-.9.5 2.2.5-3.6.5.1.5.2.5.7.5.5.5 1 .5.1.5-1.9.5-.3.5.8.5 1.1.5-.9.5.1.5.3.5-.9.5-.6.5-2.9.5 1.9.5-1.2.5.6.5.4.5 1.2.5.3.5-2.6.5 1.7.5 0 .5-3.6.5 2.9.5-.7.5-2.5.5 2.5.5.6.5 0 .5-1.8.5 1.5.5.3.5-.7.5-3 .5 3 .5-2.1.5-.1.5 2.3.5.1.5 0 .5-6.2.5 5.7.5-5 .5 3.6.5-2.6.5 1.9.5 1 .5-.3.5-2 .5-3.4.5 2.7.5-.1.5.7.5 1.2.5-2.6.5 2 .5-2.4.5.2.5 1.3.5.4.5.1.5-2.2.5 1.6.5-2.6.5 4.4.5-2.2.5-1 .5-1.5.5.3.5.9.5-1.3.5.9.5-1.5.5.1.5 2.4.5-3 .5.6.5-.8.5 2 .5-2.4.5.8.5.4.5-.6.5 1.1.5-.6.5-.3.5-1.1.5.3.5-1 .5 0 .5-.5.5 3.4.5-1 .5-3 .5 1.3.5 1.3.5-1.6.5 2.5.5-4.3.5 1.8.5-3.5.5 4.8.5-2.9.5 1.2.5 1 .5-1.8.5-.6.5-.5.5 3 .5.1.5-3.2.5 2.6.5-3 .5-2.6.5 2.2.5-.4.5 1.5.5 0 .5-1.8.5-.2.5.7.5-3.4.5 4.3.5.4.5-1.5.5-2.2.5 1.7.5-1.1.5.1.5 3.3.5-3 .5-.7.5 1.8.5-3.1.5 4.5.5-2.1.5-.3.5.1.5-2.8.5 2.9.5-.3.5-.7.5-1.4.5.9.5 2.2.5-3.3.5 1.6.5.6.5-3.3.5 1.1.5 1 .5 1.3.5-1.5.5-1.5.5.7.5-2.7.5 3.3.5-1 .5-.4.5.3.5.1.5-1.9.5 4.5.5-4.9.5 1.6.5-.2.5-2.7.5 1.9.5-1.2.5-.7.5-.9.5 2.5.5 1.3.5-.4.5-1.5.5.6.5-4.1.5 3.6.5-1.5.5 1.6.5-.1.5-1.3.5-.7.5-.3.5 2.8.5-3.6.5.8.5.5.5.4.5-4.5.5 2 .5-2.3.5.9.5 1.3.5-4.1.5 2.6.5-.8.5 1.2.5-1.6.5 0 .5-1 .5 1.8.5-.9.5-.9.5-5.5.5 5.6.5-2.2.5 1.7.5-.6.5.2.5-1.6.5.7.5-.6.5-2.1.5 2.8.5-1.8.5 1.3.5 1.3.5.5.5-1.2.5-.3.5-.5.5-1.2.5 2 .5-.2.5-1.4.5 1.6.5-2.5.5 2.4.5-1.6.5-.3.5 0 .5.5.5-.7.5 1.6.5.1.5 4.2.5-7 .5 2 .5 1.8.5 1 .5-2.2.5 1.4.5-2 .5 1.8.5-2 .5-1.2.5 2.2.5-.6.5.4.5-.7.5-1.6.5 1.6.5-.2.5-1 .5.6.5 1.1.5.2.5-1.3.5-.3.5.7.5-.1.5.9.5 3 .5-3 .5-2.1.5 5.1.5-2.1.5-.5.5 1.5.5-1.3.5 3.4.5-2.4.5.2.5-.4.5 1.4.5-.8.5 0 .5.5.5-.8.5 2.6.5 1 .5-3.3.5 1.1.5 1.5.5-2.3.5.9.5 2.1.5-.4.5.5.5-3.1.5 4.8.5-1.3.5-.2.5 3.1.5-1.1.5-3.4.5 5.2.5-3.5.5.9.5-1.3.5 4.3.5-2 .5 1.1.5.9.5-1.1.5-2.8.5 5.6.5-2.5.5-1.5.5 2 .5.3.5.1.5.8.5 1.1.5 2.4.5-1.1.5-.9.5 3.4.5-2.9.5 3.7.5-3.1.5-2.2.5 4.8.5-2 .5.1.5.5.5.6.5 1.1.5-.8.5-1.4.5 2.7.5.5.5-1 .5 1.3.5.7.5-3.3.5.1.5 1.9.5 2.8.5-3.3.5 4.3.5-2.2.5 1.8.5-1.1.5.2.5.6.5-.4.5 0 .5.7.5.8.5.3.5-1.2.5 1.7.5.6.5 1.6.5.3.5-.4.5.4.5-1.8.5 1.3.5 2.2.5-.3.5 1.9.5 1.1.5-.1.5-3.3.5.3.5.6.5 2.6.5-1.1.5-.7.5-1 .5 1.7.5-.1.5 2.4.5 2 .5-5.4.5 0 .5 3.6.5 0 .5-1.7.5 1.5.5.3.5-1.9.5 2.7.5-1.6.5 1.2.5 1.8.5-3.1.5 2.8.5 0 .5 1.3.5-3.3.5 1.9.5-2.5.5 2.3.5 2.1.5.9.5-1.6.5-2.2.5-.7.5 3 .5-1.3.5 1.7.5-.4.5.2.5 2.4.5-4.2.5 1.9.5 1.7.5 1.2.5-3.5.5-.2.5 1.2.5-1.6.5 1 .5 3.9.5-3.1.5-.5.5 1.5.5 1 .5-1.2.5 1.4.5 1.4.5-.1.5-1.2.5 2.3.5.7.5-1.2.5-3.3.5 4.2.5-1.6.5 2 .5-2.1.5.1.5.3.5.3.5 3.3.5-3 .5.3.5 1 .5-1.6.5 1 .5-.5.5 2.9.5-3.2.5 2 .5.6.5 1.6.5-.4.5-.6.5-1.5.5 4.7.5-1.2.5-1.1.5-2.5.5 1.5.5-.8.5.1.5.6.5-.8.5.4.5 1.2.5.4.5-2.1.5 2.4.5 2.7.5-2.3.5-.3.5.1.5 3.9.5-1.7.5.2.5-.2.5-.6.5 2.7.5-2.8.5-2.4.5 3.7.5.7.5-.8.5.7.5-.1.5 0 .5 2.5.5-.7.5-1 .5-.4.5-.8.5-.8.5 0 .5.2.5 1.3.5.1.5 1.4.5-.6.5-2.8.5.5.5 1.5.5 4.3.5-3.8.5 1.4.5-.3.5-.9.5 1.7.5-3.5.5 1.4.5-.6.5 2.6.5 2.3.5-3.2.5-.8.5.1.5 1.5.5-.1.5.8.5-1.3.5 0 .5 2.5.5.3.5-.7.5-1.9.5 2.8.5 2.6.5-5.2.5 2.4.5-1.2.5.8.5-.1.5.5.5-1.5.5 1.1.5-.9.5 1.2.5-.2.5-.9.5.8.5-.4.5 1.1.5-.1.5.2.5-3.2.5 2.7.5-.5.5.1.5 2 .5-.1.5-.8.5 1.8.5-.2.5-1 .5.8.5 1.1.5-3.4.5-.2.5.4.5.8.5.5.5 1.6.5-2.2.5 2.7.5-.1.5.1.5-1.6.5-.9.5 2.6.5-1 .5-.7.5 1.4.5-.6.5-1.3.5 1.6.5-.3.5-.4.5.8.5-1.4.5 1.1.5-.7.5 1.6.5-.7.5-.3.5 1.4.5-1.7.5-.2.5 2.3.5-2.4.5 2.9.5-.4.5-1.6.5-.3.5 3.3.5-2.3.5-.4.5-.2.5-.4.5 3.8.5-1.8.5-.6.5-.6.5.2.5 1.6.5-3.6.5 1.8.5-.2.5-.6.5 2.7.5-1.6.5 2.2.5 0 .5-2.5.5 2.5.5-.8.5-.6.5 1.8.5-1.1.5-.1.5-1.8.5 2.8.5-1.3.5 1.7.5-1.6.5 1.4.5-.9.5.7.5-3.2.5 2.5.5-.3.5.1.5-1 .5-.9.5 3 .5-.8.5.3.5 1 .5-1.8.5 2.3.5-.8.5-.4.5-.1.5 2 .5-1.5.5.3.5-1.8.5 1.6.5-1.6.5.5.5 1.2.5-.7.5-1.7.5.9.5.6.5 1.4.5-1.2.5 1.8.5-1 .5-1.1.5 2.9.5-1.9.5-.3.5-.2.5.7.5-.3.5.7.5.7.5-.7.5-.9.5 1.9.5-1.4.5.7.5-2.9.5 3.7.5-2 .5 1.7.5-2.3.5 1 .5 1.7.5-.3.2-1 .2.5.1-3.1.1 1.5.2.5.2-2.1.2 1.6.2.8.1.7.1-1.2.2 1.6.2 1.4.2-3 .2.8.1-.1.1.8.2-3.9.2 2.7.2-1.1.2-.8.1 0 .1.8.2.9.2-1.2.2-1.1.2 1.3.1 1.7.1-2.6.2 1.7.2.6.2-1.5.2-.8.1-.3.1 2.5.2-.8.2-.9.2.2.2-1 .1.4.1 1.9.2-1.2.2-1 .2-1.2.2-2.8.1.3.1-2.3.2-2.5.2 1.4.2-1.3.2-.8.1-1.2.1.9.2-.3.2-1 .2-.1.2-.7.1.6.1 1.4.2-2 .2 1.8.2-2.3.2.6.1 4 .1-4.8.2 2.6.2-2 .2 1.2.2.2.1.5.1-1.1.2-.6.2 3.3.2-2 .2 0 .1-1.6.1-.3.2 1.8.2 1 .2-2.3.2-.6.1 2.2.1-1.6.2 1.1.2-1.7.2 1.1.2-.8.1.4.1-.5.2 1.2.2-.7.2.7.2-.9.1 1.7.1-1.9.2.3.2 1.5.2-1 .2-.9.1.1.1-.2.2 1.9.2-1.1.2-.1.2-1.7.1 2.7.1 0 .2-.1.2-3 .2 2.1.2-2.5.1.8.1-.5.2.2.2-2.9.2 1 .2.1.1.9.1-2.5.2.1.2.3.2-2.6.2-.6.1-.1.1 1.1.2-2.6.2-.2.2-1.6.2-.3.1 1.3.1-1.7.2-1.1.2-2.1.2-1.3.2.5.1-.3.1-2.7.2-.8.2-1.5.2-1.3.2-.2.1-2.9.1 1.6.2-1.2.2-4.9.2-.3.2-2.3.1-1.9.1 2.1.2-2.7.2-4.5.2-2.5.2-1.9.1-.3.1-1.6.2-4 .2-4.8.2-4.1.2-2.1.1-1.3.1-1.8.2-3.7.2-6.5.2-5.2.2-4.2.1-4.4.1-2.1.2-10 .2-3.4.2-9 .2-8.6.1-4.1.1-5.7.2-12.3.2-10.5.2-10.6.2-16.2.1-7.6.1-8.8.2-17.4.2-20.4.2-22.9.2-24 .1-5.4.1-1 .2-2.1.2-2.7.2-2.8.2-3.2.1-1.8.1-2.1.2-4 .2-33.3.2-42.1.2-44.6.1-24.2.1-24.3.2-48.6.2-47.4.2-42.8.2-35.1.1-12.3.1-10.5.2-7.8.2 8.5.2 21.6.2 35.5.1 20.8.1 21.5.2 47.5.2 49.4.2 48.1.2 44.6.1 21.4.1 19.6.2 34.4.2 4.2.2 3.7.2 3.2.1 1.5.1 1.5.2 2.5.2 2.2.2 5.7.2 25.6.1 11.3.1 10.2.2 21.1.2 16.7.2 16.7.2 13.1.1 8.3.1 5.1.2 10.9.2 10.3.2 12.1.2 7.3.1 4.5.1 2.4.2 7.5.2 6.3.2 6.9.2 4.9.1 3.2.1 1.1.2 8.1.2.9.2 9.9.2-.5.1 2.8.1.3.2 4.4.2 2.3.2 1.3.2 2.8.1 1 .1 3.4.2 1.2.2 2.3.2 2.3.2 1.7.1.9.1.2.2 1.4.2 3.1.2 1.4.2 1.2.1 1.4.1.5.2 1.2.2 2.2.2-2.3.2 3.6.1-2.2.1 3.7.2.9.2.1.2 1 .2 1.6.1-.7.1.7.2 1.8.2-2.5.2 3.5.2.8.1.7.1 0 .2-1.5.2 3.5.2-1.8.2-1 .1 3.2.1.1.2.8.2.8.2 1.4.2-.1.1-2.2.1 2.1.2.4.2-.1.2.6.2.2.1 1.1.1-1.5.2-1.2.2 2.7.2-.5.2.9.1 1.2.1-1.7.2 1.6.2-1 .2.4.2.7.1-.2.1 1.6.2-1.3.2 1.2.2.2.2.1.1 1.2.1.5.2-.3.2.9.2-1.1.2 1.5.1-.3.1-.7.2 1.4.2-1.9.2 0 .2-.1.1 1.8.1-1.6.2 2.3.2-2 .2 1.1.2.5.1.6.1-1.1.2 1.5.2.4.2-.8.2-1.6.1 2.9.1-1.4.2-.2.2 1 .2-2.1.2 3.1.1-2 .1 1.7.2-.2.2-.8.2 1.3.2.1.1-.5.1.4.2.3.2-.9.2-.2.2 1 .1-1.6.1.7.2 1.8.2.1.2-.7.2.8.1-.7.1-.5.2 1.4.2-.5.2.1.2 0 .1 2.4.1-1.6.2.4.2-1 .2.8.2-1.1.1.3.1.2.2.2.2 1.9.2-2.4.2 1.7.1-.6.1-.1.2 2 .2-2.1.2-1.5.2 2.9.1-.4.1-2.2.2 2.2.2-1.5.2.9.2 1.5.1-2.3.1.8.2 1.6.2-1.3.2-.3.2 1.3.1.2.1.1.2 1.4.2-4 .2.1.2 1.1.1-1 .1.7.2-.4.2 2.1.2.4.2-1.6.1 2.9.1-.5.2-2.4.2.4.5.3.5.9.5.2.5-.4.5.3.5.1.5.5.5-1.1.5.8.5-.8.5 1.1.5-.2.5.5.5-1.8.5.6.5 3.2.5-1.2.5-1 .5 1.4.5 1.8.5-.8.5-2.1.5.5.5-1 .5.9.5 2.2.5.6.5-1.2.5-1.5.5-.8.5 2.7.5-.1.5 0 .5.2.5 2 .5-2 .5.6.5.5.5 1 .5-1.6.5 0 .5.9.5-.6.5-.9.5 1 .5 0 .5-.6.5-.6.5.7.5.4.5 1.3.5.5.5-3.8.5 2.9.5-.2.5.3.5.6.5-1.4.5-1.7.5 3 .5-.4.5.8.5-.1.5-.7.5 1 .5-.8.5.7.5-1.2.5 1.2.5 0 .5-.8.5.7.5 1.7.5-2.1.5-.7.5 2.7.5.6.5-1.7.5.3.5.3.5-1 .5 1.2.5-1 .5-1.9.5 1.9.5.6.5 1.6.5-1.9.5-.5.5.8.5-.1.5-.4.5 1.7.5-.7.5-1.1.5.9.5.8.5-2.3.5-.1.5 1.3.5-.2.5-.4.5.5.5-.8.5 3.1.5-1.5.5.4.5-1.2.5 1.2.5-3.1.5 1.9.5 1.1.5-1 .5.6.5-1.9.5 1.7.5.7.5.2.5-.6.5-.6.5 1.9.5-2.1.5.3.5.4.5.4.5.3.5-1.2.5 1.3.5 0 .5-1.7.5 1.7.5-1.3.5 2.2.5.3.5-2.9.5-.7.5 1.2.5.5.5.2.5-.3.5 1.7.5-1 .5.3.5-2.3.5 2.2.5-.8.5.5.5-.1.5 1.2.5-2.5.5 1.9.5-2.4.5 2.3.5-.4.5 1.4.5-1.5.5.5.5-1.1.5.9.5-.1.5-.2.5-.1.5.5.5-1.1.5.9.5 1.1.5-.3.5-.3.5-2.1.5.5.5-.2.5.8.5.4.5.8.5-1.1.5-.1.5 1.5.5-1.2.5-1.3.5 1.9.5-1.2.5 1 .5.9.5-.4.5-1.2.5.5.5-.6.5 1.8.5-.3.5-.6.5.5.5.5.5-1.5.5 1 .5.9.5-1.7.5 1.4.5-.6.5-1.4.5.8.5-1.2.5 1.9.5-1.4.5.7.5-.1.5 2 .5-1.1.5-.5.5 1.5.5-2.3.5 1.4.5-.3.5-.1.5.5.5-1.5.5 2.3.5-1.1.5.1.5-.1.5-.2.5 2.5.5-2.7.5-.8.5.4.5-2.3.5 3.2.5-.9.5.3.5-.5.5 1.3.5 1.2.5-2.7.5 1.8.5-.3.5 0 .5-.4.5.7.5.2.5-1.5.5-2 .5 2.9.5-1 .5 1.8.5-1.7.5.7.5-2.5.5 2.6.5-.2.5 1.1.5-.9.5.2.5-.2.5-2.1.5 2.7.5-.7.5 0 .5.3.5-1 .5.3.5.3.5.3.5.8.5-.9.5.2.5-1.2.5 2.5.5-.5.5-.4.5-1.9.5 1.6.5-1.6.5.7.5-.2.5-.5.5 1.3.5 1.4.5-2.2.5 1.5.5-.9.5-.2.5.5.5.2.5-1.2.5-.5.5.6.5-2.1.5-.2.5 2.1.5.9.5-.4.5-.2.5-.3.5 0 .5.6.5.1.5-.2.5.4.5.6.5-1.9.5-.3.5 2.7.5-2.2.5.3.5 1.1.5-.6.5 1.2.5-1 .5.7.5-.5.5.3.5-.8.5-.2.5.8.5-1.2.5 2.1.5-1.2.5-.2.5 1.8.5-2 .5-.2.5 1.2.5-.7.5.2.5.2.5.5.5-1 .5 1.5.5-1.8.5.8.5-.5.5 1.6.5-2 .5 3.1.5-3.1.5 1.2.5-.1.5.3.5-.1.5-1.7.5-.1.5 1.2.5.3.5-1.1.5 1.2.5 1 .5-1.1.5.4.5-1.2.5 2.7.5-2.1.5.2.5 0 .5-.4.5.3.5.2.5-1.2.5 1.6.5-.1.5-.8.5-.8.5.8.5-.6.5 2.6.5-.6.5-.9.5-.4.5 1.1.5-.3.5 1.1.5-3.4.5 2.2.5-1.8.5 3.2.5-3.7.5.8.5.2.5.5.5 0 .5 1.2.5-1 .5.2.5.2.5-1.6.5 2.4.5-2.2.5 1.7.5 0 .5-1.6.5 2 .5-.4.5-.2.5-.1.5 0 .5.4.5.4.5-2.9.5 3.6.5-1.4.5.1.5-.9.5.2.5.8.5-1.3.5-.3.5 1.8.5-.4.5-.6.5 1.9.5-1.3.5.1.5-.4.5.1.5-.7.5 2 .5-2.7.5.9.5-1.2.5 1.4.5.5.5-.2.5.6.5-1.1.5.9.5-1.1.5-.1.5.7.5.9.5-2.6.5 1 .5 0 .5 1.2.5-.8.5.7.5.8.5-.8.5-.2.5-.8.5-.6.5 1 .5 1.7.5-2.4.5 1 .5-.9.5 1.3.5.6.5-2.1.5 1.1.5-.2.5-.2.5-.5.5 1.2.5 0 .5 1.1.5-2 .5.7.5-.7.5.2.5 2.3.5-.8.5-1.3.5.1.5.3.5 1.3.5-.4.5-1 .5-1.1.5.8.5 1.8.5-2.3.5.6.5-1.5.5 2.2.5-.4.5 1.5.5-3.3.5.8.5 0 .5 1.6.5-.7.5-1.1.5 1.6.5-3.2.5 3.9.5-.3.5-2.3.5.7.5-.7.5 1.6.5.2.5-1.1.5 2.1.5-1.7.5.9.5-.1.5-.1.5.1.5-.6.5-.5.5-.3.5.7.5.9.5.9.5-1.3.5-.4.5 0 .5.2.5-1.1.5.2.5 1.2.5.6.5.3.5-.6.5-1.1.5 1.5.5-.6.5-.6.5 1.9.5-1.7.5 1.2.5-1.4.5.3.5 0 .5 0 .5 0 .5.2.5.9.5-1 .5-.8.5-1.1.5 2.5.5.8.5-2.5.5 1.3.5 1.3.5-2.1.5.1.5 1.2.5-1.4.5-.5.5.9.5-2.7.5 1.9.5 1.6.5-1 .5 0 .5.3.5-.4.5-.3.5.5.5-1 .5 1.5.5-.4.5.6.5-.9.5 1.8.5-1.5.5-.4.5 1.4.5-1.8.5 2.2.5.6.5-2.9.5-.3.5 1.6.5.3.5-.1.5-1.5.5-.3.5-.7.5 2.2.5-1 .5-1.3.5 2.2.5.4.5-.4.5-.7.5 1.1.5-2.8.5 2.3.5.3.5-.7.5-.5.5.2.5 1.7.5-1.9.5-1.4.5 2.1.5-1.4.5 1.1.5-.4.5.5.5-1 .5 1.6.5 0 .5-.3.5 0 .5.1.5-.7.5.3.5.5.5-.8.5-.8.5-1.1.5 2.5.5.8.5-1 .5-.2.5-.6.5.4.5.9.5 1 .5-1.1.5-.4.5 1.1.5-.1.5-3.2.5 1.4.5-1.1.5-.4.5 2.2.5-.3.5-.1.5.8.5-.6.5.3.5.1.5-1.1.5 2.6.5-1.1.5-.8.5.4.5-.9.5.8.5.1.5-1 .5-.1.5 3.2.5-3.2.5 1.8.5-1.8.5.2.5 1.1.5-1.8.5 2.8.5-1 .5-.6.5 1.7.5-2.2.5 1.8.5-1.2.5.5.5-.7.5-.4.5.2.5 1.2.5-.9.5-.3.5-.2.5-1.1.5 2.7.5-.9.5-1.3.5.9.5.4.5-.6.5.3.5 0 .5.5.5-.3.5.7.5.1.5-.5.5 0 .5-.4.5 1 .5.7.5-1.1.5.2.5.5.5-1.6.5.6.5.9.5-.6.5.8.5-.9.5 1.5.5-.9.5-1 .5-.6.5 2 .5-1.3.5 0 .5-.4.5-.5.5 2.2.5-1.3.5.5.5-.8.5 0 .5.8.5-.2.5 1.2.5-.3.5-.1.5 1 .5-1.1.5-.9.5 1.5.5.7.5-1.7.5 1.5.5-.7.5-.5.5-1.3.5.8.5-.1.5 1.5.5-1.4.5 1.5.5.2.5-1.1.5-.2.5-.3.5.8.5-.3.5.2.5-.2.5.3.5 1.5.5-1.4.5-.6.5 0 .5 1.1.5-.7.5.5.5-.1.5-.5.5-1.1.5 1.6.5-1.7.5 2.5.5-1.7.5.6.5.3.5-.6.5 1.7.5-1.5.5.8.5.2.5 1 .5-.5.5.6.5-.6.5-2.2.5 2 .5-.6.5.5.5-.1.5.9.5-2.4.5 1.9.5-.5.5-.9.5.8.5.6.5-.3.5.1.5-.5.5.7.5-.2.5-.8.5 2.3.5-2.5.5 2.1.5-1.5.5-.1.5 1.2.5-1.2.5-.3.5.5.5 1.5.5-2.2.5 2.8.5-.6.5 0 .5-.3.5-1.2.5.5.5.7.5.3.5 0 .5-.6.5-.3.5 2.4.5-3 .5 1 .5-1 .5 2 .5-1.4.5 1 .5.8.5-3.4.5 1.2.5-.8.5.5.5 0 .5.5.5 1.8.5-1.1.5.4.5 1 .5-1.1.5-.3.5 1.2.5-.7.5-1.1.5-1 .5 1.2.5.7.5-.7.5 1.2.5 1 .5-.7.5-2.9.5 1.8.5-.4.5 1.6.5-.3.5-.5.5 0 .5-.3.5-.6.5 1 .5-.8.5.6.5 1.2.5-1.1.5.9.5-.5.5-.8.5 1.2.5-.8.5.7.5-.4.5 1 .5-.5.5-.5.5-.5.5 2.3.5-1.8.5.3.5-.1.5-.3.5-.8.5.7.5-.4.5 1.6.5 1 .5-2.3.5.6.5.6.5-1.4.5.2.5 0 .5 1.8.5-.7.5-1.2.5.8.5 0 .5 0 .5-1.6.5 1.5.5.2.5.3.5-.3.5-.6.5.2.5 1 .5 1.7.5-3 .5 1.5.5.1.5-1 .5-2.5.5 3 .5-.8.5-.1.5.9.5-1.1.5-.1.5 1.6.5.1.5.1.5-.5.5-.3.5.5.5.4.5.4.5-.8.5.3.5-1 .5 1.2.5.6.5 0 .5-1.4.5-1.5.5.7.5 1 .5-1.2.5.4.5 2 .5-2.6.5 0 .5 1.2.5 0 .5 1.8.5-1.5.5.2.5-.2.5-1.5.5-.3.5.3.5 1.1.5-1.2.5 2 .5-.7.5.5.5.1.5-.5.5-1.4.5.7.5.8.5-1.4.5 1 .5-.8.5 1.5.5-.1.5-.3.5.4.5.4.5-.8.5.2.5.6.5-.6.5-.1.5-.2.5-.2.5-.2.5 1 .5-.2.5-.5.5 1.2.5.1.5-.9.5-.7.5 1 .5-.3.5.5.5-.4.5.7.5-1.7.5.9.5-.2.5.5.5-.8.5 0 .5-.5.5 1.1.5 1.4.5-.1.5-1.6.5.3.5.3.5-1.6.5 1.9.5.5.5-1.1.5-1.4.5.3.5 1.6.5-.7.5.2.5.6.5-.5.5-.2.5 0 .5-1.2.5 2.4.5.1.5-1.4.5.7.5-1 .5 1.2.5-.5.5-.3.5-.1.5 1.3.5-.8.5.4.5-1 .5 2.6.5-1.7.5-1.3.5 2.1.5-1.9.5 1.8.5-.2.5.7.5-1.6.5-1 .5 1.6.5.3.5-.4.5-.2.5 1.3.5-.5.5-1.5.5 1 .5-1.2.5.7.5-1.1.5.6.5-.1.5-.6.5 1.4.5.2.5-.6.5-.7.5 2.3.5-1.3.5-.2.5-.1.5 1.2.5-1.6.5.9.5-1 .5 1.8.5-1.5.5-.1.5 1.2.5-.1.5.4.5-.2.5 1 .5-2.1.5 1 .5.2.5-.2.5.7.5-.3.5-.4.5.7.5-1.4.5.6.5-.6.5 1.4.5-1.5.5 0 .5.9.5-.2.5-.9.5.8.5.9.5-.8.5-1 .5.8.5-.7.5.2.5 1.3.5-.3.5.7.5-1.6.5.4.5-.6.5 1.5.5-1.4.5 0 .5-.1.5 1.3.5-.2.5-.1.5.8.5-.8.5-.6.5 2.1.5-2 .5 0 .5 1.4.5-.9.5.2.5-1.3.5.6.5-.1.5.9.5-.5.5.6.5-.9.5.4.5.4.5-1.1.5.2.5 1.5.5-1.2.5 2 .5-1 .5-.1.5-.6.5.4.5-.2.5-1.1.5.7.5.1.5.9.5-.8.5-1.6.5 1.9.5-.3.5.6.5-.2.5-1.1.5-.2.5.6.5-.2.5.7.5-.4.5.3.5.5.5-.5.5-.2.5.8.5.3.5-.3.5-1.5.5 1.2.5-.2.5.8.5-2.4.5 1.7.5.1.5.3.5-.6.5 0 .5.4.5-1.2.5 1.2.5-1.2.5.5.5 1.2.5-.3.5 0 .5.6.5-.5.5-.1.5-.7.5 0 .5 1.5.5-1.5.5 1.2.5-.4.5.9.5-1.6.5 1.2.5-1.1.5.1.5 1.5.5 0 .5-1 .5.8.5-.6.5-.4.5.8.5-1.6.5 0 .5-1 .5 2.1.5-.8.5.3.5.3.5 0 .5.4.5-.4.5.9.5-2.1.5 1.9.5.1.5-1 .5 1.3.5-1.2.5 1.7.5-.6.5-.6.5-.2.5.3.5-.2.5-.1.5.2.5.7.5-1.1.5-.4.5 2 .5-1.3.5.3.5-.5.5-.3.5 1.1.5.2.5-1.2.5-.1.5.6.5.1.5-.5.5.9.5-.5.5-.7.5.5.5.2.5 0 .5-.4.5.8.5-1.1.5.9.5-.3.5-.6.5.1.5-.5.5 0 .5 0 .5 1.2.5-.3.5-.7.5.4.5-.3.5 1.3.5-1.1.5.6.5.2.5.2.5.3.5-.9.5-.9.5 1.4.5.1.5-1.6.5 1.1.5.3.5-.4.5.2.5-.9.5.3.5-.1.5 1.8.5-1 .5-.3.5-.3.5.6.5.1.5-.3.5-.6.5.2.5-.4.5-.1.5 1.3.5-.6.5.7.5-.4.5 0 .5-.1.5.2.5 1.3.5-.9.5-.8.5 1.2.5-1 .5-.6.5-.4.5.1.5 1.6.5.1.5-1.2.5.6.5-.8.5.8.5.7.5-.4.5-.4.5-.4.5.7.5.2.5-.5.5.1.5.7.5-.5.5-.9.5 1.6.5-.8.5-1.1.5 1.9.5.2.5-.7.5-.6.5-.3.5.4.5-1 .5 1.6.5 0 .5-1 .5 1.7.5-.5.5.4.5-.6.5.5.5-.6.5-.9.5.7.5-.8.5.2.5.5.5-.6.5-.2.5 1.2.5-.5.5 0 .5.3.5-1 .5.9.5-.6.5.8.5-.1.5-.2.5.9.5-.8.5.2.5-.2.5 0 .5.6.5.5.5-1.2.5-.3.5 0 .5.1.5.8.5-1.2.5-.4.5-.9.5 1.4.5.1.5-.2.5 0 .5.1.5-.5.5.4.5-.7.5.3.5 1.5.5-1.2.5-.3.2-.2.25 0 .05.8.2-1.3.25.4.05-.2.2.8.25-.4.05-.8.2-.8.25 1.5.05.3.2-1.2.25 1.1.05-1.7.2-.1.25-.4.05 1.4.2-.7.25.6.05-2.1.2 1.9.25-.5.05.9.2-.8.25-1.4.05 1.8.2-1 .25.4.05-1.3.2.6.25 0 .05 0 .2-.3.25-1.5.05.4.2-.7.25.4.05-1.3.2 1.7.25-2 .05.8.2-1.4.25 1.3.05-.4.2-2.7.25-.7.05 1 .2-1.9.25-.2.05.5.2-2.2.25-1.1.05-.3.2-1 .25-1.5.05-.6.2-3 .25-2.7.05.2.2-2.1.25-5.2.05-1.1.2-3.8.25-6.1.05-1.1.2-6.4.25-9 .05-2.6.2-7.8.25-12.3.05-2.8.2-10.1.25-11.1.05-2 .2-3.8.25-.4.05.7.2 6.1.25 8.5.05 3.2.2 8.9.25 9.5.05 1 .2 6.8.25 5.7.05 1.2.2 3.1.25 1 .05.9.2.1.25-1.5.05-.7.2-2.7.25-4.1.05.1.2-3.8.25-1.9.05.4.2 1 .25 3.6.05 2.3.2 5.5.25 6.8.05 1.4.2 5.7.25 6.7.05.1.2 4.8.25 5 .05-.4.2 3.8.25 1.4.05 2.2.2 2.4.25 1.5.05.2.2.5.25 1.4.05.3.2 1.8.25.6.05 1 .2-.1.25 1.3.05 0 .2.3.25.3.05.8.2-1.3.25 3.1.05-1.5.2.9.25 1.2.05-1.8.2.5.25 1.4.05-1.3.2.9.25.2.05.4.2-.1.25.7.05-.8.2.5.25-.5.05 1.1.2-1.2.25 1.4.05-.6.2 1.4.25-.6.05.1.2-.5.25.7.05.3.2-.1.25.8.05-1 .2 1.2.25-1.8.05.5.2.3.25 0 .05.5.2-.5.25-.4.05.5.5-.4.5.8.5.2.5-2 .5 2.6.5-.9.5.5.5.2.5-.1.5.7.5.2.5-2.2.5 2.9.5-1.5.5.4.5-.2.5-.4.5.5.5.1.5.1.5.5.5-.2.5-.7.5 1.2.5-.4.5-.7.5.7.5.2.5-.5.5 0 .5-1.3.5.3.5.9.5.1.5.6.5-1.2.5.3.5.4.5-.5.5 0 .5 1.2.5-.6.5.8.5-1.3.5 1 .5.1.5.6.5-1 .5.6.5-.1.5-.6.5-.7.5.3.5.1.5.2.5.5.5.2.5-1.1.5.8.5.1.5.1.5-1 .5-.1.5 1.1.5-.5.5.1.5.8.5-1.1.5-.4.5.4.5 1.2.5-.9.5.4.5 0 .5.8.5-1.5.5.6.5 0 .5-.3.5.3.5-1 .5 1.1.5-.9.5 1.2.5-.6.5-.8.5.7.5.6.5-.8.5-.7.5 1 .5.1.5 0 .5.1.5.6.5-.1.5 0 .5-.6.5 1 .5-1.7.5.1.5.1.5.5.5.2.5-.6.5.5.5.5.5-.3.5 0 .5.3.5.2.5-1.1.5.3.5-.7.5.4.5 0 .5.2.5-.6.5.7.5.2.5-.6.5.3.5.6.5 0 .5-.8.5.2.5.2.5.4.5.2.5-.7.5 0 .5.3.5-.4.5.5.5-.9.5.4.5 1.2.5-.8.5-.6.5 1.1.5-.5.5 0 .5 0 .5 1 .5-1.2.5-.3.5.8.5.1.5-.8.5.2.5 1 .5-.4.5.4.5-.9.5.2.5-.6.5-.5.5 1.5.5-1 .5.5.5-.3.5.3.5-.2.5 1.1.5-.8.5-.3.5.3.5-1.2.5 1.5.5-.7.5.9.5-1.1.5 1.3.5-1.9.5.9.5.8.5-.2.5-.5.5.7.5-.9.5.9.5.3.5.1.5-1.3.5 1.2.5 0 .5-.6.5 0 .5.1.5-.4.5.1.5.4.5.2.5-.5.5-.8.5 1.1.5-1.2.5 1.6.5-.3.5-.8.5.9.5 0 .5-.6.5-.5.5 1.2.5-.4.5-.3.5.6.5-.7.5.8.5.3.5-1.1.5.1.5.6.5-.3.5-.9.5 1.4.5-.8.5.8.5-1.2.5.8.5.1.5 0 .5-.6.5-.3.5 1 .5.2.5-.4.5.2.5-.6.5-.1.5 1 .5.2.5.1.5-.6.5-.6.5-.9.5 1.4.5.4.5-.2.5 0 .5-.8.5 1.1.5.1.5.5.5-.5.5.1.5-1.6.5.2.5 0 .5 1.1.5-.4.5-.5.5.1.5.6.5-1 .5 1 .5 0 .5.8.5-1 .5-.8.5 1.5.5-.6.5-.1.5-.3.5.5.5-.5.5.1.5 0 .5.8.5-.2.5-.9.5.6.5-.3.5.4.5.1.5-.3.5.6.5 0 .5-.9.5.4.5-.5.5-.2.5.1.5.1.5 0 .5.7.5 0 .5-.5.5-.1.5.5.5.1.5.4.5-.5.5.1.5-.8.5.5.5.4.5-.6.5 0 .5 1.3.5-.5.5-.4.5.4.5-.3.5-.4.5.2.5 0 .5.5.5-.5.5.1.5-.5.5 0 .5.4.5 0 .5.3.5 0 .5-.1.5-.5.5.6.5-.8.5.7.5.2.5.3.5-.7.5.2.5 0 .5-.7.5 1 .5-.5.5.5.5-.8.5.7.5.1.5-.3.5.9.5-.8.5.3.5-1.2.5 1.2.5-1.1.5.3.5.1.5.1.5 1 .5-.9.5.2.5-.3.5.2.5-.7.5.9.5 0 .5-.8.5-.2.5.5.5.4.5-.5.5-.3.5.9.5-.8.5 1 .5.2.5-1.3.5 1 .5 0 .5 0 .5.4.5.1.5-.5.5 0 .5-.1.5-.1.5.6.5-.1.5-.3.5.6.5 0 .5-.1.5-.5.5.1.5.6.5-.2.5-.2.5-.5.5.1.5.2.5-.1.5.4.5-.1.5-1 .5.8.5.2.5-.7.5-.1.5.5.5 0 .5.6.5-.5.5.3.5.2.5-.1.5-.6.5.2.5-.2.5-.2.5.8.5-1 .5.1.5 0 .5.5.5-.1.5.2.5.1.5-1.5.5.8.5.4.5.3.5 0 .5-.7.5.3.5-.5.5.9.5-.3.5.2.5-.2.5-.3.5-.3.5 1.3.5-1.3.5.2.5 1 .5-.9.5.6.5.3.5 0 .5-.2.5-.1.5.3.5-.3.5.1.5-.3.5-.1.5-.3.5 1 .5-.4.5.6.5-1.3.5 0 .5.4.5-.2.5.3.5-.2.5.1.5.2.5.6.5-.4.5-.5.5.3.5-.1.5.7.5-1.4.5.5.5.5.5-.4.5.6.5-.6.5.2.5.4.5.3.5-.2.5-.6.5.6.5-.7.5.2.5.5.5-.9.5 1 .5-.9.5.7.5-.2.5.1.5 0 .5-.7.5.5.5.3.5-.3.5.3.5-.8.5.3.5.7.5-.4.5 0 .5.1.5.3.5-.7.5.6.5-.3.5 0 .5-.4.5.9.5-.4.5-.3.5.1.5-.1.5.5.5-.8.5.3.5.1.5.2.5-.4.5 0 .5.6.5.3.5-.9.5.2.5 0 .5-.1.5.5.5-1.1.5.3.5.4.5.2.5.1.5.1.5 0 .5-.3.5 0 .5.2.5.3.5 0 .5-.5.5-.1.5.7.5-.2.5.2.5-.5.5-.1.5.3.5-.7.5.8.5-.4.5-.1.5.2.5-.4.5.3.5.6.5-.9.5.5.5-.4.5.8.5.2.5-1.3.5.8.5 0 .5.2.5.1.5-.2.5.1.5-.5.5.8.5-.3.5-.6.5.3.5 0 .5-.4.5.2.5-.1.5.7.5.2.5-.5.5.4.5-.8.5.4.5-.2.5.4.5-.5.5.2.5 0 .5-.1.5-.2.5.6.5-.6.5.4.5-.5.5 0 .5.1.5.1.5.6.5-.6.5.1.5 0 .5.3.5.2.5-.5.5.1.5.5.5.1.5-.4.5-.1.5-.7.5.5.5.6.5-.5.5-.5.5.6.5-.1.5.4.5-.3.5.1.5.5.5-.7.5-.1.5.3.5.1.5-.5.5.6.5-.7.5.2.5.4.5.3.5-.5.5.4.5-.4.5-.2.5.2.5.3.5 0 .5.3.5-.4.5.3.5.1.5-.8.5 0 .5.3.5.4.5.1.5-.7.5.1.5-.2.5.2.5.9.5-.7.5-.4.5.1.5-.3.5.8.5-.2.5.7.5-.2.5-.8.5-.1.5 0 .5.7.5.6.5-1 .5-.1.5.1.5-.2.5-.2.5.3.5-.2.5.4.5-.1.5 0 .5.3.5-.6.5.7.5-.1.5.1.5-.5.5.2.5.4.5-.3.5-.5.5.6.5-.3.5.1.5 0 .5-.4.5.2.5-.1.5.1.5.4.5.1.5-.1.5.1.5-.3.5 0 .5-.2.5.5.5-.2.5.1.5-.1.5.5.5-.8.5.2.5-.3.5.2.5.4.5-.3.5-.6.5.4.5.3.5 0 .5-.2.5.4.5-.3.5.1.5.2.5 0 .5-.7.5.4.5.5.5-.3.5.2.5-.4.5.3.5-.2.5 0 .5.1.5.2.5-.5.5.2.5-.1.5 0 .5.1.5 0 .5 0 .5.4.5-.6.5-.4.5 1.1.5.1.5-.9.5.2.5.4.5-.3.5-.1.5-.1.5-.2.5.8.5-.4.5-.4.5.6.5.1.5-.2.5.1.5-.5.5.5.5-.2.5-.1.5-.1.5.3.5.8.5-.9.5.1.5 0 .5 0 .5.5.5-.2.5.3.5-.1.5-1 .5.9.5-.4.5-.4.5 0 .5.4.5.4.5-.1.5-.2.5-.3.5.2.5.2.5 0 .5-.3.5-.4.5.3.5.4.5-.2.5.3.5-.1.5-.4.5.4.5.2.5-.6.5 0 .5.6.5-.4.5.1.5-.1.5.1.5-.1.5.4.5-.2.5-.1.5.1.5-.2.5-.2.5-.1.5.9.5-.7.5-.1.5.5.5 0 .5 0 .5 0 .5-.5.5.9.5-.2.5-.4.5 0 .5-.7.5.5.5.5.5 0 .5-.4.5-.1.5.2.5 0 .5 0 .5.3.5-1 .5.7.5-.4.5.6.5-.4.5-.2.5.6.5.1.5-.5.5.7.5-.6.5 0 .5.2.5-.1.5-.1.5.6.5-.5.5.2.5-.3.5 0 .5 0 .5-.2.5.7.5-.7.5.4.5.1.5-.7.5.7.5-.4.5.1.5-.2.5.6.5-.7.5.1.5.4.5.6.5-.3.5 0 .5-.6.5.7.5-.5.5 0 .5.9.5-.3.5-.4.5-.4.5.4.5.2.5-.2.5.4.5-.6.5.3.5.2.5-.4.5-.1.5.6.5-.4.5.1.5-.4.5.4.5 0 .5 0 .5-.1.5.1.5-.2.5.2.5-.2.5 0 .5.6.5-1.3.5.3.5.5.5-.1.5.8.5-.4.5.1.5-.6.5.1.5-.3.5.2.5.4.5-.4.5.5.5-.2.5-.5.5.1.5.2.5.3.5-.4.5 0 .5.1.5.1.5 0 .5.2.5-.7.5.4.5.3.5.3.5-.3.5-.2.5.1.5-.3.5.4.5-.5.5 0 .5.1.5.3.5.2.5-.3.5.5.5-.1.5 0 .5-.1.5-.1.5-.1.5.2.5-.2.5-.2.5.4.5.1.5-.4.5-.2.5.2.5-.5.5.9.5-.4.5.4.5-.1.5-.3.5.1.5-.6.5.5.5-.3.5.6.5-.3.5.2.5-.3.5-.1.5 0 .5.7.5-.3.5-.1.5.1.5-.3.5.2.5-.1.5.7.5-.9.5.3.5-.4.5 0 .5-.1.5.9.5-.2.5.2.5-.1.5-.4.5-.2.5.1.5-.2.5.3.5-.1.5 0 .5.7.5-.9.5.4.5-.2.5.1.5 0 .5.5.5-.6.5.3.5.5.5 0 .5-.4.5 0 .5.4.5-.3.5-.3.5-.1.5-.1.5.3.5-.1.5.5.5-.6.5.5.5-.2.5-.1.5.3.5-.3.5 0 .5-.5.5.4.5-.3.5.4.5-.1.5 0 .5-.2.5.1.5.5.5-.1.5-.3.5.4.5-.4.5-.4.5.4.5 0 .5-.2.5.1.5.2.5-.3.5.2.5.2.5-.4.5.1.5-.1.5.4.5.3.5-.2.5-.8.5.8.5-.5.5.3.5-.4.5.9.5-.4.5-.3.5.2.5.4.5-.9.5.7.5-.2.5-.6.5.6.5.1.5-.2.5-.3.5.1.5.3.5.2.5-.2.5.2.5-.6.5 0 .5.8.5.1.5-.6.5.1.5 0 .5.2.5-.1.5 0 .5-.1.5-.6.5 1 .5-.8.5.1.5-.3.5.4.5-.2.5.2.5-.1.5.4.5-.1.5-.5.5.8.5-.6.5.9.5-.6.5.1.5-.2.5.3.5.6.5-.7.5 0 .5-.2.5-.1.5.5.5 0 .5-.5.5.1.5 0 .5-.1.5.2.5-.2.5-.1.5 1.1.5-1.5.5.6.5.2.5-.3.5-.2.5.5.5 0 .5.2.5-.8.5.5.5.2.5.3.5-.2.5-.6.5.4.5-.1.5.1.5.1.5.3.5-.7.5.5.5-.4.5-.1.5 0 .5 0 .5.4.5 0 .5-.9.5.7.5.2.5 0 .5.1.5-.3.5.2.5-.7.5.5.5-.3.5-.2.5 0 .5.4.5.2.5-.7.5.5.5.3.5-.4.5.5.5-.4.5.3.5-.1.5.3.5.1.5-.8.5.7.5.1.5-1 .5 1 .5-.3.5-.4.5.7.5-.3.5-.3.5.1.5 0 .5.1.5 0 .5-.1.5-.2.5.3.5.1.5.2.5-.5.5 0 .5-.2.5.8.5-.1.5-.7.5-.2.5.6.5-.3.5.4.5.5.5-.7.5-.3.5.7.5 0 .5-.1.5-.2.5-.1.5.2.5-.6.5.5.5 0 .5.1.5-.8.5.8.5 0 .5-.3.5.3.5-.4.5.3.5-.6.5.4.5.2.5-.1.5.3.5-.1.5-.6.5.3.5.4.5-.1.5.2.5-.4.5.1.5.2.5-.6.5.4.5-.5.5.5.5.3.5-.2.5-.1.5-.1.5.3.5-.5.5.9.5-.4.5 0 .5 0 .5-.4.5.5.5-.1.5-.3.5 0 .5 0 .5-.2.5-.3.5.5.5.2.5.3.5-.3"/>
<path fill="none" stroke="#ff00ff" stroke-width="5" stroke-linejoin="round" shape-rendering="crispEdges" d="M174.3 945.8l.5-2.2.5 0 .5.1.5-.6.5 1.6.5-2.4.5 1.1.5 0 .5-.5.5 3.2.5-2.6.5-1.1.5 1.9.5-1.5.5.5.5-1.5.5-1.5.5 4.5.5-2 .5-1 .5-1 .5.5.5.1.5.2.5-2.4.5 1.7.5 2.4.5-.9.5 1.1.5-1.6.5-1.3.5 2.2.5-2.2.5.7.5 0 .5-.2.5-2.3.5 3.4.5-2.5.5 1.4.5-1.5.5.8.5.8.5-3.2.5.1.5 3 .5-2.3.5 0 .5 2.5.5-.8.5-.8.5 1.1.5-1.9.5 1.4.5-.1.5-.1.5-1.2.5 1.5.5.4.5.4.5-2.9.5-.1.5 1.8.5-1.4.5 2.5.5-2.3.5-.4.5-1.6.5 2.1.5-1.4.5 2.2.5-1 .5 0 .5-.7.5-1.6.5 1.3.5-.9.5.8.5-.8.5 2 .5-.1.5-1.8.5.4.5-.6.5.7.5 2.9.5-3.7.5-3.4.5 4.6.5-1.4.5-.9.5-.4.5 2 .5-2 .5 2.3.5-1.1.5-1.7.5 1.2.5.9.5-1.8.5-1.3.5 2 .5 2.9.5-3.9.5-.1.5-.6.5 3 .5-2.1.5.2.5.6.5-.2.5-2.8.5 3.1.5-2.6.5-.6.5 1.4.5.9.5-.7.5-.9.5-.1.5 1.3.5-.8.5-1.3.5-.5.5 1.5.5-.1.5-2.4.5 2.6.5 1 .5.8.5-.6.5-2 .5-.3.5 1.6.5-2.1.5.1.5 4.2.5-5.4.5 2.2.5-2.1.5 2.7.5-2.2.5 1.8.5.4.5-.2.5 1.1.5.5.5-4.3.5.6.5 2.8.5-1.5.5.3.5-.5.5.8.5-1.7.5 2.2.5-1.2.5 1.8.5-4.1.5-.1.5 1.1.5-1.9.5.1.5.9.5-.4.5 3.7.5-4.1.5 1.4.5-1.1.5-.9.5 1.8.5 1 .5.2.5-2.3.5 2 .5-1.2.5-1.1.5 1.4.5-2.1.5 2.7.5-3.9.5 0 .5-1.8.5 3.6.5-1.8.5.2.5 1.4.5 1.2.5-2.2.5-2.2.5 4.3.5-3.9.5 1.7.5.3.5.7.5-1.5.5 1.3.5-.7.5-.7.5-.7.5.3.5-1.7.5-.1.5 1.6.5 2.3.5-5.5.5 2.3.5.8.5-2.3.5.5.5 1.7.5-3.6.5 2.9.5-.1.5-.9.5 1.2.5-.8.5-1 .5.2.5-2.6.5.4.5 3 .5-1.2.5.7.5.4.5-2.9.5 5.2.5-6 .5 3.4.5-4 .5 2.9.5-1.3.5-1.7.5 1.1.5-.1.5-.5.5.7.5-.8.5 1 .5 1.2.5-2.8.5-.8.5 5 .5-5.2.5-.8.5 4 .5-3.5.5 2 .5-1.2.5-1 .5 2.1.5-2.8.5 2.8.5-4.3.5 3.4.5-.7.5-1.3.5-2.2.5 2.3.5.8.5-.1.5 1.7.5-.5.5-3 .5.2.5-1 .5 1.5.5.3.5.2.5-1.5.5 1.9.5-2.5.5 1.3.5 2 .5-3.4.5.6.5-3.2.5 4.6.5 0 .5-1.1.5.3.5-3.3.5 3.5.5-.3.5 1.4.5-3.6.5.5.5-2.1.5-.5.5 3 .5-.8.5-1.5.5 2 .5.9.5-3 .5 1.6.5-.8.5 0 .5 1.2.5-2.4.5 1.1.5-3.8.5 3.2.5 2.5.5-.7.5-1.5.5-3 .5 2.2.5-1.1.5-.8.5.8.5-.1.5 1.2.5-2 .5-3.1.5 2.4.5 2.5.5-2.3.5 1.1.5-.4.5-1.2.5 1.5.5.2.5 0 .5-3.5.5 1.6.5 0 .5.2.5-2.6.5.9.5 1.9.5.8.5-1.8.5-1.6.5 4.2.5-1.9.5.7.5-2.1.5.3.5.3.5.3.5-2.6.5 1.4.5-3.7.5 4.5.5-2.5.5 4.5.5-1.3.5.2.5.1.5-.6.5-1.6.5.2.5.5.5-1.4.5-.3.5 2.4.5 2.2.5-3 .5-2 .5-1.7.5-.1.5 1.7.5 2.4.5-1.3.5-1.5.5 1.8.5-.2.5 1.4.5-.3.5-.7.5-1.9.5 0 .5 1.6.5-.6.5 2.9.5 0 .5-4.1.5 4.5.5-3.9.5 1.9.5 1.2.5-2.9.5 2 .5-.4.5 1.9.5-1.8.5-.6.5 2.5.5-.4.5.8.5-1.6.5-1.4.5 3.8.5-1 .5 3.4.5-3.8.5-2.7.5 2.3.5 1.4.5-3.2.5 1.1.5 1.8.5-.5.5 1.5.5-1.5.5 4.5.5-4.2.5 1.2.5-1.5.5 1.7.5.4.5-1.1.5-.5.5 5.2.5-3.3.5.4.5-1.4.5 5.3.5-4.3.5 1.9.5.4.5 2.1.5-3.1.5 2.5.5.2.5-.7.5-.7.5-.1.5 2 .5-.2.5 1.7.5 1.6.5-.9.5.9.5-2.3.5-1.1.5 3.3.5 1.4.5-1.5.5-.8.5 1.5.5.9.5 1.4.5-1.4.5 1.2.5-.6.5-3.1.5 5.6.5-2.2.5 3.9.5.2.5-2.9.5.5.5 1.6.5-.6.5 2.4.5.3.5-4.3.5-.7.5 4.7.5 1.2.5-2.4.5-.4.5 1.4.5-1 .5-2.6.5 1.2.5 1.8.5 2.6.5-2 .5 1 .5-1.8.5 3.7.5-4.1.5 4 .5-.4.5.1.5.1.5.3.5-.4.5 1.4.5 3 .5-2.5.5-3 .5 2.1.5 2.1.5-.1.5.2.5-.6.5 0 .5-.3.5-.8.5 3.4.5.5.5 2.8.5-2.1.5-1 .5 2 .5.2.5-3.2.5 2.8.5.9.5-2.1.5 1 .5.4.5 2.3.5-2 .5 1.9.5-2.7.5 4.1.5.2.5 1.1.5-1.9.5-.4.5-1.5.5 3.9.5.9.5-1.6.5.1.5-1 .5 3.6.5-2.6.5 1.9.5-3.7.5 3.3.5.2.5 1.2.5.8.5-2.9.5.1.5 2.1.5.9.5-4 .5 1.5.5 3.8.5-3.1.5.6.5.1.5 1.3.5 0 .5-1 .5 3.3.5-.5.5-1.5.5-.4.5-.9.5 2 .5-2.5.5 1.3.5.6.5.4.5-.5.5 2.9.5-2.4.5 1.4.5-.3.5-.9.5 1.1.5-.9.5-.8.5-.1.5 2 .5-1.4.5 1.4.5-.1.5.6.5-.1.5-.8.5 1.3.5-.6.5.6.5-.5.5-.6.5 0 .5 0 .5.6.5-.9.5 1.7.5-.3.5-.2.5-.5.5 2.5.5.2.5-.4.5-1.6.5.6.5 1.2.5 0 .5-.2.5.2.5.7.5-1.5.5-1.8.5 2.3.5-.2.5 2.1.5-2.3.5.2.5.5.5-1.7.5.1.5-.5.5.1.5 2.8.5.4.5-4 .5 2.9.5.3.5.2.5.9.5-4.7.5 5.2.5-3 .5-2 .5 4.8.5-.8.5-2.6.5-.8.5 2.9.5 2 .5-.2.5-2.2.5.3.5 1.8.5-1.3.5-.4.5.8.5-.9.5-1.6.5 2.6.5-1 .5 2.6.5-1 .5-1.1.5-1 .5 1.4.5.7.5-.8.5 2.7.5.7.5-1.3.5-2.6.5.6.5-1.6.5 2.6.5-.2.5 1 .5-1.2.5-.8.5 2.7.5-1.2.5 1.3.5 1.6.5-2.7.5 2.5.5-2.1.5.4.5 1.1.5-3.7.5 3.4.5.1.5.5.5.7.5-1 .5-.2.5 1 .5-.2.5 1.6.5-2.6.5 1.7.5.2.5.3.5-1.4.5 0 .5-1.9.5 2 .5-2 .5 1.8.5-.2.5.2.5.1.5.9.5 1.2.5-.6.5-1.5.5 0 .5.9.5.9.5-1.9.5 1.9.5 1.8.5-2.3.5-1.2.5 3.1.5-.9.5-.9.5 0 .5.8.5.3.5-1.6.5 1.4.5-2.4.5 1.7.5-.7.5 1.3.5.7.5 1.1.5-.7.5-2.6.5 1.7.5 1.6.5-3 .5 1.3.5 1.9.5-1.7.5-1.2.5 1.7.5-1.1.5 1.3.5-1.5.5 1 .5-.6.5-.9.5 1.2.5 4.2.5-2.6.5 2.6.5-4.7.5 1.5.5.2.5-1.5.5.7.5.8.5 1.9.5-2.3.5-1.5.5 2.6.5 1.7.5-2.9.5.3.5.2.5-1.6.5.2.5 1.4.5 1 .5-.3.5-1.3.5.6.5 1.7.5-1.1.5-.8.5 1.9.5 2.4.5-4.3.5-.6.5.8.5-1.3.5.6.5.8.5 0 .5 0 .5.1.5-1.2.5 2.4.5-.8.5-.1.5 1 .5-.9.5.9.5 2.8.5-4.2.5-.1.5.6.5 1.2.5-2.6.5 2.4.5 0 .5 0 .5-.9.5.7.5.1.5 0 .5-1.5.5 1.9.5-1.8.5 2.1.5-3.4.5 2.3.5-.7.5 1.1.2-1.4.2 3.2.1-2.9.1 1.8.2-1.2.2-.1.2 1.7.2-1.3.1-1.6.1 1 .2-.9.2 1.3.2-.7.2-2.3.1 1 .1 1 .2.9.2 0 .2-3.1.2 2.3.1-.7.1.1.2.2.2-.6.2-.4.2-1.8.1 4.5.1-2.3.2.5.2 2.4.2-1.2.2-.6.1-.6.1-1.4.2.4.2.4.2 1.2.2-.7.1 0 .1-.2.2-1.6.2-1.7.2-5.2.2-1.7.1-.8.1.8.2-.8.2-1.9.2-.8.2-1.8.1.1.1-2.5.2 1.9.2-2.4.2.3.2-.3.1.5.1-1.6.2-.3.2 3 .2-3.3.2 2.9.1-1.3.1-.5.2.3.2 1.5.2-1.7.2.2.1 1 .1-2.2.2 1.4.2 0 .2-1 .2 2.3.1-2.2.1.4.2.9.2-.9.2.3.2-1.4.1 2.6.1 1.1.2-1.2.2-1.1.2 1.3.2-.7.1-1.4.1.3.2.9.2-.6.2-1 .2.7.1 1.3.1-1.4.2-.3.2.7.2-2.7.2 2.8.1 1.4.1-2.1.2-1.9.2 2.3.2-.5.2-1.8.1.8.1 1.7.2.5.2-1.1.2-.2.2.8.1-1.7.1.5.2.2.2-.1.2-.9.2-.4.1.2.1-1.8.2-.2.2-1 .2-.8.2.5.1-2 .1 1.5.2-2.8.2-2.8.2.3.2-1.8.1 1.2.1-3.3.2 0 .2-4 .2 1.2.2-3.2.1 2 .1-1.3.2-2.4.2-1 .2-3.7.2-1.3.1-1.6.1.1.2-4.4.2.9.2-4.5.2-3.4.1 1.7.1-1.1.2-4.6.2-7.6.2 0 .2-4.8.1-2.1.1-2.8.2-3 .2-5.4.2-3.6.2-7.6.1-1.1.1-3.3.2-5.7.2-10 .2-6.6.2-8.4.1-3.9.1-5.1.2-10.9.2-10.9.2-11.7.2-14.6.1-7 .1-9.6.2-15.4.2-17.7.2-4.7.2-1.8.1-.9.1-.9.2-2.2.2-2.5.2-2.7.2-3.2.1-1.7.1-1.8.2-20.2.2-37.6.2-44.3.2-49.4.1-27 .1-29.8.2-62.7.2-66.7.2-69.8.2-67.8.1-35.3.1-29.8.2-53.4.2-34.9.2-9.6.2 10 .1 15.3.1 19.3.2 53.4.2 64.3.2 68.1.2 70.5.1 33.3.1 32.4.2 61.7.2 58.4.2 48.5.2 43.2.1 21 .1 18.6.2 20.1.2 3.6.2 3.2.2 2.7.1 1.4.1 1.3.2 2 .2 1.9.2 1.7.2 2.7.1 10.7.1 9.5.2 14.2.2 14.7.2 14.8.2 14.3.1 5.9.1 4 .2 10.8.2 7.8.2 9.3.2 6.5.1 5.1.1 1.1.2 6 .2 6.6.2 6.8.2 5.5.1 3.1.1 1.2.2 5.5.2 2.7.2 3.9.2 4.5.1-.6.1 2.4.2 3.5.2 2.3.2 2.9.2 2.7.1 1.7.1-.4.2 4.2.2 1.4.2 2.7.2 1.2.1 1.2.1-.1.2 2.4.2.3.2 3 .2 2.5.1-1.3.1 1.5.2-.8.2 2.2.2 2.5.2-.2.1 1.4.1 1.3.2-.4.2 2.9.2-2.1.2 2 .1.7.1.9.2-1.7.2 4.6.2-.7.2.6.1 1 .1-.5.2 1.6.2-.1.2.2.2 0 .1 3.2.1-3.5.2.3.2 2.4.2-.1.2 3.9.1-.4.1-1.5.2-.7.2 2 .2-1 .2 2.9.1-1.3.1 1.3.2.9.2-1.5.2 2 .2-2.3.1 1.6.1-.1.2.5.2-.2.2 2.1.2-1.7.1 1 .1-1 .2 2.6.2-.5.2-.3.2-.2.1.4.1-.5.2-.8.2.1.2 3.3.2-2.6.1 3 .1-2.2.2 1.2.2.9.2-3.1.2.7.1 2 .1 2.6.2-4.5.2 2.4.2-.5.2.7.1 0 .1-.4.2 1.4.2.8.2-.1.2-3.8.1 4 .1-1.5.2-.1.2 1.9.2-.6.2 1.6.1-3.3.1 2.8.2-1.4.2 1 .2-.5.2 0 .1-.9.1-.1.2 3.7.2-2.1.2 1.7.2-1.9.1 1.9.1-1.2.2-.1.2-.4.2 1.7.2-2.1.1.2.1 2.8.2-1.6.2 0 .2-1.8.2 1.1.1 2.1.1-1.8.2-1.3.2 2.9.2-2.4.2 2.2.1 2 .1-.9.2-1.5.2-.6.2-.2.2 1.3.1-.2.1 1.6.2-1.5.2 1.4.2-.7.2 1.4.1-4.4.1 2.9.2-1.1.2.4.2-1.5.2 2.4.1-1.5.1 2.4.2.9.2-.4.2-3.2.2 1.6.1 1.3.1-2.4.2 2.5.2.2.2-2.3.2 1.7.1-.3.1 0 .2 1 .2-1.2.2.9.2-.8.1-.4.1-.7.2 2.1.2-1.3.5 2.3.5-1.5.5-.9.5.4.5 1.4.5.4.5-1 .5-.5.5 1.4.5.1.5 1.2.5-2.1.5 2.9.5-2.4.5.6.5 1.9.5.5.5-1.2.5.3.5.5.5-.6.5.8.5 1.7.5.4.5-1.3.5.4.5.1.5 1.5.5-2.8.5 2 .5 0 .5-.2.5.3.5-.9.5 1.3.5.3.5-.6.5 1.4.5.7.5-.5.5-.8.5-.1.5.2.5-1.2.5 1.4.5 1.1.5-1.2.5.6.5-1.1.5 1 .5.3.5-.2.5-2.1.5 1.4.5.4.5-.1.5.9.5-.6.5-1.7.5 1.6.5-.5.5 1.9.5-.3.5-.2.5 1.1.5-1.1.5-.3.5-.8.5 2 .5-1.2.5 1 .5-2.8.5 3.8.5-1.2.5.3.5-.9.5-1 .5 1.4.5-.4.5-.3.5.1.5 1.1.5-.6.5-1.1.5 1.7.5 0 .5 0 .5-1 .5-.1.5.7.5 1.5.5-2.3.5 0 .5.6.5-.9.5 3 .5-2.4.5 1.5.5-1.4.5 2.7.5-.9.5-.5.5.6.5-.2.5-1.9.5 1.6.5-.3.5 1.3.5-1 .5-1.2.5 2.6.5-1.6.5-.8.5-.4.5 1.7.5-1.9.5 1.2.5.4.5-2.2.5.6.5-.7.5 2.2.5-.2.5 0 .5-.2.5 1 .5 3.2.5-3.1.5-.6.5 0 .5 1.8.5-3.3.5 1.4.5 1.3.5-2.1.5 2.1.5-2.2.5.9.5-.6.5.7.5-2.4.5 2.1.5.2.5-.3.5 1.5.5-.5.5-1 .5 1.2.5-1.5.5.6.5.6.5-.3.5 1.1.5-1.3.5-.3.5 1.4.5-.6.5.4.5 1.9.5-1.7.5-.8.5 0 .5-1 .5 1.1.5-1 .5 1.8.5-1.1.5-1.1.5 1.6.5.9.5-.5.5-.2.5 1 .5-2.1.5.9.5-.4.5.7.5-1.6.5 2.1.5-1.4.5 1.2.5.4.5-.9.5 1.7.5-2.8.5.2.5-.1.5.4.5 1.1.5.5.5-1.1.5-.6.5.1.5-1.2.5 1.7.5-1.6.5 2.5.5-2.1.5 3 .5-4 .5 2.9.5-2.5.5 1.4.5-.2.5 1 .5 1 .5-.3.5-2.6.5 2.6.5-2.7.5.9.5 2.1.5-2.7.5.6.5.7.5-1.3.5 1.8.5-2.2.5 2.8.5-.9.5-.3.5 1.3.5-2.3.5 1.6.5-.1.5-.5.5.3.5-.6.5-.9.5-.6.5 2.6.5.2.5-.9.5-.2.5-1.1.5 3 .5-2 .5 1.1.5 0 .5-1.5.5.9.5.6.5-.9.5.4.5.4.5-2.9.5 2.7.5-.6.5.2.5-1.4.5.8.5.3.5-.3.5.7.5-.8.5.4.5 0 .5 2.1.5-1.9.5-1.5.5.2.5 1.9.5.2.5-1.1.5-.2.5 1.1.5-2.2.5 2.2.5-.1.5 0 .5-2.2.5 2.2.5.5.5-1.1.5-.4.5-.3.5.8.5.9.5-.5.5.2.5.8.5-1.7.5-.9.5.1.5 1.2.5.1.5.1.5 1.4.5-2.3.5.7.5-1.4.5.1.5.2.5.8.5 2.6.5-2 .5.2.5-1.7.5.9.5-.4.5 1.7.5-1 .5 1.1.5-1.9.5 1 .5.5.5 1 .5.3.5-2.7.5 2.1.5-1.4.5.1.5-.1.5.4.5-1.9.5 2.2.5-1 .5.7.5-2 .5 1.7.5-.2.5.1.5.3.5.8.5-.8.5.4.5-1 .5-.4.5.5.5-.1.5 1.2.5-.1.5.2.5-.3.5-.8.5-.5.5 2 .5-.1.5-2.4.5 3.7.5-2.8.5 1.7.5-2 .5 1.3.5-.2.5.7.5-.7.5-.9.5 2.1.5-2.9.5 1.1.5-1.2.5 2.5.5-.7.5-.5.5 1.8.5-.8.5-1 .5.3.5.2.5-.2.5 1 .5-.5.5-.2.5.3.5-.9.5 1.2.5.4.5-.7.5-.8.5.4.5-.5.5 1.6.5 0 .5-1.5.5.6.5-.8.5.7.5-.6.5 1.8.5-2 .5 1.8.5-1.6.5.9.5-.5.5-.4.5-.1.5.8.5.5.5-.2.5.1.5-.8.5 1.3.5-1.3.5.1.5 0 .5.4.5-1.7.5 1.9.5-.2.5.3.5 2.6.5-2.9.5-1.3.5.2.5 1.5.5-.9.5.8.5-.2.5-.6.5-1.6.5 1 .5.2.5.9.5-.9.5.8.5 1.6.5-2.5.5-1 .5 0 .5 1.9.5-.5.5 2.4.5-3.1.5-.6.5 1.5.5.8.5.9.5.2.5-.7.5-1 .5-.3.5-.3.5 1.1.5-.4.5-1.1.5.8.5-.8.5 1.4.5.1.5.2.5-1.5.5.3.5.3.5-1.2.5 1 .5.3.5.3.5-.7.5 2 .5-.7.5-1.2.5-.1.5.4.5.7.5.2.5 0 .5-.2.5-.1.5-1.3.5.6.5.5.5.3.5-1.5.5 1.8.5.3.5-2.5.5-.1.5.5.5.2.5 1.1.5.8.5.1.5-1.4.5-.3.5 2 .5-.7.5-.3.5-.8.5-.1.5 1.1.5-.6.5-.1.5-.1.5.8.5.3.5-.3.5-.5.5-1.6.5 1.9.5-.4.5-1.8.5 1.4.5-.5.5.9.5.1.5.5.5 1.1.5-3 .5 2.3.5-2 .5 1.9.5-.7.5-.1.5-3 .5 3.2.5.3.5-.4.5.5.5.8.5-1.2.5.1.5-.3.5-1 .5 2.2.5-.3.5-1.3.5 0 .5 1.1.5-.5.5-1 .5.2.5 1.9.5-1.7.5.2.5.7.5.2.5.1.5-1.1.5.1.5.3.5-.8.5 2.5.5-1.9.5 1.2.5-1.7.5.1.5 0 .5 0 .5-.7.5.7.5 1 .5.7.5-.2.5.1.5.5.5-1.3.5.7.5.2.5-1.4.5.4.5.7.5.6.5-2.3.5 2.3.5-1.8.5-.6.5.2.5-.9.5 1.4.5.3.5 1.1.5-.5.5.6.5.8.5-.5.5-1.9.5-.3.5.7.5-.2.5.7.5-.9.5-.2.5 1.5.5-.5.5.7.5 0 .5-1.7.5 1.3.5-.3.5.1.5 0 .5-1.2.5.2.5-.6.5-.3.5.4.5-.6.5 2.1.5-.4.5-.3.5.6.5-2.2.5 3.4.5-2.7.5 1 .5-.1.5-.6.5 1 .5-.7.5.9.5.1.5-1 .5 1.8.5-.9.5-1.2.5 0 .5 1.1.5-2.8.5 1.3.5 1 .5.3.5-.4.5 0 .5-.9.5-.1.5 2.3.5-1.7.5.5.5-.4.5 1.3.5-2.8.5 1.5.5-.6.5.5.5.5.5-1.1.5 1.9.5-1.6.5 1.2.5-.8.5.2.5.6.5-.7.5.4.5-.4.5.4.5-1.5.5.1.5 1.2.5-.3.5-.1.5-.3.5-1 .5 1.9.5.1.5-.9.5-1 .5.1.5 1.8.5-.9.5.4.5-.5.5 1.1.5-.5.5-1.1.5-.5.5.9.5-.4.5 0 .5 1.9.5-.1.5-.4.5-.3.5 1.9.5-2.6.5.7.5-.5.5-.3.5 1.7.5-1 .5-.5.5-.1.5.6.5-.3.5-.6.5.4.5 1 .5-1.5.5.7.5 2.5.5-1.6.5-.7.5.6.5-.4.5 0 .5 1.2.5-.7.5.4.5-.9.5.1.5.9.5.7.5-.8.5-.8.5 1.2.5-.4.5-.6.5-.1.5.5.5-1.1.5.8.5-.9.5 2.3.5-.7.5.3.5-1.4.5 1.6.5-.2.5-1 .5 1.6.5-1.1.5.3.5.2.5-.9.5.4.5.2.5.2.5-.4.5.9.5-1.1.5-.5.5 1.3.5-.4.5.5.5 1.3.5-.5.5.1.5-.8.5 0 .5-.2.5.2.5.5.5.2.5-.5.5-.7.5 1.4.5-2.2.5 1 .5.7.5 1.4.5-.8.5.7.5-1 .5-1.4.5.9.5-.4.5.7.5-.3.5.1.5.9.5 0 .5 1.1.5-1.7.5.3.5.5.5-.4.5-.5.5.2.5-1.1.5.7.5.8.5-.1.5-.6.5.4.5 2.4.5-1.1.5-.8.5-1 .5 1.7.5-1.5.5-1.1.5 2.3.5 1.2.5-2.9.5-.2.5 1 .5 1.1.5-.8.5 0 .5-.2.5 1 .5.5.5-1 .5 1.3.5-1.3.5.6.5-.4.5-.2.5.2.5-1.7.5 1.9.5 1.5.5-.3.5-.5.5-.3.5-1.4.5 1.6.5-1.5.5 1.4.5.5.5-2.2.5 1 .5 1.1.5-.5.5-.2.5 1.2.5.1.5-1.6.5-1 .5 1.1.5.5.5 1.7.5-.9.5-1.3.5 1.4.5-1.4.5-.1.5 0 .5.6.5.6.5-.2.5-1.1.5.8.5-1.9.5 1.2.5-1.1.5 1.6.5 1.8.5-1 .5-1.4.5 1.3.5 0 .5-.9.5.4.5-.9.5 2.2.5-1.2.5-1 .5-.3.5 2.5.5-2.4.5 1 .5-.4.5.2.5.7.5.3.5-.9.5.1.5.8.5-.2.5.6.5-1.9.5 2 .5.1.5-1.9.5 1 .5.3.5-.1.5.6.5.4.5-.1.5-1.9.5 2.1.5-.4.5-1.4.5-.1.5 1.3.5-1 .5 0 .5-.4.5 1.8.5-1.2.5 1.2.5-1.9.5.5.5.7.5.5.5 1 .5-1.5.5-.3.5-.7.5 2.1.5-1 .5.1.5 0 .5 0 .5-.3.5.3.5.1.5-.1.5.6.5-.4.5-1.5.5.2.5.4.5.7.5.4.5.2.5-.3.5-.4.5-.9.5 1.2.5.1.5-1.1.5 1.2.5-.1.5-.9.5.9.5 0 .5-.8.5.4.5.2.5-.3.5-1.2.5 1.6.5-1.3.5 1.8.5-.4.5.6.5-.7.5-.5.5.3.5-.8.5 1.5.5-.2.5-.4.5 1 .5-2 .5 1.2.5-.9.5-.6.5 1.1.5-.4.5 1.9.5-1.6.5-.8.5 2.5.5-.8.5.2.5-.3.5 0 .5.6.5 0 .5-1.2.5 1.2.5-2.9.5 1.8.5-.1.5.2.5.4.5-.2.5 1.1.5-2.7.5 1 .5.9.5-.1.5-1.1.5.6.5-.1.5.3.5 0 .5-.9.5.3.5-.3.5.9.5.9.5.3.5-.4.5-.5.5-1.6.5 1.6.5-1.4.5.4.5.2.5.7.5-.1.5-1 .5-.4.5 1.6.5-.2.5-1.2.5 1.6.5-1.2.5 1.4.5.2.5.7.5-1.2.5-1.2.5 2.5.5-2.8.5 1.2.5-.5.5.7.5.6.5.1.5-1.7.5-1.1.5 2.6.5.2.5-.5.5.6.5-1.2.5.1.5-1.1.5 1.7.5-1 .5 1.1.5-1 .5-.3.5-.8.5 1.4.5-.2.5.7.5-1.2.5 1.1.5-.7.5.3.5-.5.5.4.5.6.5.7.5-1.3.5.5.5.6.5-1 .5 1.4.5-1.3.5.3.5.5.5-.4.5.5.5.2.5-.2.5-.5.5-1 .5.8.5.4.5-.8.5 1 .5-.3.5-.1.5-.3.5.3.5.2.5-.4.5.5.5-1.2.5.9.5.3.5-1.5.5 1 .5.2.5-.5.5 1 .5.8.5-.3.5-.8.5.4.5.8.5-1.4.5.3.5.2.5.3.5-1.1.5.8.5-1.8.5 1.8.5-.7.5.2.5 1.9.5-1.9.5-1.1.5 1.5.5.2.5-.7.5.2.5.4.5-.1.5-1.1.5.3.5.8.5 0 .5-.2.5.9.5-.3.5-.9.5.8.5.2.5-1.6.5.6.5.3.5-1.2.5 2.1.5.1.5-2.8.5 1.2.5 1.5.5.5.5-1 .5.9.5-.8.5-.3.5 1.1.5-1.7.5.1.5.3.5-.1.5-.6.5.1.5 2 .5-1.3.5-.4.5-.5.5.2.5.6.5-.8.5 1.7.5-1.1.5.7.5-.9.5.5.5-1.2.5.6.5.2.5.9.5-1.2.5 1.6.5-1.5.5.6.5.3.5-.4.5-.4.5-.1.5.8.5-.7.5 1.8.5-.8.5-.7.5-.6.5 1.6.5.7.5-2 .5-.5.5 1.6.5.8.5-.9.5-1.1.5.4.5.8.5-1.1.5.9.5.2.5.3.5-1.4.5.8.5.4.5-.6.5.6.5-.7.5-.4.5-.3.5.7.5.1.5.8.5-.5.5-.9.5 1.1.5.9.5-1.8.5.7.5-1.4.5 2.8.5-1 .5.4.5-.8.5.1.5-.3.5-.3.5 1.7.5-.5.5-1.1.5.1.5.3.5.2.5.9.5-2.2.5.6.5-.8.5.8.5.5.5 1.1.5-.4.5-.1.5-.8.5 1.6.5-.5.5-1 .5-.2.5.9.5-1.3.5.3.5.9.5-.4.5-.3.5.3.5-.1.5 0 .5.3.5-1.3.5 1.7.5-.7.5 0 .5.2.5.3.5 1.3.5-2.1.5-.1.5.5.5-.2.5-.8.5.8.5-.1.5 1.4.5-.4.5-1.8.5-.2.5 2.6.5-1.4.5-1 .5.9.5 1.2.5-.6.5 1.1.5-.3.5-1.2.5.8.5-1.5.5 1.3.5-.1.5-.1.5.1.5 1.1.5-1.9.5.1.5.5.5-.2.5.7.5-.5.5-.9.5 1.1.5-.5.5-.6.5 1.4.5-1 .5.2.5.7.5-.9.5 0 .5.1.5.5.5-.2.5.8.5-1.2.5 1.3.5-.4.5.1.5-.5.5-.8.5.6.5.6.5.3.5-1 .5.3.5.3.5.3.5-.4.5-.9.5.1.5.7.5-.4.5 1.9.5-2.3.5.8.5-.5.5.8.5.8.5-2.4.5 1.1.5-.1.5.6.5-.7.5.5.5-.8.5 1.3.5 0 .5-.9.5-1.1.5 1.1.5.2.5-.6.5 1.5.5-1.8.5 2.2.5-1.1.5.3.5-1.1.5-.1.5 1 .5.9.5-1.3.5 1 .5-.6.5-.8.5.8.5.3.5-.7.5.5.5-.2.5.6.5-1 .5 0 .5.6.5-1.4.5.9.5-.3.5 0 .5.8.5-.4.5-.2.5.6.5-1.4.5 1.2.5-.8.5.6.5.6.5-.9.5-.6.5-.4.5.4.5-.1.5-.2.5-.1.5.2.5-.1.5.2.5-.2.5 1 .5-1.1.5-.1.5.2.5-.1.5-.7.5-.3.5.1.5-.3.2.9.25-1.3.05.3.2.2.25.1.05.6.2-1.2.25-.1.05 1 .2-.2.25-1 .05-.6.2.8.25-1.3.05 1.6.2-.5.25-1.4.05 1.2.2-1.2.25 0 .05.9.2-1.6.25-.7.05.4.2.6.25-.4.05-.6.2-1 .25.5.05-.4.2.6.25-1.9.05 1.4.2-1 .25-.3.05 0 .2-.4.25-1.6.05.9.2-1.8.25.3.05-.6.2-1 .25-.8.05-.1.2-1 .25-1 .05-.6.2-1.6.25-.3.05-2.2.2-1.9.25-1.5.05-.2.2-2.3.25-3.4.05-.6.2-4.4.25-4 .05-2.2.2-3.9.25-7.8.05-1 .2-7 .25-10.7.05-2.9.2-10.9.25-15 .05-3.4.2-16.3.25-22.1.05-3.3.2-16.8.25-19.3.05-3 .2-7.3.25 0 .05.1.2 8.7.25 17 .05 3.1.2 16 .25 16.3.05 4.7.2 10.1.25 10.7.05 2.3.2 5.1.25 3.3.05.4.2-.9.25-1.4.05-2.8.2-4 .25-7.1.05-1.3.2-3.7.25-3.1.05 0 .2 1.5.25 6.2.05 2.1.2 9.5.25 12.8.05 3.2.2 9.8.25 10.6.05 1.2.2 8.5.25 7.3.05.4.2 6.1.25 4.5.05 2.5.2 1.5.25 4.7.05 0 .2 1.4.25 2.8.05.5.2 2.3.25 2.6.05-.1.2 1.9.25.9.05.5.2.3.25 1.3.05.3.2.1.25 1.1.05-.3.2.8.25.3.05.5.2.4.25 1.3.05-.9.2.4.25 1 .05-.3.2.3.25.7.05.2.2.1.25.9.05.4.2-.1.25-.5.05-.5.2.2.25.9.05-.8.2 1.2.25-.3.05.3.2.5.25-.1.05-1.1.2.3.25 1.8.05-.8.2.9.25-.7.05.3.2-.4.25.7.05.2.5-.1.5.6.5-.2.5-1.1.5 1.6.5.3.5-.8.5 1.1.5-1.1.5.7.5.4.5-1.5.5 1.7.5-.2.5.5.5-.7.5.3.5.1.5.1.5-.5.5 1.3.5-1.4.5.6.5.4.5-.6.5 1 .5-.8.5 0 .5.6.5.8.5-1 .5.7.5-.9.5.3.5.1.5.4.5-.1.5-.7.5.1.5.3.5.4.5 1.1.5-1.4.5 1 .5.2.5-1.3.5-.3.5 1.1.5-1.3.5 1.5.5-.8.5.5.5-.2.5-1.1.5 1.5.5-.3.5-1.5.5.3.5 1.1.5 0 .5-.1.5.1.5-.6.5.3.5.9.5-1.8.5-.2.5 2.1.5-.4.5.6.5-.4.5.1.5-.4.5-.8.5.2.5 1 .5-.4.5.3.5.5.5-.9.5 1.1.5-1.3.5.3.5.4.5 0 .5-.5.5.6.5-1.3.5 1.1.5.3.5-.4.5-.1.5.1.5-.5.5 1.4.5-.8.5-.2.5.1.5.2.5-.5.5-.3.5 1.1.5-.8.5.1.5-.7.5 1.2.5.2.5-.1.5-.1.5-1.1.5 1.7.5-.5.5-.5.5.6.5-.3.5.1.5-.4.5.3.5-.2.5.4.5-.4.5.3.5-.1.5.3.5.1.5-.3.5.5.5-.5.5 1.4.5-.9.5.1.5-1.3.5.5.5.2.5.3.5-.1.5.1.5-.8.5 1.5.5-.8.5.2.5-.3.5 0 .5 0 .5.8.5-1 .5.4.5.4.5-1.2.5.2.5-.1.5.7.5-1 .5.6.5.2.5-.2.5-.6.5 1.6.5-1.2.5.1.5.8.5-.7.5 0 .5-.2.5.3.5.3.5.4.5-.6.5.2.5-1 .5 1 .5.3.5.1.5-1.3.5.4.5-.4.5.7.5.7.5-1.3.5.9.5-.5.5.8.5-.8.5-.5.5.6.5.1.5-.1.5-.1.5.6.5 0 .5-.4.5.5.5-.2.5.5.5.2.5.1.5-1.1.5.5.5-.3.5.3.5 0 .5-.3.5 0 .5.5.5-.6.5-.1.5-.2.5-.1.5 1 .5.1.5-.6.5-.2.5 1 .5-.8.5-.2.5.2.5.5.5-.3.5.7.5-.3.5-.3.5-.9.5.4.5 1.1.5-.1.5-.3.5.1.5-.3.5-.1.5-.4.5.8.5-.1.5-.7.5-.1.5.7.5-.4.5 1 .5-.7.5-.5.5.3.5-.1.5 0 .5.6.5-.6.5-.2.5-.5.5 1.3.5-.2.5-1 .5 1.4.5-.6.5.9.5-.7.5-.3.5.5.5.2.5-1 .5.7.5.1.5-.3.5-.4.5.2.5.7.5 0 .5-.3.5.7.5-.5.5.2.5-.1.5-.2.5-.2.5.4.5-.5.5.2.5-1.1.5.6.5-.1.5 1.4.5-1.7.5 1 .5.3.5-.6.5.1.5.2.5-.9.5.8.5.6.5-.2.5-.4.5 0 .5.5.5-.8.5.5.5.3.5-1 .5.5.5.4.5.5.5-1.3.5.9.5.3.5-.4.5-.3.5 0 .5-.5.5 1.1.5-1.2.5.5.5-.1.5.4.5-.4.5.7.5-1.2.5-.1.5.8.5-.6.5.9.5 0 .5 0 .5-.7.5.1.5.1.5.3.5-.1.5.3.5-.5.5 1.1.5-.7.5 0 .5-1.1.5.6.5.8.5-.7.5 0 .5-.2.5.4.5.4.5-.3.5.5.5-.9.5.6.5-.1.5 0 .5-.7.5.6.5.1.5-.7.5 1.3.5-.7.5-.5.5 1 .5-.9.5.6.5-.8.5 1.1.5-.3.5-.2.5-.3.5-.1.5 1 .5-.6.5.5.5-.8.5.4.5-.5.5.6.5-.9.5 1.1.5-.8.5.7.5-.2.5 0 .5 0 .5.7.5-1.1.5.1.5.7.5-.1.5.2.5-.3.5-.3.5.1.5.2.5.1.5-.2.5-.4.5.3.5.7.5-.9.5.8.5-1.1.5.2.5-.2.5.9.5-.5.5.1.5.6.5-.3.5-.7.5.1.5-.3.5 1 .5-.4.5-.3.5.4.5.2.5.2.5.5.5-1.1.5.6.5 0 .5-.2.5-1.2.5.5.5 1.3.5-1.1.5.4.5-.4.5 1.1.5-.4.5-.6.5-.2.5.7.5.2.5-.5.5.4.5-.2.5 0 .5 0 .5-.6.5.2.5.4.5-.1.5.6.5-1.1.5.7.5.7.5-.7.5.1.5-.4.5 0 .5.3.5-.5.5-.1.5-.1.5.1.5.8.5-.1.5.1.5-.3.5.1.5-.6.5.4.5.3.5-.5.5-.4.5.9.5-.6.5.6.5-.3.5-.2.5.1.5 0 .5.4.5 0 .5.1.5-.2.5-.1.5.2.5-.4.5-.1.5.2.5-.1.5-.4.5.2.5.6.5-.2.5-.1.5.2.5 0 .5.3.5-.1.5-.3.5.2.5-.1.5-.7.5 1.3.5-1 .5.6.5-.4.5-.1.5.7.5-.7.5.1.5-.7.5 1.1.5-.4.5-.2.5.7.5-.4.5-.9.5 1.2.5-.6.5.1.5 0 .5-.3.5.3.5.2.5.4.5.1.5-.6.5.8.5-.7.5.6.5-.4.5-.1.5-.8.5 1.2.5-.9.5.7.5-.8.5-.1.5.2.5 0 .5.1.5.5.5.1.5 0 .5.2.5-.1.5-.1.5-.1.5.4.5-.5.5-.6.5.4.5.7.5-.5.5-.1.5.6.5-.4.5 0 .5 0 .5.5.5-.4.5-.1.5.1.5-.3.5.1.5.7.5-.6.5.4.5-.6.5.1.5-.1.5.2.5.4.5-.5.5 0 .5-.3.5.7.5 0 .5-.2.5.3.5-.1.5-.3.5-.5.5.5.5-.3.5.5.5.2.5-.5.5-.4.5.9.5-.1.5.1.5-.8.5.3.5.4.5.1.5 0 .5-1 .5 1.2.5-.7.5 0 .5.4.5-.4.5 0 .5.2.5-.1.5.1.5-.1.5-.2.5.1.5.1.5 0 .5.3.5.4.5-1 .5.5.5 0 .5-.4.5.2.5 0 .5.1.5-.1.5 0 .5.4.5-.7.5.6.5.1.5-.1.5-.6.5 0 .5.3.5-.1.5 0 .5.6.5-.7.5.6.5.2.5 0 .5.2.5-.3.5-.3.5-.5.5.4.5-.1.5.7.5-.3.5-.2.5-.4.5 0 .5.3.5.2.5.2.5-.2.5-.1.5.3.5-.6.5.1.5 0 .5.2.5.2.5-.3.5-.4.5.5.5-.4.5.6.5-.9.5 1.3.5-.9.5.8.5-.3.5.2.5-.1.5-.5.5 0 .5 0 .5-.1.5.7.5-.7.5.2.5-.5.5.7.5-.6.5 1.2.5-.7.5 0 .5.1.5-.3.5.1.5.1.5.1.5.1.5-.2.5-.6.5.5.5-.1.5.1.5.2.5-.1.5.6.5-.7.5-.1.5.2.5.1.5.4.5-.7.5.4.5 0 .5-.1.5 0 .5 0 .5-.4.5.2.5.2.5.4.5-.2.5-.2.5 0 .5.1.5 0 .5.1.5-.7.5.4.5.7.5-.4.5-.3.5-.1.5.2.5-.4.5.2.5.4.5 0 .5-.1.5-.1.5-.1.5-.3.5.1.5.1.5.2.5-.3.5 0 .5.7.5-.5.5.4.5-.3.5-.2.5.1.5-.3.5.7.5 0 .5-.1.5-.1.5-.2.5-.1.5.4.5-.2.5-.1.5 0 .5.1.5-.1.5.1.5.3.5 0 .5-.4.5.2.5-.1.5-.3.5-.1.5.6.5.4.5-.4.5.3.5.1.5-.1.5-.7.5.4.5-.2.5-.4.5.7.5-.4.5.5.5-.4.5.1.5-.2.5.2.5.2.5-.2.5.1.5-.2.5.3.5-.5.5.3.5.1.5-.3.5.6.5-.4.5-.4.5.3.5.3.5-.2.5-.5.5.6.5-.3.5.2.5-.6.5 1.1.5 0 .5-.5.5-.5.5.6.5.5.5-.2.5.3.5-1.1.5.8.5-.5.5 0 .5.3.5-.1.5-.4.5-.3.5.5.5-.1.5.9.5-.9.5.6.5-.5.5.6.5-.2.5.2.5-.3.5.1.5-.3.5-.3.5.8.5.1.5-.4.5.5.5-.9.5.2.5-.1.5.3.5-.5.5.4.5.2.5.2.5-.4.5.6.5-.9.5.4.5.4.5-.9.5.3.5.1.5.4.5-.2.5-.5.5.1.5.1.5.4.5.2.5-.5.5-.3.5-.1.5.6.5.2.5-.5.5-.2.5 0 .5.3.5-.5.5.3.5.2.5-.5.5.6.5-.4.5.6.5-.9.5.9.5-.8.5.5.5.2.5-.3.5.2.5-.1.5-.1.5.5.5-.7.5.5.5.3.5-.3.5-.4.5.3.5.1.5.1.5-.8.5-.1.5 1.1.5-.3.5-.1.5-.1.5.3.5.2.5-.2.5-.5.5.3.5.5.5-.6.5-.2.5.6.5-.5.5.2.5.5.5-.2.5-.6.5.5.5.1.5.1.5-.4.5 0 .5.5.5-1 .5.2.5 0 .5.5.5 0 .5-.2.5.3.5-.5.5 0 .5.1.5-.5.5.2.5.5.5-.2.5-.1.5.5.5-.1.5-.2.5 0 .5.3.5.4.5-1 .5.3.5-.2.5.3.5-.4.5.3.5.5.5-.6.5-.2.5.5.5 0 .5-.4.5.6.5-.4.5.4.5-.2.5-.2.5-.1.5.3.5-.4.5-.2.5.9.5-.8.5.2.5 0 .5.1.5-.4.5.1.5.5.5-.1.5-.6.5.8.5-.1.5-.2.5-.4.5.9.5.3.5-.9.5-.4.5 1.2.5-.6.5.1.5 0 .5-.4.5.1.5 0 .5.2.5-.2.5.6.5-.5.5.4.5-.7.5.4.5 0 .5-.3.5.4.5-.2.5.5.5-.1.5-.3.5-.2.5.2.5.4.5-.3.5-.2.5-.1.5-.4.5.9.5-.5.5.2.5.1.5-.4.5.2.5.2.5.3.5-.5.5 0 .5.1.5-.1.5.3.5-.6.5.3.5.1.5.2.5-.1.5-.3.5.1.5-.3.5.3.5 0 .5-.4.5.5.5.7.5-.6.5-.3.5 0 .5.6.5-.4.5-.2.5-.3.5.8.5-1 .5.8.5-.4.5.6.5-.3.5-.2.5.5.5-.7.5.6.5 0 .5-.9.5.4.5 0 .5.1.5.2.5-.1.5.3.5-.4.5-.3.5-.2.5.3.5.2.5-.1.5.4.5-.1.5-.5.5.2.5.1.5.9.5-.5.5-.3.5.2.5.2.5-.6.5.8.5-.8.5.5.5.3.5-.5.5.2.5-.5.5.7.5-.1.5.3.5-.3.5-.5.5 0 .5 0 .5 0 .5.6.5-.9.5.1.5.1.5-.2.5.2.5.6.5-.4.5.1.5-.1.5.2.5.2.5-.1.5-.1.5-.3.5-.2.5.5.5.1.5.1.5-.2.5-.3.5 0 .5.4.5-.3.5-.2.5-.1.5.1.5.5.5 0 .5.3.5-.3.5-.1.5.3.5 0 .5-.4.5-.8.5.8.5-.2.5.6.5-.3.5-.3.5-.2.5.6.5.1.5-.7.5.5.5-.3.5.3.5.5.5-1 .5.6.5.3.5-.5.5-.4.5-.4.5.5.5.4.5-.4.5.7.5-1.1.5.3.5.5.5-.1.5.2.5-.1.5-.3.5.1.5.5.5-.3.5.2.5-.2.5.3.5-.2.5-.3.5-.2.5.6.5-.4.5-.4.5.9.5-.3.5 0 .5-.5.5.6.5-.2.5-.4.5.2.5-.1.5.8.5-.6.5.2.5.3.5.2.5-.7.5-.2.5.6.5 0 .5.5.5-.9.5.6.5-.1.5-.3.5-1 .5 1 .5-.1.5-.6.5.9.5-.5.5-.1.5.3.5.4.5.2.5-.2.5-.2.5-.1.5-.5.5.1.5.3.5 0 .5-.2.5.8.5-.1.5-.7.5.6.5-.3.5.7.5-.4.5-.1.5 0 .5.1.5-.3.5.6.5-.6.5-.5.5.5.5.2.5-.7.5 0 .5.4.5.5.5-.2.5-1 .5 1 .5-.3.5-.2.5.3.5.7.5-1.1.5.3.5-.6.5.8.5 0 .5 0 .5 0 .5-.5.5.3.5 0 .5-.2.5.5.5 0 .5-.5.5.3.5.1.5-.1.5.1.5-.1.5-.1.5-.3.5.1.5.3.5 0 .5-.4.5.3.5.2.5.3"/>
<rect x="180.0" y="690.7" width="1784.0" height="21.09999999999991" fill="#fff"/><g stroke="#000" stroke-width="11" stroke-linecap="round"><line x1="148.4" y1="701.3" x2="200.5" y2="678.3"/><line x1="148.4" y1="723.4" x2="200.5" y2="701.3"/><line x1="1943.4" y1="701.3" x2="1995.5" y2="678.3"/><line x1="1943.4" y1="723.4" x2="1995.5" y2="701.3"/></g>
<line x1="661.5" y1="240.4" x2="832" y2="240.4" stroke="#000000" stroke-width="5" stroke-linecap="round"/><line x1="1062" y1="240.4" x2="1233.2" y2="240.4" stroke="#ff0000" stroke-width="5" stroke-linecap="round"/><line x1="1462.8" y1="240.4" x2="1632.7" y2="240.4" stroke="#ff8000" stroke-width="5" stroke-linecap="round"/><line x1="661.5" y1="333.7" x2="832" y2="333.7" stroke="#0000ff" stroke-width="5" stroke-linecap="round"/><line x1="1062" y1="333.7" x2="1233.2" y2="333.7" stroke="#008000" stroke-width="5" stroke-linecap="round"/><line x1="1462.8" y1="333.7" x2="1632.7" y2="333.7" stroke="#ff00ff" stroke-width="5" stroke-linecap="round"/>
<defs><clipPath id="c1t" clipPathUnits="userSpaceOnUse"><rect x="-15.50" y="-93.00" width="77.50" height="86.33"/><rect x="19.49" y="-7.75" width="6.82" height="15.50"/></clipPath><clipPath id="c1l" clipPathUnits="userSpaceOnUse"><rect x="-13.90" y="-83.40" width="69.50" height="77.42"/><rect x="17.48" y="-6.95" width="6.12" height="13.90"/></clipPath></defs><g font-family="Liberation Sans, Arial, Helvetica, sans-serif" fill="#000"><text transform="translate(403.43,1440.20) scale(1.0,1.025)" font-size="77.5" text-anchor="middle">20</text>
<text transform="translate(661.86,1440.20) scale(1.0,1.025)" font-size="77.5" text-anchor="middle">30</text>
<text transform="translate(916.79,1440.20) scale(1.0,1.025)" font-size="77.5" text-anchor="middle">40</text>
<text transform="translate(1174.71,1440.20) scale(1.0,1.025)" font-size="77.5" text-anchor="middle">50</text>
<text transform="translate(1429.14,1440.20) scale(1.0,1.025)" font-size="77.5" text-anchor="middle">60</text>
<text transform="translate(1687.57,1440.20) scale(1.0,1.025)" font-size="77.5" text-anchor="middle">70</text>
<text transform="translate(1944.00,1440.20) scale(1.0,1.025)" font-size="77.5" text-anchor="middle">80</text>
<text transform="translate(105.95,1440.20) scale(1.068,1.025)" font-size="77.5" clip-path="url(#c1t)">1</text>
<text transform="translate(148.80,1440.20) scale(1.0,1.025)" font-size="77.5">0</text>
<text transform="translate(783.20,1545.70) scale(1.05,1.024)" font-size="105.5">2</text>
<text transform="translate(842.00,1546.00) scale(1.155,1.0)" font-size="96" font-family="Liberation Serif, Times New Roman, serif">θ</text>
<text transform="translate(920.80,1546.00)" font-size="105.5">(degree)</text>
<text transform="translate(112.00,1098.70) rotate(-90)" font-size="106">Intensity (a.u)</text>
<text transform="translate(24.10,173.80) scale(1.03,1.0)" font-size="139">d</text>
<text transform="translate(111.15,173.10) scale(0.93,1.0)" font-size="138">)</text>
<text transform="translate(675.90,161.90) scale(1.0,1.04)" font-size="71">P(VDF-TrFE-CTFE)-g-PMMA/</text>
<text transform="translate(1624.20,161.90) scale(1.084,1.04)" font-size="71"><tspan font-style="italic">m</tspan></text>
<text transform="translate(1680.60,161.90) scale(0.9926,1.04)" font-size="71">BNNS</text>
<text transform="translate(851.00,267.00) scale(1.0,1.04)" font-size="69.5">0 wt%</text>
<text transform="translate(1251.50,267.00) scale(1.0,1.04)" font-size="69.5" fill="#ff0000">2 wt%</text>
<text transform="translate(1652.50,267.00) scale(1.0,1.04)" font-size="69.5" fill="#ff8000">4 wt%</text>
<text transform="translate(851.00,361.00) scale(1.0,1.04)" font-size="69.5" fill="#0000ff">6 wt%</text>
<text transform="translate(1251.50,361.00) scale(1.0,1.04)" font-size="69.5" fill="#008000">8 wt%</text>
<text transform="translate(1652.53,361.00) scale(1.12,1.04)" font-size="69.5" clip-path="url(#c1l)" fill="#ff00ff">1</text>
<text transform="translate(1692.22,361.00) scale(1.0,1.04)" font-size="69.5" fill="#ff00ff">0 wt%</text></g>
</svg>
</body></html>
